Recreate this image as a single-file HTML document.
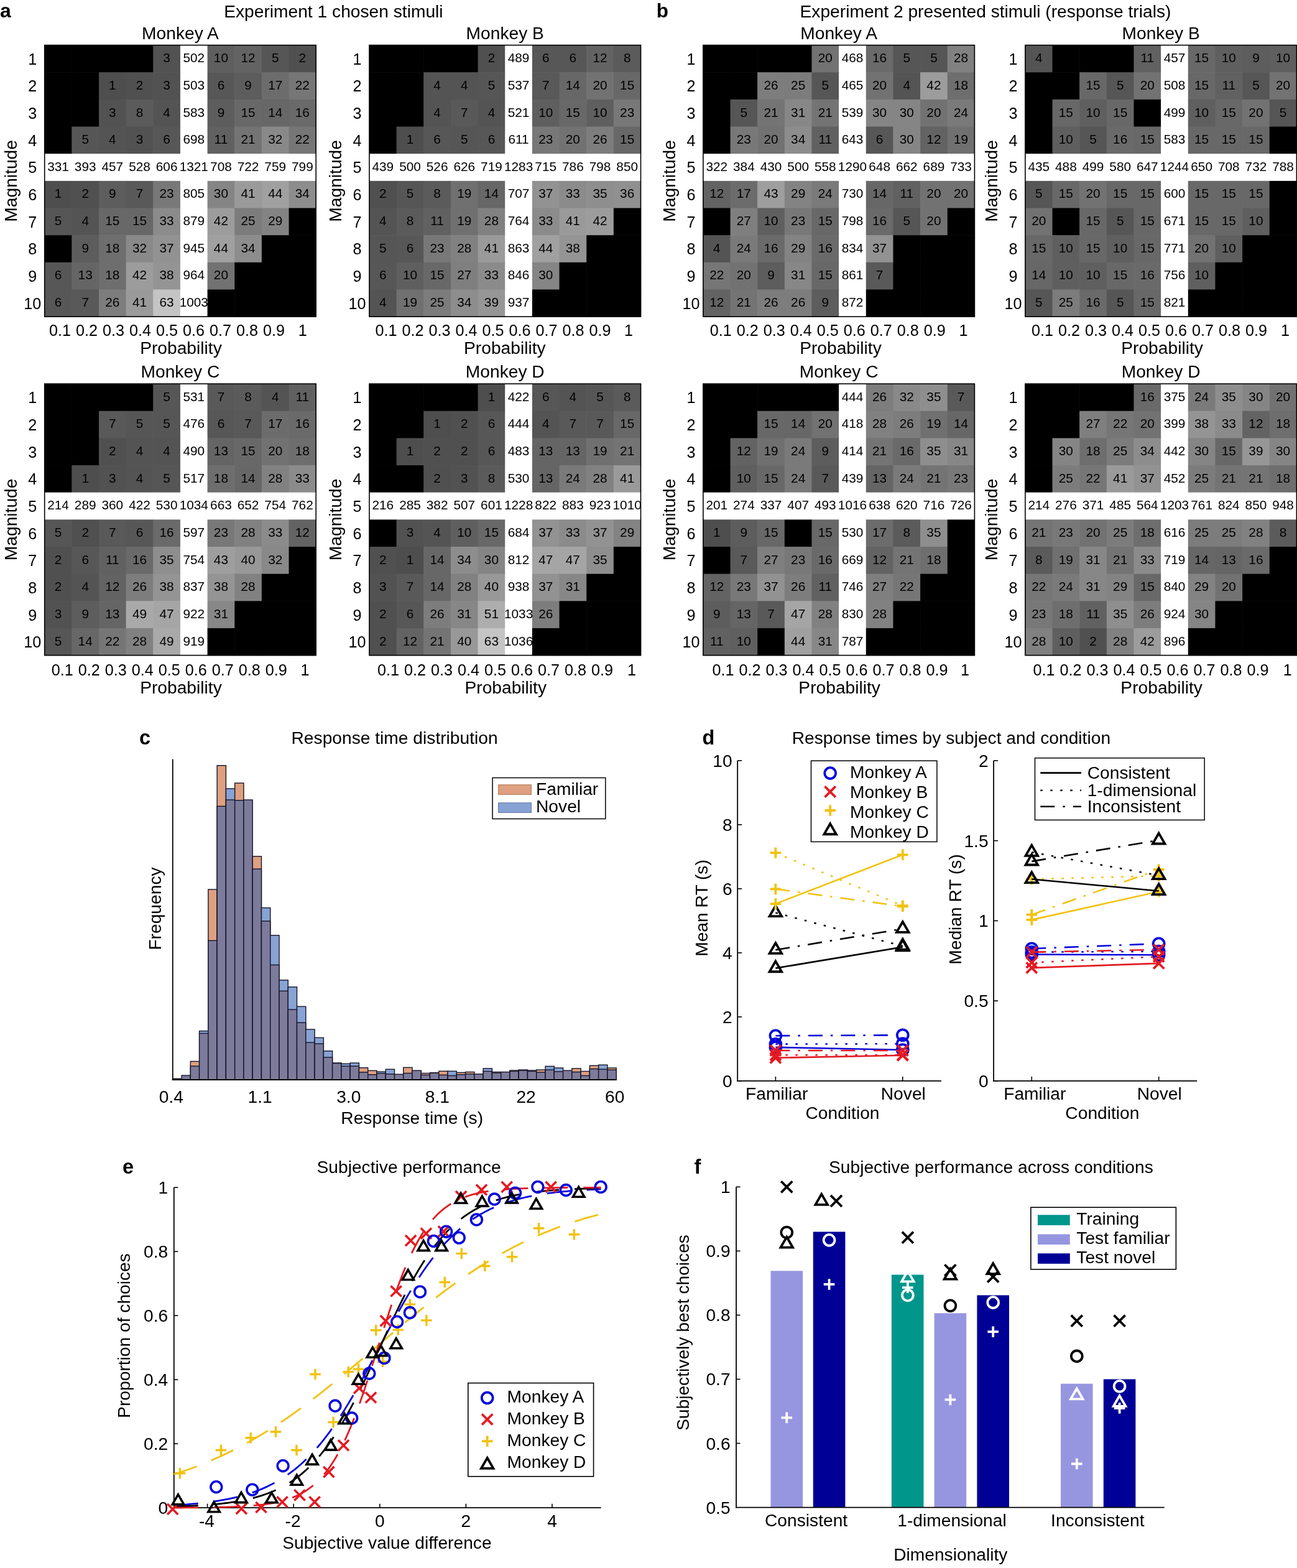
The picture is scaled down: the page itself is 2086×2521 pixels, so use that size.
<!DOCTYPE html><html><head><meta charset="utf-8"><title>Figure</title><style>html,body{margin:0;padding:0;background:#fff;width:2086px;height:2521px;overflow:hidden;}svg{display:block;}</style></head><body><svg width="2086" height="2521" viewBox="0 0 2086 2521" font-family="'Liberation Sans', Arial, Helvetica, sans-serif">
<rect width="2086" height="2521" fill="#fff"/>
<g>
<rect x="71.70" y="72.60" width="44.25" height="44.25" fill="#000"/>
<rect x="115.35" y="72.60" width="44.25" height="44.25" fill="#000"/>
<rect x="159.00" y="72.60" width="44.25" height="44.25" fill="#000"/>
<rect x="202.65" y="72.60" width="44.25" height="44.25" fill="#000"/>
<rect x="246.30" y="72.60" width="44.25" height="44.25" fill="rgb(82,82,82)"/>
<rect x="289.95" y="72.60" width="44.25" height="44.25" fill="#fff"/>
<rect x="333.60" y="72.60" width="44.25" height="44.25" fill="rgb(95,95,95)"/>
<rect x="377.25" y="72.60" width="44.25" height="44.25" fill="rgb(99,99,99)"/>
<rect x="420.90" y="72.60" width="44.25" height="44.25" fill="rgb(86,86,86)"/>
<rect x="464.55" y="72.60" width="44.25" height="44.25" fill="rgb(80,80,80)"/>
<rect x="71.70" y="116.25" width="44.25" height="44.25" fill="#000"/>
<rect x="115.35" y="116.25" width="44.25" height="44.25" fill="#000"/>
<rect x="159.00" y="116.25" width="44.25" height="44.25" fill="rgb(78,78,78)"/>
<rect x="202.65" y="116.25" width="44.25" height="44.25" fill="rgb(80,80,80)"/>
<rect x="246.30" y="116.25" width="44.25" height="44.25" fill="rgb(82,82,82)"/>
<rect x="289.95" y="116.25" width="44.25" height="44.25" fill="#fff"/>
<rect x="333.60" y="116.25" width="44.25" height="44.25" fill="rgb(87,87,87)"/>
<rect x="377.25" y="116.25" width="44.25" height="44.25" fill="rgb(93,93,93)"/>
<rect x="420.90" y="116.25" width="44.25" height="44.25" fill="rgb(108,108,108)"/>
<rect x="464.55" y="116.25" width="44.25" height="44.25" fill="rgb(118,118,118)"/>
<rect x="71.70" y="159.90" width="44.25" height="44.25" fill="#000"/>
<rect x="115.35" y="159.90" width="44.25" height="44.25" fill="#000"/>
<rect x="159.00" y="159.90" width="44.25" height="44.25" fill="rgb(82,82,82)"/>
<rect x="202.65" y="159.90" width="44.25" height="44.25" fill="rgb(91,91,91)"/>
<rect x="246.30" y="159.90" width="44.25" height="44.25" fill="rgb(84,84,84)"/>
<rect x="289.95" y="159.90" width="44.25" height="44.25" fill="#fff"/>
<rect x="333.60" y="159.90" width="44.25" height="44.25" fill="rgb(93,93,93)"/>
<rect x="377.25" y="159.90" width="44.25" height="44.25" fill="rgb(104,104,104)"/>
<rect x="420.90" y="159.90" width="44.25" height="44.25" fill="rgb(103,103,103)"/>
<rect x="464.55" y="159.90" width="44.25" height="44.25" fill="rgb(106,106,106)"/>
<rect x="71.70" y="203.55" width="44.25" height="44.25" fill="#000"/>
<rect x="115.35" y="203.55" width="44.25" height="44.25" fill="rgb(86,86,86)"/>
<rect x="159.00" y="203.55" width="44.25" height="44.25" fill="rgb(84,84,84)"/>
<rect x="202.65" y="203.55" width="44.25" height="44.25" fill="rgb(82,82,82)"/>
<rect x="246.30" y="203.55" width="44.25" height="44.25" fill="rgb(87,87,87)"/>
<rect x="289.95" y="203.55" width="44.25" height="44.25" fill="#fff"/>
<rect x="333.60" y="203.55" width="44.25" height="44.25" fill="rgb(97,97,97)"/>
<rect x="377.25" y="203.55" width="44.25" height="44.25" fill="rgb(116,116,116)"/>
<rect x="420.90" y="203.55" width="44.25" height="44.25" fill="rgb(137,137,137)"/>
<rect x="464.55" y="203.55" width="44.25" height="44.25" fill="rgb(118,118,118)"/>
<rect x="71.70" y="247.20" width="44.25" height="44.25" fill="#fff"/>
<rect x="115.35" y="247.20" width="44.25" height="44.25" fill="#fff"/>
<rect x="159.00" y="247.20" width="44.25" height="44.25" fill="#fff"/>
<rect x="202.65" y="247.20" width="44.25" height="44.25" fill="#fff"/>
<rect x="246.30" y="247.20" width="44.25" height="44.25" fill="#fff"/>
<rect x="289.95" y="247.20" width="44.25" height="44.25" fill="#fff"/>
<rect x="333.60" y="247.20" width="44.25" height="44.25" fill="#fff"/>
<rect x="377.25" y="247.20" width="44.25" height="44.25" fill="#fff"/>
<rect x="420.90" y="247.20" width="44.25" height="44.25" fill="#fff"/>
<rect x="464.55" y="247.20" width="44.25" height="44.25" fill="#fff"/>
<rect x="71.70" y="290.85" width="44.25" height="44.25" fill="rgb(78,78,78)"/>
<rect x="115.35" y="290.85" width="44.25" height="44.25" fill="rgb(80,80,80)"/>
<rect x="159.00" y="290.85" width="44.25" height="44.25" fill="rgb(93,93,93)"/>
<rect x="202.65" y="290.85" width="44.25" height="44.25" fill="rgb(89,89,89)"/>
<rect x="246.30" y="290.85" width="44.25" height="44.25" fill="rgb(120,120,120)"/>
<rect x="289.95" y="290.85" width="44.25" height="44.25" fill="#fff"/>
<rect x="333.60" y="290.85" width="44.25" height="44.25" fill="rgb(133,133,133)"/>
<rect x="377.25" y="290.85" width="44.25" height="44.25" fill="rgb(154,154,154)"/>
<rect x="420.90" y="290.85" width="44.25" height="44.25" fill="rgb(160,160,160)"/>
<rect x="464.55" y="290.85" width="44.25" height="44.25" fill="rgb(141,141,141)"/>
<rect x="71.70" y="334.50" width="44.25" height="44.25" fill="rgb(86,86,86)"/>
<rect x="115.35" y="334.50" width="44.25" height="44.25" fill="rgb(84,84,84)"/>
<rect x="159.00" y="334.50" width="44.25" height="44.25" fill="rgb(104,104,104)"/>
<rect x="202.65" y="334.50" width="44.25" height="44.25" fill="rgb(104,104,104)"/>
<rect x="246.30" y="334.50" width="44.25" height="44.25" fill="rgb(139,139,139)"/>
<rect x="289.95" y="334.50" width="44.25" height="44.25" fill="#fff"/>
<rect x="333.60" y="334.50" width="44.25" height="44.25" fill="rgb(156,156,156)"/>
<rect x="377.25" y="334.50" width="44.25" height="44.25" fill="rgb(124,124,124)"/>
<rect x="420.90" y="334.50" width="44.25" height="44.25" fill="rgb(131,131,131)"/>
<rect x="464.55" y="334.50" width="44.25" height="44.25" fill="#000"/>
<rect x="71.70" y="378.15" width="44.25" height="44.25" fill="#000"/>
<rect x="115.35" y="378.15" width="44.25" height="44.25" fill="rgb(93,93,93)"/>
<rect x="159.00" y="378.15" width="44.25" height="44.25" fill="rgb(110,110,110)"/>
<rect x="202.65" y="378.15" width="44.25" height="44.25" fill="rgb(137,137,137)"/>
<rect x="246.30" y="378.15" width="44.25" height="44.25" fill="rgb(146,146,146)"/>
<rect x="289.95" y="378.15" width="44.25" height="44.25" fill="#fff"/>
<rect x="333.60" y="378.15" width="44.25" height="44.25" fill="rgb(160,160,160)"/>
<rect x="377.25" y="378.15" width="44.25" height="44.25" fill="rgb(141,141,141)"/>
<rect x="420.90" y="378.15" width="44.25" height="44.25" fill="#000"/>
<rect x="464.55" y="378.15" width="44.25" height="44.25" fill="#000"/>
<rect x="71.70" y="421.80" width="44.25" height="44.25" fill="rgb(87,87,87)"/>
<rect x="115.35" y="421.80" width="44.25" height="44.25" fill="rgb(101,101,101)"/>
<rect x="159.00" y="421.80" width="44.25" height="44.25" fill="rgb(110,110,110)"/>
<rect x="202.65" y="421.80" width="44.25" height="44.25" fill="rgb(156,156,156)"/>
<rect x="246.30" y="421.80" width="44.25" height="44.25" fill="rgb(148,148,148)"/>
<rect x="289.95" y="421.80" width="44.25" height="44.25" fill="#fff"/>
<rect x="333.60" y="421.80" width="44.25" height="44.25" fill="rgb(114,114,114)"/>
<rect x="377.25" y="421.80" width="44.25" height="44.25" fill="#000"/>
<rect x="420.90" y="421.80" width="44.25" height="44.25" fill="#000"/>
<rect x="464.55" y="421.80" width="44.25" height="44.25" fill="#000"/>
<rect x="71.70" y="465.45" width="44.25" height="44.25" fill="rgb(87,87,87)"/>
<rect x="115.35" y="465.45" width="44.25" height="44.25" fill="rgb(89,89,89)"/>
<rect x="159.00" y="465.45" width="44.25" height="44.25" fill="rgb(125,125,125)"/>
<rect x="202.65" y="465.45" width="44.25" height="44.25" fill="rgb(154,154,154)"/>
<rect x="246.30" y="465.45" width="44.25" height="44.25" fill="rgb(196,196,196)"/>
<rect x="289.95" y="465.45" width="44.25" height="44.25" fill="#fff"/>
<rect x="333.60" y="465.45" width="44.25" height="44.25" fill="#000"/>
<rect x="377.25" y="465.45" width="44.25" height="44.25" fill="#000"/>
<rect x="420.90" y="465.45" width="44.25" height="44.25" fill="#000"/>
<rect x="464.55" y="465.45" width="44.25" height="44.25" fill="#000"/>
<rect x="71.70" y="72.60" width="436.50" height="436.50" fill="none" stroke="#000" stroke-width="1.6"/>
<text x="268.12" y="100.22" font-size="20.8" text-anchor="middle">3</text>
<text x="311.77" y="100.22" font-size="20.8" text-anchor="middle">502</text>
<text x="355.42" y="100.22" font-size="20.8" text-anchor="middle">10</text>
<text x="399.07" y="100.22" font-size="20.8" text-anchor="middle">12</text>
<text x="442.72" y="100.22" font-size="20.8" text-anchor="middle">5</text>
<text x="486.38" y="100.22" font-size="20.8" text-anchor="middle">2</text>
<text x="180.82" y="143.88" font-size="20.8" text-anchor="middle">1</text>
<text x="224.48" y="143.88" font-size="20.8" text-anchor="middle">2</text>
<text x="268.12" y="143.88" font-size="20.8" text-anchor="middle">3</text>
<text x="311.77" y="143.88" font-size="20.8" text-anchor="middle">503</text>
<text x="355.42" y="143.88" font-size="20.8" text-anchor="middle">6</text>
<text x="399.07" y="143.88" font-size="20.8" text-anchor="middle">9</text>
<text x="442.72" y="143.88" font-size="20.8" text-anchor="middle">17</text>
<text x="486.38" y="143.88" font-size="20.8" text-anchor="middle">22</text>
<text x="180.82" y="187.53" font-size="20.8" text-anchor="middle">3</text>
<text x="224.48" y="187.53" font-size="20.8" text-anchor="middle">8</text>
<text x="268.12" y="187.53" font-size="20.8" text-anchor="middle">4</text>
<text x="311.77" y="187.53" font-size="20.8" text-anchor="middle">583</text>
<text x="355.42" y="187.53" font-size="20.8" text-anchor="middle">9</text>
<text x="399.07" y="187.53" font-size="20.8" text-anchor="middle">15</text>
<text x="442.72" y="187.53" font-size="20.8" text-anchor="middle">14</text>
<text x="486.38" y="187.53" font-size="20.8" text-anchor="middle">16</text>
<text x="137.18" y="231.18" font-size="20.8" text-anchor="middle">5</text>
<text x="180.82" y="231.18" font-size="20.8" text-anchor="middle">4</text>
<text x="224.48" y="231.18" font-size="20.8" text-anchor="middle">3</text>
<text x="268.12" y="231.18" font-size="20.8" text-anchor="middle">6</text>
<text x="311.77" y="231.18" font-size="20.8" text-anchor="middle">698</text>
<text x="355.42" y="231.18" font-size="20.8" text-anchor="middle">11</text>
<text x="399.07" y="231.18" font-size="20.8" text-anchor="middle">21</text>
<text x="442.72" y="231.18" font-size="20.8" text-anchor="middle">32</text>
<text x="486.38" y="231.18" font-size="20.8" text-anchor="middle">22</text>
<text x="93.53" y="274.82" font-size="20.8" text-anchor="middle">331</text>
<text x="137.18" y="274.82" font-size="20.8" text-anchor="middle">393</text>
<text x="180.82" y="274.82" font-size="20.8" text-anchor="middle">457</text>
<text x="224.48" y="274.82" font-size="20.8" text-anchor="middle">528</text>
<text x="268.12" y="274.82" font-size="20.8" text-anchor="middle">606</text>
<text x="311.77" y="274.82" font-size="20.8" text-anchor="middle">1321</text>
<text x="355.42" y="274.82" font-size="20.8" text-anchor="middle">708</text>
<text x="399.07" y="274.82" font-size="20.8" text-anchor="middle">722</text>
<text x="442.72" y="274.82" font-size="20.8" text-anchor="middle">759</text>
<text x="486.38" y="274.82" font-size="20.8" text-anchor="middle">799</text>
<text x="93.53" y="318.47" font-size="20.8" text-anchor="middle">1</text>
<text x="137.18" y="318.47" font-size="20.8" text-anchor="middle">2</text>
<text x="180.82" y="318.47" font-size="20.8" text-anchor="middle">9</text>
<text x="224.48" y="318.47" font-size="20.8" text-anchor="middle">7</text>
<text x="268.12" y="318.47" font-size="20.8" text-anchor="middle">23</text>
<text x="311.77" y="318.47" font-size="20.8" text-anchor="middle">805</text>
<text x="355.42" y="318.47" font-size="20.8" text-anchor="middle">30</text>
<text x="399.07" y="318.47" font-size="20.8" text-anchor="middle">41</text>
<text x="442.72" y="318.47" font-size="20.8" text-anchor="middle">44</text>
<text x="486.38" y="318.47" font-size="20.8" text-anchor="middle">34</text>
<text x="93.53" y="362.12" font-size="20.8" text-anchor="middle">5</text>
<text x="137.18" y="362.12" font-size="20.8" text-anchor="middle">4</text>
<text x="180.82" y="362.12" font-size="20.8" text-anchor="middle">15</text>
<text x="224.48" y="362.12" font-size="20.8" text-anchor="middle">15</text>
<text x="268.12" y="362.12" font-size="20.8" text-anchor="middle">33</text>
<text x="311.77" y="362.12" font-size="20.8" text-anchor="middle">879</text>
<text x="355.42" y="362.12" font-size="20.8" text-anchor="middle">42</text>
<text x="399.07" y="362.12" font-size="20.8" text-anchor="middle">25</text>
<text x="442.72" y="362.12" font-size="20.8" text-anchor="middle">29</text>
<text x="137.18" y="405.78" font-size="20.8" text-anchor="middle">9</text>
<text x="180.82" y="405.78" font-size="20.8" text-anchor="middle">18</text>
<text x="224.48" y="405.78" font-size="20.8" text-anchor="middle">32</text>
<text x="268.12" y="405.78" font-size="20.8" text-anchor="middle">37</text>
<text x="311.77" y="405.78" font-size="20.8" text-anchor="middle">945</text>
<text x="355.42" y="405.78" font-size="20.8" text-anchor="middle">44</text>
<text x="399.07" y="405.78" font-size="20.8" text-anchor="middle">34</text>
<text x="93.53" y="449.43" font-size="20.8" text-anchor="middle">6</text>
<text x="137.18" y="449.43" font-size="20.8" text-anchor="middle">13</text>
<text x="180.82" y="449.43" font-size="20.8" text-anchor="middle">18</text>
<text x="224.48" y="449.43" font-size="20.8" text-anchor="middle">42</text>
<text x="268.12" y="449.43" font-size="20.8" text-anchor="middle">38</text>
<text x="311.77" y="449.43" font-size="20.8" text-anchor="middle">964</text>
<text x="355.42" y="449.43" font-size="20.8" text-anchor="middle">20</text>
<text x="93.53" y="493.07" font-size="20.8" text-anchor="middle">6</text>
<text x="137.18" y="493.07" font-size="20.8" text-anchor="middle">7</text>
<text x="180.82" y="493.07" font-size="20.8" text-anchor="middle">26</text>
<text x="224.48" y="493.07" font-size="20.8" text-anchor="middle">41</text>
<text x="268.12" y="493.07" font-size="20.8" text-anchor="middle">63</text>
<text x="311.77" y="493.07" font-size="20.8" text-anchor="middle">1003</text>
<text x="52.20" y="103.83" font-size="25.2" text-anchor="middle" fill="#000">1</text>
<text x="52.20" y="147.47" font-size="25.2" text-anchor="middle" fill="#000">2</text>
<text x="52.20" y="191.12" font-size="25.2" text-anchor="middle" fill="#000">3</text>
<text x="52.20" y="234.78" font-size="25.2" text-anchor="middle" fill="#000">4</text>
<text x="52.20" y="278.42" font-size="25.2" text-anchor="middle" fill="#000">5</text>
<text x="52.20" y="322.07" font-size="25.2" text-anchor="middle" fill="#000">6</text>
<text x="52.20" y="365.72" font-size="25.2" text-anchor="middle" fill="#000">7</text>
<text x="52.20" y="409.38" font-size="25.2" text-anchor="middle" fill="#000">8</text>
<text x="52.20" y="453.02" font-size="25.2" text-anchor="middle" fill="#000">9</text>
<text x="52.20" y="496.67" font-size="25.2" text-anchor="middle" fill="#000">10</text>
<text x="78.92" y="539.70" font-size="25.2" text-anchor="start" fill="#000">0.1</text>
<text x="121.92" y="539.70" font-size="25.2" text-anchor="start" fill="#000">0.2</text>
<text x="164.92" y="539.70" font-size="25.2" text-anchor="start" fill="#000">0.3</text>
<text x="207.92" y="539.70" font-size="25.2" text-anchor="start" fill="#000">0.4</text>
<text x="250.92" y="539.70" font-size="25.2" text-anchor="start" fill="#000">0.5</text>
<text x="293.92" y="539.70" font-size="25.2" text-anchor="start" fill="#000">0.6</text>
<text x="336.92" y="539.70" font-size="25.2" text-anchor="start" fill="#000">0.7</text>
<text x="379.92" y="539.70" font-size="25.2" text-anchor="start" fill="#000">0.8</text>
<text x="422.92" y="539.70" font-size="25.2" text-anchor="start" fill="#000">0.9</text>
<text x="479.80" y="539.70" font-size="25.2" text-anchor="start" fill="#000">1</text>
<text x="290.95" y="569.30" font-size="28.2" text-anchor="middle" fill="#000">Probability</text>
<text x="26.70" y="290.85" font-size="28.2" text-anchor="middle" fill="#000" transform="rotate(-90 26.70 290.85)">Magnitude</text>
<text x="289.95" y="62.70" font-size="28.2" text-anchor="middle" fill="#000">Monkey A</text>
</g>
<g>
<rect x="594.00" y="72.60" width="44.25" height="44.25" fill="#000"/>
<rect x="637.65" y="72.60" width="44.25" height="44.25" fill="#000"/>
<rect x="681.30" y="72.60" width="44.25" height="44.25" fill="#000"/>
<rect x="724.95" y="72.60" width="44.25" height="44.25" fill="#000"/>
<rect x="768.60" y="72.60" width="44.25" height="44.25" fill="rgb(80,80,80)"/>
<rect x="812.25" y="72.60" width="44.25" height="44.25" fill="#fff"/>
<rect x="855.90" y="72.60" width="44.25" height="44.25" fill="rgb(87,87,87)"/>
<rect x="899.55" y="72.60" width="44.25" height="44.25" fill="rgb(87,87,87)"/>
<rect x="943.20" y="72.60" width="44.25" height="44.25" fill="rgb(99,99,99)"/>
<rect x="986.85" y="72.60" width="44.25" height="44.25" fill="rgb(91,91,91)"/>
<rect x="594.00" y="116.25" width="44.25" height="44.25" fill="#000"/>
<rect x="637.65" y="116.25" width="44.25" height="44.25" fill="#000"/>
<rect x="681.30" y="116.25" width="44.25" height="44.25" fill="rgb(84,84,84)"/>
<rect x="724.95" y="116.25" width="44.25" height="44.25" fill="rgb(84,84,84)"/>
<rect x="768.60" y="116.25" width="44.25" height="44.25" fill="rgb(86,86,86)"/>
<rect x="812.25" y="116.25" width="44.25" height="44.25" fill="#fff"/>
<rect x="855.90" y="116.25" width="44.25" height="44.25" fill="rgb(89,89,89)"/>
<rect x="899.55" y="116.25" width="44.25" height="44.25" fill="rgb(103,103,103)"/>
<rect x="943.20" y="116.25" width="44.25" height="44.25" fill="rgb(114,114,114)"/>
<rect x="986.85" y="116.25" width="44.25" height="44.25" fill="rgb(104,104,104)"/>
<rect x="594.00" y="159.90" width="44.25" height="44.25" fill="#000"/>
<rect x="637.65" y="159.90" width="44.25" height="44.25" fill="#000"/>
<rect x="681.30" y="159.90" width="44.25" height="44.25" fill="rgb(84,84,84)"/>
<rect x="724.95" y="159.90" width="44.25" height="44.25" fill="rgb(89,89,89)"/>
<rect x="768.60" y="159.90" width="44.25" height="44.25" fill="rgb(84,84,84)"/>
<rect x="812.25" y="159.90" width="44.25" height="44.25" fill="#fff"/>
<rect x="855.90" y="159.90" width="44.25" height="44.25" fill="rgb(95,95,95)"/>
<rect x="899.55" y="159.90" width="44.25" height="44.25" fill="rgb(104,104,104)"/>
<rect x="943.20" y="159.90" width="44.25" height="44.25" fill="rgb(95,95,95)"/>
<rect x="986.85" y="159.90" width="44.25" height="44.25" fill="rgb(120,120,120)"/>
<rect x="594.00" y="203.55" width="44.25" height="44.25" fill="#000"/>
<rect x="637.65" y="203.55" width="44.25" height="44.25" fill="rgb(78,78,78)"/>
<rect x="681.30" y="203.55" width="44.25" height="44.25" fill="rgb(87,87,87)"/>
<rect x="724.95" y="203.55" width="44.25" height="44.25" fill="rgb(86,86,86)"/>
<rect x="768.60" y="203.55" width="44.25" height="44.25" fill="rgb(87,87,87)"/>
<rect x="812.25" y="203.55" width="44.25" height="44.25" fill="#fff"/>
<rect x="855.90" y="203.55" width="44.25" height="44.25" fill="rgb(120,120,120)"/>
<rect x="899.55" y="203.55" width="44.25" height="44.25" fill="rgb(114,114,114)"/>
<rect x="943.20" y="203.55" width="44.25" height="44.25" fill="rgb(125,125,125)"/>
<rect x="986.85" y="203.55" width="44.25" height="44.25" fill="rgb(104,104,104)"/>
<rect x="594.00" y="247.20" width="44.25" height="44.25" fill="#fff"/>
<rect x="637.65" y="247.20" width="44.25" height="44.25" fill="#fff"/>
<rect x="681.30" y="247.20" width="44.25" height="44.25" fill="#fff"/>
<rect x="724.95" y="247.20" width="44.25" height="44.25" fill="#fff"/>
<rect x="768.60" y="247.20" width="44.25" height="44.25" fill="#fff"/>
<rect x="812.25" y="247.20" width="44.25" height="44.25" fill="#fff"/>
<rect x="855.90" y="247.20" width="44.25" height="44.25" fill="#fff"/>
<rect x="899.55" y="247.20" width="44.25" height="44.25" fill="#fff"/>
<rect x="943.20" y="247.20" width="44.25" height="44.25" fill="#fff"/>
<rect x="986.85" y="247.20" width="44.25" height="44.25" fill="#fff"/>
<rect x="594.00" y="290.85" width="44.25" height="44.25" fill="rgb(80,80,80)"/>
<rect x="637.65" y="290.85" width="44.25" height="44.25" fill="rgb(86,86,86)"/>
<rect x="681.30" y="290.85" width="44.25" height="44.25" fill="rgb(91,91,91)"/>
<rect x="724.95" y="290.85" width="44.25" height="44.25" fill="rgb(112,112,112)"/>
<rect x="768.60" y="290.85" width="44.25" height="44.25" fill="rgb(103,103,103)"/>
<rect x="812.25" y="290.85" width="44.25" height="44.25" fill="#fff"/>
<rect x="855.90" y="290.85" width="44.25" height="44.25" fill="rgb(146,146,146)"/>
<rect x="899.55" y="290.85" width="44.25" height="44.25" fill="rgb(139,139,139)"/>
<rect x="943.20" y="290.85" width="44.25" height="44.25" fill="rgb(142,142,142)"/>
<rect x="986.85" y="290.85" width="44.25" height="44.25" fill="rgb(144,144,144)"/>
<rect x="594.00" y="334.50" width="44.25" height="44.25" fill="rgb(84,84,84)"/>
<rect x="637.65" y="334.50" width="44.25" height="44.25" fill="rgb(91,91,91)"/>
<rect x="681.30" y="334.50" width="44.25" height="44.25" fill="rgb(97,97,97)"/>
<rect x="724.95" y="334.50" width="44.25" height="44.25" fill="rgb(112,112,112)"/>
<rect x="768.60" y="334.50" width="44.25" height="44.25" fill="rgb(129,129,129)"/>
<rect x="812.25" y="334.50" width="44.25" height="44.25" fill="#fff"/>
<rect x="855.90" y="334.50" width="44.25" height="44.25" fill="rgb(139,139,139)"/>
<rect x="899.55" y="334.50" width="44.25" height="44.25" fill="rgb(154,154,154)"/>
<rect x="943.20" y="334.50" width="44.25" height="44.25" fill="rgb(156,156,156)"/>
<rect x="986.85" y="334.50" width="44.25" height="44.25" fill="#000"/>
<rect x="594.00" y="378.15" width="44.25" height="44.25" fill="rgb(86,86,86)"/>
<rect x="637.65" y="378.15" width="44.25" height="44.25" fill="rgb(87,87,87)"/>
<rect x="681.30" y="378.15" width="44.25" height="44.25" fill="rgb(120,120,120)"/>
<rect x="724.95" y="378.15" width="44.25" height="44.25" fill="rgb(129,129,129)"/>
<rect x="768.60" y="378.15" width="44.25" height="44.25" fill="rgb(154,154,154)"/>
<rect x="812.25" y="378.15" width="44.25" height="44.25" fill="#fff"/>
<rect x="855.90" y="378.15" width="44.25" height="44.25" fill="rgb(160,160,160)"/>
<rect x="899.55" y="378.15" width="44.25" height="44.25" fill="rgb(148,148,148)"/>
<rect x="943.20" y="378.15" width="44.25" height="44.25" fill="#000"/>
<rect x="986.85" y="378.15" width="44.25" height="44.25" fill="#000"/>
<rect x="594.00" y="421.80" width="44.25" height="44.25" fill="rgb(87,87,87)"/>
<rect x="637.65" y="421.80" width="44.25" height="44.25" fill="rgb(95,95,95)"/>
<rect x="681.30" y="421.80" width="44.25" height="44.25" fill="rgb(104,104,104)"/>
<rect x="724.95" y="421.80" width="44.25" height="44.25" fill="rgb(127,127,127)"/>
<rect x="768.60" y="421.80" width="44.25" height="44.25" fill="rgb(139,139,139)"/>
<rect x="812.25" y="421.80" width="44.25" height="44.25" fill="#fff"/>
<rect x="855.90" y="421.80" width="44.25" height="44.25" fill="rgb(133,133,133)"/>
<rect x="899.55" y="421.80" width="44.25" height="44.25" fill="#000"/>
<rect x="943.20" y="421.80" width="44.25" height="44.25" fill="#000"/>
<rect x="986.85" y="421.80" width="44.25" height="44.25" fill="#000"/>
<rect x="594.00" y="465.45" width="44.25" height="44.25" fill="rgb(84,84,84)"/>
<rect x="637.65" y="465.45" width="44.25" height="44.25" fill="rgb(112,112,112)"/>
<rect x="681.30" y="465.45" width="44.25" height="44.25" fill="rgb(124,124,124)"/>
<rect x="724.95" y="465.45" width="44.25" height="44.25" fill="rgb(141,141,141)"/>
<rect x="768.60" y="465.45" width="44.25" height="44.25" fill="rgb(150,150,150)"/>
<rect x="812.25" y="465.45" width="44.25" height="44.25" fill="#fff"/>
<rect x="855.90" y="465.45" width="44.25" height="44.25" fill="#000"/>
<rect x="899.55" y="465.45" width="44.25" height="44.25" fill="#000"/>
<rect x="943.20" y="465.45" width="44.25" height="44.25" fill="#000"/>
<rect x="986.85" y="465.45" width="44.25" height="44.25" fill="#000"/>
<rect x="594.00" y="72.60" width="436.50" height="436.50" fill="none" stroke="#000" stroke-width="1.6"/>
<text x="790.42" y="100.22" font-size="20.8" text-anchor="middle">2</text>
<text x="834.08" y="100.22" font-size="20.8" text-anchor="middle">489</text>
<text x="877.72" y="100.22" font-size="20.8" text-anchor="middle">6</text>
<text x="921.38" y="100.22" font-size="20.8" text-anchor="middle">6</text>
<text x="965.02" y="100.22" font-size="20.8" text-anchor="middle">12</text>
<text x="1008.67" y="100.22" font-size="20.8" text-anchor="middle">8</text>
<text x="703.12" y="143.88" font-size="20.8" text-anchor="middle">4</text>
<text x="746.77" y="143.88" font-size="20.8" text-anchor="middle">4</text>
<text x="790.42" y="143.88" font-size="20.8" text-anchor="middle">5</text>
<text x="834.08" y="143.88" font-size="20.8" text-anchor="middle">537</text>
<text x="877.72" y="143.88" font-size="20.8" text-anchor="middle">7</text>
<text x="921.38" y="143.88" font-size="20.8" text-anchor="middle">14</text>
<text x="965.02" y="143.88" font-size="20.8" text-anchor="middle">20</text>
<text x="1008.67" y="143.88" font-size="20.8" text-anchor="middle">15</text>
<text x="703.12" y="187.53" font-size="20.8" text-anchor="middle">4</text>
<text x="746.77" y="187.53" font-size="20.8" text-anchor="middle">7</text>
<text x="790.42" y="187.53" font-size="20.8" text-anchor="middle">4</text>
<text x="834.08" y="187.53" font-size="20.8" text-anchor="middle">521</text>
<text x="877.72" y="187.53" font-size="20.8" text-anchor="middle">10</text>
<text x="921.38" y="187.53" font-size="20.8" text-anchor="middle">15</text>
<text x="965.02" y="187.53" font-size="20.8" text-anchor="middle">10</text>
<text x="1008.67" y="187.53" font-size="20.8" text-anchor="middle">23</text>
<text x="659.48" y="231.18" font-size="20.8" text-anchor="middle">1</text>
<text x="703.12" y="231.18" font-size="20.8" text-anchor="middle">6</text>
<text x="746.77" y="231.18" font-size="20.8" text-anchor="middle">5</text>
<text x="790.42" y="231.18" font-size="20.8" text-anchor="middle">6</text>
<text x="834.08" y="231.18" font-size="20.8" text-anchor="middle">611</text>
<text x="877.72" y="231.18" font-size="20.8" text-anchor="middle">23</text>
<text x="921.38" y="231.18" font-size="20.8" text-anchor="middle">20</text>
<text x="965.02" y="231.18" font-size="20.8" text-anchor="middle">26</text>
<text x="1008.67" y="231.18" font-size="20.8" text-anchor="middle">15</text>
<text x="615.83" y="274.82" font-size="20.8" text-anchor="middle">439</text>
<text x="659.48" y="274.82" font-size="20.8" text-anchor="middle">500</text>
<text x="703.12" y="274.82" font-size="20.8" text-anchor="middle">526</text>
<text x="746.77" y="274.82" font-size="20.8" text-anchor="middle">626</text>
<text x="790.42" y="274.82" font-size="20.8" text-anchor="middle">719</text>
<text x="834.08" y="274.82" font-size="20.8" text-anchor="middle">1283</text>
<text x="877.72" y="274.82" font-size="20.8" text-anchor="middle">715</text>
<text x="921.38" y="274.82" font-size="20.8" text-anchor="middle">786</text>
<text x="965.02" y="274.82" font-size="20.8" text-anchor="middle">798</text>
<text x="1008.67" y="274.82" font-size="20.8" text-anchor="middle">850</text>
<text x="615.83" y="318.47" font-size="20.8" text-anchor="middle">2</text>
<text x="659.48" y="318.47" font-size="20.8" text-anchor="middle">5</text>
<text x="703.12" y="318.47" font-size="20.8" text-anchor="middle">8</text>
<text x="746.77" y="318.47" font-size="20.8" text-anchor="middle">19</text>
<text x="790.42" y="318.47" font-size="20.8" text-anchor="middle">14</text>
<text x="834.08" y="318.47" font-size="20.8" text-anchor="middle">707</text>
<text x="877.72" y="318.47" font-size="20.8" text-anchor="middle">37</text>
<text x="921.38" y="318.47" font-size="20.8" text-anchor="middle">33</text>
<text x="965.02" y="318.47" font-size="20.8" text-anchor="middle">35</text>
<text x="1008.67" y="318.47" font-size="20.8" text-anchor="middle">36</text>
<text x="615.83" y="362.12" font-size="20.8" text-anchor="middle">4</text>
<text x="659.48" y="362.12" font-size="20.8" text-anchor="middle">8</text>
<text x="703.12" y="362.12" font-size="20.8" text-anchor="middle">11</text>
<text x="746.77" y="362.12" font-size="20.8" text-anchor="middle">19</text>
<text x="790.42" y="362.12" font-size="20.8" text-anchor="middle">28</text>
<text x="834.08" y="362.12" font-size="20.8" text-anchor="middle">764</text>
<text x="877.72" y="362.12" font-size="20.8" text-anchor="middle">33</text>
<text x="921.38" y="362.12" font-size="20.8" text-anchor="middle">41</text>
<text x="965.02" y="362.12" font-size="20.8" text-anchor="middle">42</text>
<text x="615.83" y="405.78" font-size="20.8" text-anchor="middle">5</text>
<text x="659.48" y="405.78" font-size="20.8" text-anchor="middle">6</text>
<text x="703.12" y="405.78" font-size="20.8" text-anchor="middle">23</text>
<text x="746.77" y="405.78" font-size="20.8" text-anchor="middle">28</text>
<text x="790.42" y="405.78" font-size="20.8" text-anchor="middle">41</text>
<text x="834.08" y="405.78" font-size="20.8" text-anchor="middle">863</text>
<text x="877.72" y="405.78" font-size="20.8" text-anchor="middle">44</text>
<text x="921.38" y="405.78" font-size="20.8" text-anchor="middle">38</text>
<text x="615.83" y="449.43" font-size="20.8" text-anchor="middle">6</text>
<text x="659.48" y="449.43" font-size="20.8" text-anchor="middle">10</text>
<text x="703.12" y="449.43" font-size="20.8" text-anchor="middle">15</text>
<text x="746.77" y="449.43" font-size="20.8" text-anchor="middle">27</text>
<text x="790.42" y="449.43" font-size="20.8" text-anchor="middle">33</text>
<text x="834.08" y="449.43" font-size="20.8" text-anchor="middle">846</text>
<text x="877.72" y="449.43" font-size="20.8" text-anchor="middle">30</text>
<text x="615.83" y="493.07" font-size="20.8" text-anchor="middle">4</text>
<text x="659.48" y="493.07" font-size="20.8" text-anchor="middle">19</text>
<text x="703.12" y="493.07" font-size="20.8" text-anchor="middle">25</text>
<text x="746.77" y="493.07" font-size="20.8" text-anchor="middle">34</text>
<text x="790.42" y="493.07" font-size="20.8" text-anchor="middle">39</text>
<text x="834.08" y="493.07" font-size="20.8" text-anchor="middle">937</text>
<text x="574.50" y="103.83" font-size="25.2" text-anchor="middle" fill="#000">1</text>
<text x="574.50" y="147.47" font-size="25.2" text-anchor="middle" fill="#000">2</text>
<text x="574.50" y="191.12" font-size="25.2" text-anchor="middle" fill="#000">3</text>
<text x="574.50" y="234.78" font-size="25.2" text-anchor="middle" fill="#000">4</text>
<text x="574.50" y="278.42" font-size="25.2" text-anchor="middle" fill="#000">5</text>
<text x="574.50" y="322.07" font-size="25.2" text-anchor="middle" fill="#000">6</text>
<text x="574.50" y="365.72" font-size="25.2" text-anchor="middle" fill="#000">7</text>
<text x="574.50" y="409.38" font-size="25.2" text-anchor="middle" fill="#000">8</text>
<text x="574.50" y="453.02" font-size="25.2" text-anchor="middle" fill="#000">9</text>
<text x="574.50" y="496.67" font-size="25.2" text-anchor="middle" fill="#000">10</text>
<text x="603.62" y="539.70" font-size="25.2" text-anchor="start" fill="#000">0.1</text>
<text x="646.62" y="539.70" font-size="25.2" text-anchor="start" fill="#000">0.2</text>
<text x="689.62" y="539.70" font-size="25.2" text-anchor="start" fill="#000">0.3</text>
<text x="732.62" y="539.70" font-size="25.2" text-anchor="start" fill="#000">0.4</text>
<text x="775.62" y="539.70" font-size="25.2" text-anchor="start" fill="#000">0.5</text>
<text x="818.62" y="539.70" font-size="25.2" text-anchor="start" fill="#000">0.6</text>
<text x="861.62" y="539.70" font-size="25.2" text-anchor="start" fill="#000">0.7</text>
<text x="904.62" y="539.70" font-size="25.2" text-anchor="start" fill="#000">0.8</text>
<text x="947.62" y="539.70" font-size="25.2" text-anchor="start" fill="#000">0.9</text>
<text x="1004.10" y="539.70" font-size="25.2" text-anchor="start" fill="#000">1</text>
<text x="811.85" y="569.30" font-size="28.2" text-anchor="middle" fill="#000">Probability</text>
<text x="549.00" y="290.85" font-size="28.2" text-anchor="middle" fill="#000" transform="rotate(-90 549.00 290.85)">Magnitude</text>
<text x="812.25" y="62.70" font-size="28.2" text-anchor="middle" fill="#000">Monkey B</text>
</g>
<g>
<rect x="71.70" y="617.10" width="44.25" height="44.25" fill="#000"/>
<rect x="115.35" y="617.10" width="44.25" height="44.25" fill="#000"/>
<rect x="159.00" y="617.10" width="44.25" height="44.25" fill="#000"/>
<rect x="202.65" y="617.10" width="44.25" height="44.25" fill="#000"/>
<rect x="246.30" y="617.10" width="44.25" height="44.25" fill="rgb(86,86,86)"/>
<rect x="289.95" y="617.10" width="44.25" height="44.25" fill="#fff"/>
<rect x="333.60" y="617.10" width="44.25" height="44.25" fill="rgb(89,89,89)"/>
<rect x="377.25" y="617.10" width="44.25" height="44.25" fill="rgb(91,91,91)"/>
<rect x="420.90" y="617.10" width="44.25" height="44.25" fill="rgb(84,84,84)"/>
<rect x="464.55" y="617.10" width="44.25" height="44.25" fill="rgb(97,97,97)"/>
<rect x="71.70" y="660.75" width="44.25" height="44.25" fill="#000"/>
<rect x="115.35" y="660.75" width="44.25" height="44.25" fill="#000"/>
<rect x="159.00" y="660.75" width="44.25" height="44.25" fill="rgb(89,89,89)"/>
<rect x="202.65" y="660.75" width="44.25" height="44.25" fill="rgb(86,86,86)"/>
<rect x="246.30" y="660.75" width="44.25" height="44.25" fill="rgb(86,86,86)"/>
<rect x="289.95" y="660.75" width="44.25" height="44.25" fill="#fff"/>
<rect x="333.60" y="660.75" width="44.25" height="44.25" fill="rgb(87,87,87)"/>
<rect x="377.25" y="660.75" width="44.25" height="44.25" fill="rgb(89,89,89)"/>
<rect x="420.90" y="660.75" width="44.25" height="44.25" fill="rgb(108,108,108)"/>
<rect x="464.55" y="660.75" width="44.25" height="44.25" fill="rgb(106,106,106)"/>
<rect x="71.70" y="704.40" width="44.25" height="44.25" fill="#000"/>
<rect x="115.35" y="704.40" width="44.25" height="44.25" fill="#000"/>
<rect x="159.00" y="704.40" width="44.25" height="44.25" fill="rgb(80,80,80)"/>
<rect x="202.65" y="704.40" width="44.25" height="44.25" fill="rgb(84,84,84)"/>
<rect x="246.30" y="704.40" width="44.25" height="44.25" fill="rgb(84,84,84)"/>
<rect x="289.95" y="704.40" width="44.25" height="44.25" fill="#fff"/>
<rect x="333.60" y="704.40" width="44.25" height="44.25" fill="rgb(101,101,101)"/>
<rect x="377.25" y="704.40" width="44.25" height="44.25" fill="rgb(104,104,104)"/>
<rect x="420.90" y="704.40" width="44.25" height="44.25" fill="rgb(114,114,114)"/>
<rect x="464.55" y="704.40" width="44.25" height="44.25" fill="rgb(110,110,110)"/>
<rect x="71.70" y="748.05" width="44.25" height="44.25" fill="#000"/>
<rect x="115.35" y="748.05" width="44.25" height="44.25" fill="rgb(78,78,78)"/>
<rect x="159.00" y="748.05" width="44.25" height="44.25" fill="rgb(82,82,82)"/>
<rect x="202.65" y="748.05" width="44.25" height="44.25" fill="rgb(84,84,84)"/>
<rect x="246.30" y="748.05" width="44.25" height="44.25" fill="rgb(86,86,86)"/>
<rect x="289.95" y="748.05" width="44.25" height="44.25" fill="#fff"/>
<rect x="333.60" y="748.05" width="44.25" height="44.25" fill="rgb(110,110,110)"/>
<rect x="377.25" y="748.05" width="44.25" height="44.25" fill="rgb(103,103,103)"/>
<rect x="420.90" y="748.05" width="44.25" height="44.25" fill="rgb(129,129,129)"/>
<rect x="464.55" y="748.05" width="44.25" height="44.25" fill="rgb(139,139,139)"/>
<rect x="71.70" y="791.70" width="44.25" height="44.25" fill="#fff"/>
<rect x="115.35" y="791.70" width="44.25" height="44.25" fill="#fff"/>
<rect x="159.00" y="791.70" width="44.25" height="44.25" fill="#fff"/>
<rect x="202.65" y="791.70" width="44.25" height="44.25" fill="#fff"/>
<rect x="246.30" y="791.70" width="44.25" height="44.25" fill="#fff"/>
<rect x="289.95" y="791.70" width="44.25" height="44.25" fill="#fff"/>
<rect x="333.60" y="791.70" width="44.25" height="44.25" fill="#fff"/>
<rect x="377.25" y="791.70" width="44.25" height="44.25" fill="#fff"/>
<rect x="420.90" y="791.70" width="44.25" height="44.25" fill="#fff"/>
<rect x="464.55" y="791.70" width="44.25" height="44.25" fill="#fff"/>
<rect x="71.70" y="835.35" width="44.25" height="44.25" fill="rgb(86,86,86)"/>
<rect x="115.35" y="835.35" width="44.25" height="44.25" fill="rgb(80,80,80)"/>
<rect x="159.00" y="835.35" width="44.25" height="44.25" fill="rgb(89,89,89)"/>
<rect x="202.65" y="835.35" width="44.25" height="44.25" fill="rgb(87,87,87)"/>
<rect x="246.30" y="835.35" width="44.25" height="44.25" fill="rgb(106,106,106)"/>
<rect x="289.95" y="835.35" width="44.25" height="44.25" fill="#fff"/>
<rect x="333.60" y="835.35" width="44.25" height="44.25" fill="rgb(120,120,120)"/>
<rect x="377.25" y="835.35" width="44.25" height="44.25" fill="rgb(129,129,129)"/>
<rect x="420.90" y="835.35" width="44.25" height="44.25" fill="rgb(139,139,139)"/>
<rect x="464.55" y="835.35" width="44.25" height="44.25" fill="rgb(99,99,99)"/>
<rect x="71.70" y="879.00" width="44.25" height="44.25" fill="rgb(80,80,80)"/>
<rect x="115.35" y="879.00" width="44.25" height="44.25" fill="rgb(87,87,87)"/>
<rect x="159.00" y="879.00" width="44.25" height="44.25" fill="rgb(97,97,97)"/>
<rect x="202.65" y="879.00" width="44.25" height="44.25" fill="rgb(106,106,106)"/>
<rect x="246.30" y="879.00" width="44.25" height="44.25" fill="rgb(142,142,142)"/>
<rect x="289.95" y="879.00" width="44.25" height="44.25" fill="#fff"/>
<rect x="333.60" y="879.00" width="44.25" height="44.25" fill="rgb(158,158,158)"/>
<rect x="377.25" y="879.00" width="44.25" height="44.25" fill="rgb(152,152,152)"/>
<rect x="420.90" y="879.00" width="44.25" height="44.25" fill="rgb(137,137,137)"/>
<rect x="464.55" y="879.00" width="44.25" height="44.25" fill="#000"/>
<rect x="71.70" y="922.65" width="44.25" height="44.25" fill="rgb(80,80,80)"/>
<rect x="115.35" y="922.65" width="44.25" height="44.25" fill="rgb(84,84,84)"/>
<rect x="159.00" y="922.65" width="44.25" height="44.25" fill="rgb(99,99,99)"/>
<rect x="202.65" y="922.65" width="44.25" height="44.25" fill="rgb(125,125,125)"/>
<rect x="246.30" y="922.65" width="44.25" height="44.25" fill="rgb(148,148,148)"/>
<rect x="289.95" y="922.65" width="44.25" height="44.25" fill="#fff"/>
<rect x="333.60" y="922.65" width="44.25" height="44.25" fill="rgb(148,148,148)"/>
<rect x="377.25" y="922.65" width="44.25" height="44.25" fill="rgb(129,129,129)"/>
<rect x="420.90" y="922.65" width="44.25" height="44.25" fill="#000"/>
<rect x="464.55" y="922.65" width="44.25" height="44.25" fill="#000"/>
<rect x="71.70" y="966.30" width="44.25" height="44.25" fill="rgb(82,82,82)"/>
<rect x="115.35" y="966.30" width="44.25" height="44.25" fill="rgb(93,93,93)"/>
<rect x="159.00" y="966.30" width="44.25" height="44.25" fill="rgb(101,101,101)"/>
<rect x="202.65" y="966.30" width="44.25" height="44.25" fill="rgb(169,169,169)"/>
<rect x="246.30" y="966.30" width="44.25" height="44.25" fill="rgb(165,165,165)"/>
<rect x="289.95" y="966.30" width="44.25" height="44.25" fill="#fff"/>
<rect x="333.60" y="966.30" width="44.25" height="44.25" fill="rgb(135,135,135)"/>
<rect x="377.25" y="966.30" width="44.25" height="44.25" fill="#000"/>
<rect x="420.90" y="966.30" width="44.25" height="44.25" fill="#000"/>
<rect x="464.55" y="966.30" width="44.25" height="44.25" fill="#000"/>
<rect x="71.70" y="1009.95" width="44.25" height="44.25" fill="rgb(86,86,86)"/>
<rect x="115.35" y="1009.95" width="44.25" height="44.25" fill="rgb(103,103,103)"/>
<rect x="159.00" y="1009.95" width="44.25" height="44.25" fill="rgb(118,118,118)"/>
<rect x="202.65" y="1009.95" width="44.25" height="44.25" fill="rgb(129,129,129)"/>
<rect x="246.30" y="1009.95" width="44.25" height="44.25" fill="rgb(169,169,169)"/>
<rect x="289.95" y="1009.95" width="44.25" height="44.25" fill="#fff"/>
<rect x="333.60" y="1009.95" width="44.25" height="44.25" fill="#000"/>
<rect x="377.25" y="1009.95" width="44.25" height="44.25" fill="#000"/>
<rect x="420.90" y="1009.95" width="44.25" height="44.25" fill="#000"/>
<rect x="464.55" y="1009.95" width="44.25" height="44.25" fill="#000"/>
<rect x="71.70" y="617.10" width="436.50" height="436.50" fill="none" stroke="#000" stroke-width="1.6"/>
<text x="268.12" y="644.73" font-size="20.8" text-anchor="middle">5</text>
<text x="311.77" y="644.73" font-size="20.8" text-anchor="middle">531</text>
<text x="355.42" y="644.73" font-size="20.8" text-anchor="middle">7</text>
<text x="399.07" y="644.73" font-size="20.8" text-anchor="middle">8</text>
<text x="442.72" y="644.73" font-size="20.8" text-anchor="middle">4</text>
<text x="486.38" y="644.73" font-size="20.8" text-anchor="middle">11</text>
<text x="180.82" y="688.38" font-size="20.8" text-anchor="middle">7</text>
<text x="224.48" y="688.38" font-size="20.8" text-anchor="middle">5</text>
<text x="268.12" y="688.38" font-size="20.8" text-anchor="middle">5</text>
<text x="311.77" y="688.38" font-size="20.8" text-anchor="middle">476</text>
<text x="355.42" y="688.38" font-size="20.8" text-anchor="middle">6</text>
<text x="399.07" y="688.38" font-size="20.8" text-anchor="middle">7</text>
<text x="442.72" y="688.38" font-size="20.8" text-anchor="middle">17</text>
<text x="486.38" y="688.38" font-size="20.8" text-anchor="middle">16</text>
<text x="180.82" y="732.02" font-size="20.8" text-anchor="middle">2</text>
<text x="224.48" y="732.02" font-size="20.8" text-anchor="middle">4</text>
<text x="268.12" y="732.02" font-size="20.8" text-anchor="middle">4</text>
<text x="311.77" y="732.02" font-size="20.8" text-anchor="middle">490</text>
<text x="355.42" y="732.02" font-size="20.8" text-anchor="middle">13</text>
<text x="399.07" y="732.02" font-size="20.8" text-anchor="middle">15</text>
<text x="442.72" y="732.02" font-size="20.8" text-anchor="middle">20</text>
<text x="486.38" y="732.02" font-size="20.8" text-anchor="middle">18</text>
<text x="137.18" y="775.67" font-size="20.8" text-anchor="middle">1</text>
<text x="180.82" y="775.67" font-size="20.8" text-anchor="middle">3</text>
<text x="224.48" y="775.67" font-size="20.8" text-anchor="middle">4</text>
<text x="268.12" y="775.67" font-size="20.8" text-anchor="middle">5</text>
<text x="311.77" y="775.67" font-size="20.8" text-anchor="middle">517</text>
<text x="355.42" y="775.67" font-size="20.8" text-anchor="middle">18</text>
<text x="399.07" y="775.67" font-size="20.8" text-anchor="middle">14</text>
<text x="442.72" y="775.67" font-size="20.8" text-anchor="middle">28</text>
<text x="486.38" y="775.67" font-size="20.8" text-anchor="middle">33</text>
<text x="93.53" y="819.32" font-size="20.8" text-anchor="middle">214</text>
<text x="137.18" y="819.32" font-size="20.8" text-anchor="middle">289</text>
<text x="180.82" y="819.32" font-size="20.8" text-anchor="middle">360</text>
<text x="224.48" y="819.32" font-size="20.8" text-anchor="middle">422</text>
<text x="268.12" y="819.32" font-size="20.8" text-anchor="middle">530</text>
<text x="311.77" y="819.32" font-size="20.8" text-anchor="middle">1034</text>
<text x="355.42" y="819.32" font-size="20.8" text-anchor="middle">663</text>
<text x="399.07" y="819.32" font-size="20.8" text-anchor="middle">652</text>
<text x="442.72" y="819.32" font-size="20.8" text-anchor="middle">754</text>
<text x="486.38" y="819.32" font-size="20.8" text-anchor="middle">762</text>
<text x="93.53" y="862.97" font-size="20.8" text-anchor="middle">5</text>
<text x="137.18" y="862.97" font-size="20.8" text-anchor="middle">2</text>
<text x="180.82" y="862.97" font-size="20.8" text-anchor="middle">7</text>
<text x="224.48" y="862.97" font-size="20.8" text-anchor="middle">6</text>
<text x="268.12" y="862.97" font-size="20.8" text-anchor="middle">16</text>
<text x="311.77" y="862.97" font-size="20.8" text-anchor="middle">597</text>
<text x="355.42" y="862.97" font-size="20.8" text-anchor="middle">23</text>
<text x="399.07" y="862.97" font-size="20.8" text-anchor="middle">28</text>
<text x="442.72" y="862.97" font-size="20.8" text-anchor="middle">33</text>
<text x="486.38" y="862.97" font-size="20.8" text-anchor="middle">12</text>
<text x="93.53" y="906.62" font-size="20.8" text-anchor="middle">2</text>
<text x="137.18" y="906.62" font-size="20.8" text-anchor="middle">6</text>
<text x="180.82" y="906.62" font-size="20.8" text-anchor="middle">11</text>
<text x="224.48" y="906.62" font-size="20.8" text-anchor="middle">16</text>
<text x="268.12" y="906.62" font-size="20.8" text-anchor="middle">35</text>
<text x="311.77" y="906.62" font-size="20.8" text-anchor="middle">754</text>
<text x="355.42" y="906.62" font-size="20.8" text-anchor="middle">43</text>
<text x="399.07" y="906.62" font-size="20.8" text-anchor="middle">40</text>
<text x="442.72" y="906.62" font-size="20.8" text-anchor="middle">32</text>
<text x="93.53" y="950.27" font-size="20.8" text-anchor="middle">2</text>
<text x="137.18" y="950.27" font-size="20.8" text-anchor="middle">4</text>
<text x="180.82" y="950.27" font-size="20.8" text-anchor="middle">12</text>
<text x="224.48" y="950.27" font-size="20.8" text-anchor="middle">26</text>
<text x="268.12" y="950.27" font-size="20.8" text-anchor="middle">38</text>
<text x="311.77" y="950.27" font-size="20.8" text-anchor="middle">837</text>
<text x="355.42" y="950.27" font-size="20.8" text-anchor="middle">38</text>
<text x="399.07" y="950.27" font-size="20.8" text-anchor="middle">28</text>
<text x="93.53" y="993.92" font-size="20.8" text-anchor="middle">3</text>
<text x="137.18" y="993.92" font-size="20.8" text-anchor="middle">9</text>
<text x="180.82" y="993.92" font-size="20.8" text-anchor="middle">13</text>
<text x="224.48" y="993.92" font-size="20.8" text-anchor="middle">49</text>
<text x="268.12" y="993.92" font-size="20.8" text-anchor="middle">47</text>
<text x="311.77" y="993.92" font-size="20.8" text-anchor="middle">922</text>
<text x="355.42" y="993.92" font-size="20.8" text-anchor="middle">31</text>
<text x="93.53" y="1037.58" font-size="20.8" text-anchor="middle">5</text>
<text x="137.18" y="1037.58" font-size="20.8" text-anchor="middle">14</text>
<text x="180.82" y="1037.58" font-size="20.8" text-anchor="middle">22</text>
<text x="224.48" y="1037.58" font-size="20.8" text-anchor="middle">28</text>
<text x="268.12" y="1037.58" font-size="20.8" text-anchor="middle">49</text>
<text x="311.77" y="1037.58" font-size="20.8" text-anchor="middle">919</text>
<text x="52.20" y="648.33" font-size="25.2" text-anchor="middle" fill="#000">1</text>
<text x="52.20" y="691.98" font-size="25.2" text-anchor="middle" fill="#000">2</text>
<text x="52.20" y="735.62" font-size="25.2" text-anchor="middle" fill="#000">3</text>
<text x="52.20" y="779.27" font-size="25.2" text-anchor="middle" fill="#000">4</text>
<text x="52.20" y="822.92" font-size="25.2" text-anchor="middle" fill="#000">5</text>
<text x="52.20" y="866.57" font-size="25.2" text-anchor="middle" fill="#000">6</text>
<text x="52.20" y="910.23" font-size="25.2" text-anchor="middle" fill="#000">7</text>
<text x="52.20" y="953.88" font-size="25.2" text-anchor="middle" fill="#000">8</text>
<text x="52.20" y="997.52" font-size="25.2" text-anchor="middle" fill="#000">9</text>
<text x="52.20" y="1041.18" font-size="25.2" text-anchor="middle" fill="#000">10</text>
<text x="82.72" y="1086.20" font-size="25.2" text-anchor="start" fill="#000">0.1</text>
<text x="125.72" y="1086.20" font-size="25.2" text-anchor="start" fill="#000">0.2</text>
<text x="168.72" y="1086.20" font-size="25.2" text-anchor="start" fill="#000">0.3</text>
<text x="211.72" y="1086.20" font-size="25.2" text-anchor="start" fill="#000">0.4</text>
<text x="254.72" y="1086.20" font-size="25.2" text-anchor="start" fill="#000">0.5</text>
<text x="297.72" y="1086.20" font-size="25.2" text-anchor="start" fill="#000">0.6</text>
<text x="340.72" y="1086.20" font-size="25.2" text-anchor="start" fill="#000">0.7</text>
<text x="383.72" y="1086.20" font-size="25.2" text-anchor="start" fill="#000">0.8</text>
<text x="426.72" y="1086.20" font-size="25.2" text-anchor="start" fill="#000">0.9</text>
<text x="483.60" y="1086.20" font-size="25.2" text-anchor="start" fill="#000">1</text>
<text x="290.95" y="1114.80" font-size="28.2" text-anchor="middle" fill="#000">Probability</text>
<text x="26.70" y="835.35" font-size="28.2" text-anchor="middle" fill="#000" transform="rotate(-90 26.70 835.35)">Magnitude</text>
<text x="289.95" y="607.20" font-size="28.2" text-anchor="middle" fill="#000">Monkey C</text>
</g>
<g>
<rect x="594.00" y="617.10" width="44.25" height="44.25" fill="#000"/>
<rect x="637.65" y="617.10" width="44.25" height="44.25" fill="#000"/>
<rect x="681.30" y="617.10" width="44.25" height="44.25" fill="#000"/>
<rect x="724.95" y="617.10" width="44.25" height="44.25" fill="#000"/>
<rect x="768.60" y="617.10" width="44.25" height="44.25" fill="rgb(78,78,78)"/>
<rect x="812.25" y="617.10" width="44.25" height="44.25" fill="#fff"/>
<rect x="855.90" y="617.10" width="44.25" height="44.25" fill="rgb(87,87,87)"/>
<rect x="899.55" y="617.10" width="44.25" height="44.25" fill="rgb(84,84,84)"/>
<rect x="943.20" y="617.10" width="44.25" height="44.25" fill="rgb(86,86,86)"/>
<rect x="986.85" y="617.10" width="44.25" height="44.25" fill="rgb(91,91,91)"/>
<rect x="594.00" y="660.75" width="44.25" height="44.25" fill="#000"/>
<rect x="637.65" y="660.75" width="44.25" height="44.25" fill="#000"/>
<rect x="681.30" y="660.75" width="44.25" height="44.25" fill="rgb(78,78,78)"/>
<rect x="724.95" y="660.75" width="44.25" height="44.25" fill="rgb(80,80,80)"/>
<rect x="768.60" y="660.75" width="44.25" height="44.25" fill="rgb(87,87,87)"/>
<rect x="812.25" y="660.75" width="44.25" height="44.25" fill="#fff"/>
<rect x="855.90" y="660.75" width="44.25" height="44.25" fill="rgb(84,84,84)"/>
<rect x="899.55" y="660.75" width="44.25" height="44.25" fill="rgb(89,89,89)"/>
<rect x="943.20" y="660.75" width="44.25" height="44.25" fill="rgb(89,89,89)"/>
<rect x="986.85" y="660.75" width="44.25" height="44.25" fill="rgb(104,104,104)"/>
<rect x="594.00" y="704.40" width="44.25" height="44.25" fill="#000"/>
<rect x="637.65" y="704.40" width="44.25" height="44.25" fill="rgb(78,78,78)"/>
<rect x="681.30" y="704.40" width="44.25" height="44.25" fill="rgb(80,80,80)"/>
<rect x="724.95" y="704.40" width="44.25" height="44.25" fill="rgb(80,80,80)"/>
<rect x="768.60" y="704.40" width="44.25" height="44.25" fill="rgb(87,87,87)"/>
<rect x="812.25" y="704.40" width="44.25" height="44.25" fill="#fff"/>
<rect x="855.90" y="704.40" width="44.25" height="44.25" fill="rgb(101,101,101)"/>
<rect x="899.55" y="704.40" width="44.25" height="44.25" fill="rgb(101,101,101)"/>
<rect x="943.20" y="704.40" width="44.25" height="44.25" fill="rgb(112,112,112)"/>
<rect x="986.85" y="704.40" width="44.25" height="44.25" fill="rgb(116,116,116)"/>
<rect x="594.00" y="748.05" width="44.25" height="44.25" fill="#000"/>
<rect x="637.65" y="748.05" width="44.25" height="44.25" fill="#000"/>
<rect x="681.30" y="748.05" width="44.25" height="44.25" fill="rgb(80,80,80)"/>
<rect x="724.95" y="748.05" width="44.25" height="44.25" fill="rgb(82,82,82)"/>
<rect x="768.60" y="748.05" width="44.25" height="44.25" fill="rgb(91,91,91)"/>
<rect x="812.25" y="748.05" width="44.25" height="44.25" fill="#fff"/>
<rect x="855.90" y="748.05" width="44.25" height="44.25" fill="rgb(101,101,101)"/>
<rect x="899.55" y="748.05" width="44.25" height="44.25" fill="rgb(122,122,122)"/>
<rect x="943.20" y="748.05" width="44.25" height="44.25" fill="rgb(129,129,129)"/>
<rect x="986.85" y="748.05" width="44.25" height="44.25" fill="rgb(154,154,154)"/>
<rect x="594.00" y="791.70" width="44.25" height="44.25" fill="#fff"/>
<rect x="637.65" y="791.70" width="44.25" height="44.25" fill="#fff"/>
<rect x="681.30" y="791.70" width="44.25" height="44.25" fill="#fff"/>
<rect x="724.95" y="791.70" width="44.25" height="44.25" fill="#fff"/>
<rect x="768.60" y="791.70" width="44.25" height="44.25" fill="#fff"/>
<rect x="812.25" y="791.70" width="44.25" height="44.25" fill="#fff"/>
<rect x="855.90" y="791.70" width="44.25" height="44.25" fill="#fff"/>
<rect x="899.55" y="791.70" width="44.25" height="44.25" fill="#fff"/>
<rect x="943.20" y="791.70" width="44.25" height="44.25" fill="#fff"/>
<rect x="986.85" y="791.70" width="44.25" height="44.25" fill="#fff"/>
<rect x="594.00" y="835.35" width="44.25" height="44.25" fill="#000"/>
<rect x="637.65" y="835.35" width="44.25" height="44.25" fill="rgb(82,82,82)"/>
<rect x="681.30" y="835.35" width="44.25" height="44.25" fill="rgb(84,84,84)"/>
<rect x="724.95" y="835.35" width="44.25" height="44.25" fill="rgb(95,95,95)"/>
<rect x="768.60" y="835.35" width="44.25" height="44.25" fill="rgb(104,104,104)"/>
<rect x="812.25" y="835.35" width="44.25" height="44.25" fill="#fff"/>
<rect x="855.90" y="835.35" width="44.25" height="44.25" fill="rgb(146,146,146)"/>
<rect x="899.55" y="835.35" width="44.25" height="44.25" fill="rgb(139,139,139)"/>
<rect x="943.20" y="835.35" width="44.25" height="44.25" fill="rgb(146,146,146)"/>
<rect x="986.85" y="835.35" width="44.25" height="44.25" fill="rgb(131,131,131)"/>
<rect x="594.00" y="879.00" width="44.25" height="44.25" fill="rgb(80,80,80)"/>
<rect x="637.65" y="879.00" width="44.25" height="44.25" fill="rgb(78,78,78)"/>
<rect x="681.30" y="879.00" width="44.25" height="44.25" fill="rgb(103,103,103)"/>
<rect x="724.95" y="879.00" width="44.25" height="44.25" fill="rgb(141,141,141)"/>
<rect x="768.60" y="879.00" width="44.25" height="44.25" fill="rgb(133,133,133)"/>
<rect x="812.25" y="879.00" width="44.25" height="44.25" fill="#fff"/>
<rect x="855.90" y="879.00" width="44.25" height="44.25" fill="rgb(165,165,165)"/>
<rect x="899.55" y="879.00" width="44.25" height="44.25" fill="rgb(165,165,165)"/>
<rect x="943.20" y="879.00" width="44.25" height="44.25" fill="rgb(142,142,142)"/>
<rect x="986.85" y="879.00" width="44.25" height="44.25" fill="#000"/>
<rect x="594.00" y="922.65" width="44.25" height="44.25" fill="rgb(82,82,82)"/>
<rect x="637.65" y="922.65" width="44.25" height="44.25" fill="rgb(89,89,89)"/>
<rect x="681.30" y="922.65" width="44.25" height="44.25" fill="rgb(103,103,103)"/>
<rect x="724.95" y="922.65" width="44.25" height="44.25" fill="rgb(129,129,129)"/>
<rect x="768.60" y="922.65" width="44.25" height="44.25" fill="rgb(152,152,152)"/>
<rect x="812.25" y="922.65" width="44.25" height="44.25" fill="#fff"/>
<rect x="855.90" y="922.65" width="44.25" height="44.25" fill="rgb(146,146,146)"/>
<rect x="899.55" y="922.65" width="44.25" height="44.25" fill="rgb(135,135,135)"/>
<rect x="943.20" y="922.65" width="44.25" height="44.25" fill="#000"/>
<rect x="986.85" y="922.65" width="44.25" height="44.25" fill="#000"/>
<rect x="594.00" y="966.30" width="44.25" height="44.25" fill="rgb(80,80,80)"/>
<rect x="637.65" y="966.30" width="44.25" height="44.25" fill="rgb(87,87,87)"/>
<rect x="681.30" y="966.30" width="44.25" height="44.25" fill="rgb(125,125,125)"/>
<rect x="724.95" y="966.30" width="44.25" height="44.25" fill="rgb(135,135,135)"/>
<rect x="768.60" y="966.30" width="44.25" height="44.25" fill="rgb(173,173,173)"/>
<rect x="812.25" y="966.30" width="44.25" height="44.25" fill="#fff"/>
<rect x="855.90" y="966.30" width="44.25" height="44.25" fill="rgb(125,125,125)"/>
<rect x="899.55" y="966.30" width="44.25" height="44.25" fill="#000"/>
<rect x="943.20" y="966.30" width="44.25" height="44.25" fill="#000"/>
<rect x="986.85" y="966.30" width="44.25" height="44.25" fill="#000"/>
<rect x="594.00" y="1009.95" width="44.25" height="44.25" fill="rgb(80,80,80)"/>
<rect x="637.65" y="1009.95" width="44.25" height="44.25" fill="rgb(99,99,99)"/>
<rect x="681.30" y="1009.95" width="44.25" height="44.25" fill="rgb(116,116,116)"/>
<rect x="724.95" y="1009.95" width="44.25" height="44.25" fill="rgb(152,152,152)"/>
<rect x="768.60" y="1009.95" width="44.25" height="44.25" fill="rgb(196,196,196)"/>
<rect x="812.25" y="1009.95" width="44.25" height="44.25" fill="#fff"/>
<rect x="855.90" y="1009.95" width="44.25" height="44.25" fill="#000"/>
<rect x="899.55" y="1009.95" width="44.25" height="44.25" fill="#000"/>
<rect x="943.20" y="1009.95" width="44.25" height="44.25" fill="#000"/>
<rect x="986.85" y="1009.95" width="44.25" height="44.25" fill="#000"/>
<rect x="594.00" y="617.10" width="436.50" height="436.50" fill="none" stroke="#000" stroke-width="1.6"/>
<text x="790.42" y="644.73" font-size="20.8" text-anchor="middle">1</text>
<text x="834.08" y="644.73" font-size="20.8" text-anchor="middle">422</text>
<text x="877.72" y="644.73" font-size="20.8" text-anchor="middle">6</text>
<text x="921.38" y="644.73" font-size="20.8" text-anchor="middle">4</text>
<text x="965.02" y="644.73" font-size="20.8" text-anchor="middle">5</text>
<text x="1008.67" y="644.73" font-size="20.8" text-anchor="middle">8</text>
<text x="703.12" y="688.38" font-size="20.8" text-anchor="middle">1</text>
<text x="746.77" y="688.38" font-size="20.8" text-anchor="middle">2</text>
<text x="790.42" y="688.38" font-size="20.8" text-anchor="middle">6</text>
<text x="834.08" y="688.38" font-size="20.8" text-anchor="middle">444</text>
<text x="877.72" y="688.38" font-size="20.8" text-anchor="middle">4</text>
<text x="921.38" y="688.38" font-size="20.8" text-anchor="middle">7</text>
<text x="965.02" y="688.38" font-size="20.8" text-anchor="middle">7</text>
<text x="1008.67" y="688.38" font-size="20.8" text-anchor="middle">15</text>
<text x="659.48" y="732.02" font-size="20.8" text-anchor="middle">1</text>
<text x="703.12" y="732.02" font-size="20.8" text-anchor="middle">2</text>
<text x="746.77" y="732.02" font-size="20.8" text-anchor="middle">2</text>
<text x="790.42" y="732.02" font-size="20.8" text-anchor="middle">6</text>
<text x="834.08" y="732.02" font-size="20.8" text-anchor="middle">483</text>
<text x="877.72" y="732.02" font-size="20.8" text-anchor="middle">13</text>
<text x="921.38" y="732.02" font-size="20.8" text-anchor="middle">13</text>
<text x="965.02" y="732.02" font-size="20.8" text-anchor="middle">19</text>
<text x="1008.67" y="732.02" font-size="20.8" text-anchor="middle">21</text>
<text x="703.12" y="775.67" font-size="20.8" text-anchor="middle">2</text>
<text x="746.77" y="775.67" font-size="20.8" text-anchor="middle">3</text>
<text x="790.42" y="775.67" font-size="20.8" text-anchor="middle">8</text>
<text x="834.08" y="775.67" font-size="20.8" text-anchor="middle">530</text>
<text x="877.72" y="775.67" font-size="20.8" text-anchor="middle">13</text>
<text x="921.38" y="775.67" font-size="20.8" text-anchor="middle">24</text>
<text x="965.02" y="775.67" font-size="20.8" text-anchor="middle">28</text>
<text x="1008.67" y="775.67" font-size="20.8" text-anchor="middle">41</text>
<text x="615.83" y="819.32" font-size="20.8" text-anchor="middle">216</text>
<text x="659.48" y="819.32" font-size="20.8" text-anchor="middle">285</text>
<text x="703.12" y="819.32" font-size="20.8" text-anchor="middle">382</text>
<text x="746.77" y="819.32" font-size="20.8" text-anchor="middle">507</text>
<text x="790.42" y="819.32" font-size="20.8" text-anchor="middle">601</text>
<text x="834.08" y="819.32" font-size="20.8" text-anchor="middle">1228</text>
<text x="877.72" y="819.32" font-size="20.8" text-anchor="middle">822</text>
<text x="921.38" y="819.32" font-size="20.8" text-anchor="middle">883</text>
<text x="965.02" y="819.32" font-size="20.8" text-anchor="middle">923</text>
<text x="1008.67" y="819.32" font-size="20.8" text-anchor="middle">1010</text>
<text x="659.48" y="862.97" font-size="20.8" text-anchor="middle">3</text>
<text x="703.12" y="862.97" font-size="20.8" text-anchor="middle">4</text>
<text x="746.77" y="862.97" font-size="20.8" text-anchor="middle">10</text>
<text x="790.42" y="862.97" font-size="20.8" text-anchor="middle">15</text>
<text x="834.08" y="862.97" font-size="20.8" text-anchor="middle">684</text>
<text x="877.72" y="862.97" font-size="20.8" text-anchor="middle">37</text>
<text x="921.38" y="862.97" font-size="20.8" text-anchor="middle">33</text>
<text x="965.02" y="862.97" font-size="20.8" text-anchor="middle">37</text>
<text x="1008.67" y="862.97" font-size="20.8" text-anchor="middle">29</text>
<text x="615.83" y="906.62" font-size="20.8" text-anchor="middle">2</text>
<text x="659.48" y="906.62" font-size="20.8" text-anchor="middle">1</text>
<text x="703.12" y="906.62" font-size="20.8" text-anchor="middle">14</text>
<text x="746.77" y="906.62" font-size="20.8" text-anchor="middle">34</text>
<text x="790.42" y="906.62" font-size="20.8" text-anchor="middle">30</text>
<text x="834.08" y="906.62" font-size="20.8" text-anchor="middle">812</text>
<text x="877.72" y="906.62" font-size="20.8" text-anchor="middle">47</text>
<text x="921.38" y="906.62" font-size="20.8" text-anchor="middle">47</text>
<text x="965.02" y="906.62" font-size="20.8" text-anchor="middle">35</text>
<text x="615.83" y="950.27" font-size="20.8" text-anchor="middle">3</text>
<text x="659.48" y="950.27" font-size="20.8" text-anchor="middle">7</text>
<text x="703.12" y="950.27" font-size="20.8" text-anchor="middle">14</text>
<text x="746.77" y="950.27" font-size="20.8" text-anchor="middle">28</text>
<text x="790.42" y="950.27" font-size="20.8" text-anchor="middle">40</text>
<text x="834.08" y="950.27" font-size="20.8" text-anchor="middle">938</text>
<text x="877.72" y="950.27" font-size="20.8" text-anchor="middle">37</text>
<text x="921.38" y="950.27" font-size="20.8" text-anchor="middle">31</text>
<text x="615.83" y="993.92" font-size="20.8" text-anchor="middle">2</text>
<text x="659.48" y="993.92" font-size="20.8" text-anchor="middle">6</text>
<text x="703.12" y="993.92" font-size="20.8" text-anchor="middle">26</text>
<text x="746.77" y="993.92" font-size="20.8" text-anchor="middle">31</text>
<text x="790.42" y="993.92" font-size="20.8" text-anchor="middle">51</text>
<text x="834.08" y="993.92" font-size="20.8" text-anchor="middle">1033</text>
<text x="877.72" y="993.92" font-size="20.8" text-anchor="middle">26</text>
<text x="615.83" y="1037.58" font-size="20.8" text-anchor="middle">2</text>
<text x="659.48" y="1037.58" font-size="20.8" text-anchor="middle">12</text>
<text x="703.12" y="1037.58" font-size="20.8" text-anchor="middle">21</text>
<text x="746.77" y="1037.58" font-size="20.8" text-anchor="middle">40</text>
<text x="790.42" y="1037.58" font-size="20.8" text-anchor="middle">63</text>
<text x="834.08" y="1037.58" font-size="20.8" text-anchor="middle">1036</text>
<text x="574.50" y="648.33" font-size="25.2" text-anchor="middle" fill="#000">1</text>
<text x="574.50" y="691.98" font-size="25.2" text-anchor="middle" fill="#000">2</text>
<text x="574.50" y="735.62" font-size="25.2" text-anchor="middle" fill="#000">3</text>
<text x="574.50" y="779.27" font-size="25.2" text-anchor="middle" fill="#000">4</text>
<text x="574.50" y="822.92" font-size="25.2" text-anchor="middle" fill="#000">5</text>
<text x="574.50" y="866.57" font-size="25.2" text-anchor="middle" fill="#000">6</text>
<text x="574.50" y="910.23" font-size="25.2" text-anchor="middle" fill="#000">7</text>
<text x="574.50" y="953.88" font-size="25.2" text-anchor="middle" fill="#000">8</text>
<text x="574.50" y="997.52" font-size="25.2" text-anchor="middle" fill="#000">9</text>
<text x="574.50" y="1041.18" font-size="25.2" text-anchor="middle" fill="#000">10</text>
<text x="606.92" y="1086.20" font-size="25.2" text-anchor="start" fill="#000">0.1</text>
<text x="649.92" y="1086.20" font-size="25.2" text-anchor="start" fill="#000">0.2</text>
<text x="692.92" y="1086.20" font-size="25.2" text-anchor="start" fill="#000">0.3</text>
<text x="735.92" y="1086.20" font-size="25.2" text-anchor="start" fill="#000">0.4</text>
<text x="778.92" y="1086.20" font-size="25.2" text-anchor="start" fill="#000">0.5</text>
<text x="821.92" y="1086.20" font-size="25.2" text-anchor="start" fill="#000">0.6</text>
<text x="864.92" y="1086.20" font-size="25.2" text-anchor="start" fill="#000">0.7</text>
<text x="907.92" y="1086.20" font-size="25.2" text-anchor="start" fill="#000">0.8</text>
<text x="950.92" y="1086.20" font-size="25.2" text-anchor="start" fill="#000">0.9</text>
<text x="1009.10" y="1086.20" font-size="25.2" text-anchor="start" fill="#000">1</text>
<text x="813.25" y="1114.80" font-size="28.2" text-anchor="middle" fill="#000">Probability</text>
<text x="549.00" y="835.35" font-size="28.2" text-anchor="middle" fill="#000" transform="rotate(-90 549.00 835.35)">Magnitude</text>
<text x="812.25" y="607.20" font-size="28.2" text-anchor="middle" fill="#000">Monkey D</text>
</g>
<g>
<rect x="1130.90" y="72.60" width="44.25" height="44.25" fill="#000"/>
<rect x="1174.55" y="72.60" width="44.25" height="44.25" fill="#000"/>
<rect x="1218.20" y="72.60" width="44.25" height="44.25" fill="#000"/>
<rect x="1261.85" y="72.60" width="44.25" height="44.25" fill="#000"/>
<rect x="1305.50" y="72.60" width="44.25" height="44.25" fill="rgb(114,114,114)"/>
<rect x="1349.15" y="72.60" width="44.25" height="44.25" fill="#fff"/>
<rect x="1392.80" y="72.60" width="44.25" height="44.25" fill="rgb(106,106,106)"/>
<rect x="1436.45" y="72.60" width="44.25" height="44.25" fill="rgb(86,86,86)"/>
<rect x="1480.10" y="72.60" width="44.25" height="44.25" fill="rgb(86,86,86)"/>
<rect x="1523.75" y="72.60" width="44.25" height="44.25" fill="rgb(129,129,129)"/>
<rect x="1130.90" y="116.25" width="44.25" height="44.25" fill="#000"/>
<rect x="1174.55" y="116.25" width="44.25" height="44.25" fill="#000"/>
<rect x="1218.20" y="116.25" width="44.25" height="44.25" fill="rgb(125,125,125)"/>
<rect x="1261.85" y="116.25" width="44.25" height="44.25" fill="rgb(124,124,124)"/>
<rect x="1305.50" y="116.25" width="44.25" height="44.25" fill="rgb(86,86,86)"/>
<rect x="1349.15" y="116.25" width="44.25" height="44.25" fill="#fff"/>
<rect x="1392.80" y="116.25" width="44.25" height="44.25" fill="rgb(114,114,114)"/>
<rect x="1436.45" y="116.25" width="44.25" height="44.25" fill="rgb(84,84,84)"/>
<rect x="1480.10" y="116.25" width="44.25" height="44.25" fill="rgb(156,156,156)"/>
<rect x="1523.75" y="116.25" width="44.25" height="44.25" fill="rgb(110,110,110)"/>
<rect x="1130.90" y="159.90" width="44.25" height="44.25" fill="#000"/>
<rect x="1174.55" y="159.90" width="44.25" height="44.25" fill="rgb(86,86,86)"/>
<rect x="1218.20" y="159.90" width="44.25" height="44.25" fill="rgb(116,116,116)"/>
<rect x="1261.85" y="159.90" width="44.25" height="44.25" fill="rgb(135,135,135)"/>
<rect x="1305.50" y="159.90" width="44.25" height="44.25" fill="rgb(116,116,116)"/>
<rect x="1349.15" y="159.90" width="44.25" height="44.25" fill="#fff"/>
<rect x="1392.80" y="159.90" width="44.25" height="44.25" fill="rgb(133,133,133)"/>
<rect x="1436.45" y="159.90" width="44.25" height="44.25" fill="rgb(133,133,133)"/>
<rect x="1480.10" y="159.90" width="44.25" height="44.25" fill="rgb(114,114,114)"/>
<rect x="1523.75" y="159.90" width="44.25" height="44.25" fill="rgb(122,122,122)"/>
<rect x="1130.90" y="203.55" width="44.25" height="44.25" fill="#000"/>
<rect x="1174.55" y="203.55" width="44.25" height="44.25" fill="rgb(120,120,120)"/>
<rect x="1218.20" y="203.55" width="44.25" height="44.25" fill="rgb(114,114,114)"/>
<rect x="1261.85" y="203.55" width="44.25" height="44.25" fill="rgb(141,141,141)"/>
<rect x="1305.50" y="203.55" width="44.25" height="44.25" fill="rgb(97,97,97)"/>
<rect x="1349.15" y="203.55" width="44.25" height="44.25" fill="#fff"/>
<rect x="1392.80" y="203.55" width="44.25" height="44.25" fill="rgb(87,87,87)"/>
<rect x="1436.45" y="203.55" width="44.25" height="44.25" fill="rgb(133,133,133)"/>
<rect x="1480.10" y="203.55" width="44.25" height="44.25" fill="rgb(99,99,99)"/>
<rect x="1523.75" y="203.55" width="44.25" height="44.25" fill="rgb(112,112,112)"/>
<rect x="1130.90" y="247.20" width="44.25" height="44.25" fill="#fff"/>
<rect x="1174.55" y="247.20" width="44.25" height="44.25" fill="#fff"/>
<rect x="1218.20" y="247.20" width="44.25" height="44.25" fill="#fff"/>
<rect x="1261.85" y="247.20" width="44.25" height="44.25" fill="#fff"/>
<rect x="1305.50" y="247.20" width="44.25" height="44.25" fill="#fff"/>
<rect x="1349.15" y="247.20" width="44.25" height="44.25" fill="#fff"/>
<rect x="1392.80" y="247.20" width="44.25" height="44.25" fill="#fff"/>
<rect x="1436.45" y="247.20" width="44.25" height="44.25" fill="#fff"/>
<rect x="1480.10" y="247.20" width="44.25" height="44.25" fill="#fff"/>
<rect x="1523.75" y="247.20" width="44.25" height="44.25" fill="#fff"/>
<rect x="1130.90" y="290.85" width="44.25" height="44.25" fill="rgb(99,99,99)"/>
<rect x="1174.55" y="290.85" width="44.25" height="44.25" fill="rgb(108,108,108)"/>
<rect x="1218.20" y="290.85" width="44.25" height="44.25" fill="rgb(158,158,158)"/>
<rect x="1261.85" y="290.85" width="44.25" height="44.25" fill="rgb(131,131,131)"/>
<rect x="1305.50" y="290.85" width="44.25" height="44.25" fill="rgb(122,122,122)"/>
<rect x="1349.15" y="290.85" width="44.25" height="44.25" fill="#fff"/>
<rect x="1392.80" y="290.85" width="44.25" height="44.25" fill="rgb(103,103,103)"/>
<rect x="1436.45" y="290.85" width="44.25" height="44.25" fill="rgb(97,97,97)"/>
<rect x="1480.10" y="290.85" width="44.25" height="44.25" fill="rgb(114,114,114)"/>
<rect x="1523.75" y="290.85" width="44.25" height="44.25" fill="rgb(114,114,114)"/>
<rect x="1130.90" y="334.50" width="44.25" height="44.25" fill="#000"/>
<rect x="1174.55" y="334.50" width="44.25" height="44.25" fill="rgb(127,127,127)"/>
<rect x="1218.20" y="334.50" width="44.25" height="44.25" fill="rgb(95,95,95)"/>
<rect x="1261.85" y="334.50" width="44.25" height="44.25" fill="rgb(120,120,120)"/>
<rect x="1305.50" y="334.50" width="44.25" height="44.25" fill="rgb(104,104,104)"/>
<rect x="1349.15" y="334.50" width="44.25" height="44.25" fill="#fff"/>
<rect x="1392.80" y="334.50" width="44.25" height="44.25" fill="rgb(106,106,106)"/>
<rect x="1436.45" y="334.50" width="44.25" height="44.25" fill="rgb(86,86,86)"/>
<rect x="1480.10" y="334.50" width="44.25" height="44.25" fill="rgb(114,114,114)"/>
<rect x="1523.75" y="334.50" width="44.25" height="44.25" fill="#000"/>
<rect x="1130.90" y="378.15" width="44.25" height="44.25" fill="rgb(84,84,84)"/>
<rect x="1174.55" y="378.15" width="44.25" height="44.25" fill="rgb(122,122,122)"/>
<rect x="1218.20" y="378.15" width="44.25" height="44.25" fill="rgb(106,106,106)"/>
<rect x="1261.85" y="378.15" width="44.25" height="44.25" fill="rgb(131,131,131)"/>
<rect x="1305.50" y="378.15" width="44.25" height="44.25" fill="rgb(106,106,106)"/>
<rect x="1349.15" y="378.15" width="44.25" height="44.25" fill="#fff"/>
<rect x="1392.80" y="378.15" width="44.25" height="44.25" fill="rgb(146,146,146)"/>
<rect x="1436.45" y="378.15" width="44.25" height="44.25" fill="#000"/>
<rect x="1480.10" y="378.15" width="44.25" height="44.25" fill="#000"/>
<rect x="1523.75" y="378.15" width="44.25" height="44.25" fill="#000"/>
<rect x="1130.90" y="421.80" width="44.25" height="44.25" fill="rgb(118,118,118)"/>
<rect x="1174.55" y="421.80" width="44.25" height="44.25" fill="rgb(114,114,114)"/>
<rect x="1218.20" y="421.80" width="44.25" height="44.25" fill="rgb(93,93,93)"/>
<rect x="1261.85" y="421.80" width="44.25" height="44.25" fill="rgb(135,135,135)"/>
<rect x="1305.50" y="421.80" width="44.25" height="44.25" fill="rgb(104,104,104)"/>
<rect x="1349.15" y="421.80" width="44.25" height="44.25" fill="#fff"/>
<rect x="1392.80" y="421.80" width="44.25" height="44.25" fill="rgb(89,89,89)"/>
<rect x="1436.45" y="421.80" width="44.25" height="44.25" fill="#000"/>
<rect x="1480.10" y="421.80" width="44.25" height="44.25" fill="#000"/>
<rect x="1523.75" y="421.80" width="44.25" height="44.25" fill="#000"/>
<rect x="1130.90" y="465.45" width="44.25" height="44.25" fill="rgb(99,99,99)"/>
<rect x="1174.55" y="465.45" width="44.25" height="44.25" fill="rgb(116,116,116)"/>
<rect x="1218.20" y="465.45" width="44.25" height="44.25" fill="rgb(125,125,125)"/>
<rect x="1261.85" y="465.45" width="44.25" height="44.25" fill="rgb(125,125,125)"/>
<rect x="1305.50" y="465.45" width="44.25" height="44.25" fill="rgb(93,93,93)"/>
<rect x="1349.15" y="465.45" width="44.25" height="44.25" fill="#fff"/>
<rect x="1392.80" y="465.45" width="44.25" height="44.25" fill="#000"/>
<rect x="1436.45" y="465.45" width="44.25" height="44.25" fill="#000"/>
<rect x="1480.10" y="465.45" width="44.25" height="44.25" fill="#000"/>
<rect x="1523.75" y="465.45" width="44.25" height="44.25" fill="#000"/>
<rect x="1130.90" y="72.60" width="436.50" height="436.50" fill="none" stroke="#000" stroke-width="1.6"/>
<text x="1327.33" y="100.22" font-size="20.8" text-anchor="middle">20</text>
<text x="1370.98" y="100.22" font-size="20.8" text-anchor="middle">468</text>
<text x="1414.62" y="100.22" font-size="20.8" text-anchor="middle">16</text>
<text x="1458.28" y="100.22" font-size="20.8" text-anchor="middle">5</text>
<text x="1501.93" y="100.22" font-size="20.8" text-anchor="middle">5</text>
<text x="1545.58" y="100.22" font-size="20.8" text-anchor="middle">28</text>
<text x="1240.03" y="143.88" font-size="20.8" text-anchor="middle">26</text>
<text x="1283.68" y="143.88" font-size="20.8" text-anchor="middle">25</text>
<text x="1327.33" y="143.88" font-size="20.8" text-anchor="middle">5</text>
<text x="1370.98" y="143.88" font-size="20.8" text-anchor="middle">465</text>
<text x="1414.62" y="143.88" font-size="20.8" text-anchor="middle">20</text>
<text x="1458.28" y="143.88" font-size="20.8" text-anchor="middle">4</text>
<text x="1501.93" y="143.88" font-size="20.8" text-anchor="middle">42</text>
<text x="1545.58" y="143.88" font-size="20.8" text-anchor="middle">18</text>
<text x="1196.38" y="187.53" font-size="20.8" text-anchor="middle">5</text>
<text x="1240.03" y="187.53" font-size="20.8" text-anchor="middle">21</text>
<text x="1283.68" y="187.53" font-size="20.8" text-anchor="middle">31</text>
<text x="1327.33" y="187.53" font-size="20.8" text-anchor="middle">21</text>
<text x="1370.98" y="187.53" font-size="20.8" text-anchor="middle">539</text>
<text x="1414.62" y="187.53" font-size="20.8" text-anchor="middle">30</text>
<text x="1458.28" y="187.53" font-size="20.8" text-anchor="middle">30</text>
<text x="1501.93" y="187.53" font-size="20.8" text-anchor="middle">20</text>
<text x="1545.58" y="187.53" font-size="20.8" text-anchor="middle">24</text>
<text x="1196.38" y="231.18" font-size="20.8" text-anchor="middle">23</text>
<text x="1240.03" y="231.18" font-size="20.8" text-anchor="middle">20</text>
<text x="1283.68" y="231.18" font-size="20.8" text-anchor="middle">34</text>
<text x="1327.33" y="231.18" font-size="20.8" text-anchor="middle">11</text>
<text x="1370.98" y="231.18" font-size="20.8" text-anchor="middle">643</text>
<text x="1414.62" y="231.18" font-size="20.8" text-anchor="middle">6</text>
<text x="1458.28" y="231.18" font-size="20.8" text-anchor="middle">30</text>
<text x="1501.93" y="231.18" font-size="20.8" text-anchor="middle">12</text>
<text x="1545.58" y="231.18" font-size="20.8" text-anchor="middle">19</text>
<text x="1152.73" y="274.82" font-size="20.8" text-anchor="middle">322</text>
<text x="1196.38" y="274.82" font-size="20.8" text-anchor="middle">384</text>
<text x="1240.03" y="274.82" font-size="20.8" text-anchor="middle">430</text>
<text x="1283.68" y="274.82" font-size="20.8" text-anchor="middle">500</text>
<text x="1327.33" y="274.82" font-size="20.8" text-anchor="middle">558</text>
<text x="1370.98" y="274.82" font-size="20.8" text-anchor="middle">1290</text>
<text x="1414.62" y="274.82" font-size="20.8" text-anchor="middle">648</text>
<text x="1458.28" y="274.82" font-size="20.8" text-anchor="middle">662</text>
<text x="1501.93" y="274.82" font-size="20.8" text-anchor="middle">689</text>
<text x="1545.58" y="274.82" font-size="20.8" text-anchor="middle">733</text>
<text x="1152.73" y="318.47" font-size="20.8" text-anchor="middle">12</text>
<text x="1196.38" y="318.47" font-size="20.8" text-anchor="middle">17</text>
<text x="1240.03" y="318.47" font-size="20.8" text-anchor="middle">43</text>
<text x="1283.68" y="318.47" font-size="20.8" text-anchor="middle">29</text>
<text x="1327.33" y="318.47" font-size="20.8" text-anchor="middle">24</text>
<text x="1370.98" y="318.47" font-size="20.8" text-anchor="middle">730</text>
<text x="1414.62" y="318.47" font-size="20.8" text-anchor="middle">14</text>
<text x="1458.28" y="318.47" font-size="20.8" text-anchor="middle">11</text>
<text x="1501.93" y="318.47" font-size="20.8" text-anchor="middle">20</text>
<text x="1545.58" y="318.47" font-size="20.8" text-anchor="middle">20</text>
<text x="1196.38" y="362.12" font-size="20.8" text-anchor="middle">27</text>
<text x="1240.03" y="362.12" font-size="20.8" text-anchor="middle">10</text>
<text x="1283.68" y="362.12" font-size="20.8" text-anchor="middle">23</text>
<text x="1327.33" y="362.12" font-size="20.8" text-anchor="middle">15</text>
<text x="1370.98" y="362.12" font-size="20.8" text-anchor="middle">798</text>
<text x="1414.62" y="362.12" font-size="20.8" text-anchor="middle">16</text>
<text x="1458.28" y="362.12" font-size="20.8" text-anchor="middle">5</text>
<text x="1501.93" y="362.12" font-size="20.8" text-anchor="middle">20</text>
<text x="1152.73" y="405.78" font-size="20.8" text-anchor="middle">4</text>
<text x="1196.38" y="405.78" font-size="20.8" text-anchor="middle">24</text>
<text x="1240.03" y="405.78" font-size="20.8" text-anchor="middle">16</text>
<text x="1283.68" y="405.78" font-size="20.8" text-anchor="middle">29</text>
<text x="1327.33" y="405.78" font-size="20.8" text-anchor="middle">16</text>
<text x="1370.98" y="405.78" font-size="20.8" text-anchor="middle">834</text>
<text x="1414.62" y="405.78" font-size="20.8" text-anchor="middle">37</text>
<text x="1152.73" y="449.43" font-size="20.8" text-anchor="middle">22</text>
<text x="1196.38" y="449.43" font-size="20.8" text-anchor="middle">20</text>
<text x="1240.03" y="449.43" font-size="20.8" text-anchor="middle">9</text>
<text x="1283.68" y="449.43" font-size="20.8" text-anchor="middle">31</text>
<text x="1327.33" y="449.43" font-size="20.8" text-anchor="middle">15</text>
<text x="1370.98" y="449.43" font-size="20.8" text-anchor="middle">861</text>
<text x="1414.62" y="449.43" font-size="20.8" text-anchor="middle">7</text>
<text x="1152.73" y="493.07" font-size="20.8" text-anchor="middle">12</text>
<text x="1196.38" y="493.07" font-size="20.8" text-anchor="middle">21</text>
<text x="1240.03" y="493.07" font-size="20.8" text-anchor="middle">26</text>
<text x="1283.68" y="493.07" font-size="20.8" text-anchor="middle">26</text>
<text x="1327.33" y="493.07" font-size="20.8" text-anchor="middle">9</text>
<text x="1370.98" y="493.07" font-size="20.8" text-anchor="middle">872</text>
<text x="1111.40" y="103.83" font-size="25.2" text-anchor="middle" fill="#000">1</text>
<text x="1111.40" y="147.47" font-size="25.2" text-anchor="middle" fill="#000">2</text>
<text x="1111.40" y="191.12" font-size="25.2" text-anchor="middle" fill="#000">3</text>
<text x="1111.40" y="234.78" font-size="25.2" text-anchor="middle" fill="#000">4</text>
<text x="1111.40" y="278.42" font-size="25.2" text-anchor="middle" fill="#000">5</text>
<text x="1111.40" y="322.07" font-size="25.2" text-anchor="middle" fill="#000">6</text>
<text x="1111.40" y="365.72" font-size="25.2" text-anchor="middle" fill="#000">7</text>
<text x="1111.40" y="409.38" font-size="25.2" text-anchor="middle" fill="#000">8</text>
<text x="1111.40" y="453.02" font-size="25.2" text-anchor="middle" fill="#000">9</text>
<text x="1111.40" y="496.67" font-size="25.2" text-anchor="middle" fill="#000">10</text>
<text x="1141.72" y="539.70" font-size="25.2" text-anchor="start" fill="#000">0.1</text>
<text x="1184.72" y="539.70" font-size="25.2" text-anchor="start" fill="#000">0.2</text>
<text x="1227.72" y="539.70" font-size="25.2" text-anchor="start" fill="#000">0.3</text>
<text x="1270.72" y="539.70" font-size="25.2" text-anchor="start" fill="#000">0.4</text>
<text x="1313.72" y="539.70" font-size="25.2" text-anchor="start" fill="#000">0.5</text>
<text x="1356.72" y="539.70" font-size="25.2" text-anchor="start" fill="#000">0.6</text>
<text x="1399.72" y="539.70" font-size="25.2" text-anchor="start" fill="#000">0.7</text>
<text x="1442.72" y="539.70" font-size="25.2" text-anchor="start" fill="#000">0.8</text>
<text x="1485.72" y="539.70" font-size="25.2" text-anchor="start" fill="#000">0.9</text>
<text x="1542.60" y="539.70" font-size="25.2" text-anchor="start" fill="#000">1</text>
<text x="1351.95" y="569.30" font-size="28.2" text-anchor="middle" fill="#000">Probability</text>
<text x="1085.90" y="290.85" font-size="28.2" text-anchor="middle" fill="#000" transform="rotate(-90 1085.90 290.85)">Magnitude</text>
<text x="1349.15" y="62.70" font-size="28.2" text-anchor="middle" fill="#000">Monkey A</text>
</g>
<g>
<rect x="1648.90" y="72.60" width="44.25" height="44.25" fill="rgb(84,84,84)"/>
<rect x="1692.55" y="72.60" width="44.25" height="44.25" fill="#000"/>
<rect x="1736.20" y="72.60" width="44.25" height="44.25" fill="#000"/>
<rect x="1779.85" y="72.60" width="44.25" height="44.25" fill="#000"/>
<rect x="1823.50" y="72.60" width="44.25" height="44.25" fill="rgb(97,97,97)"/>
<rect x="1867.15" y="72.60" width="44.25" height="44.25" fill="#fff"/>
<rect x="1910.80" y="72.60" width="44.25" height="44.25" fill="rgb(104,104,104)"/>
<rect x="1954.45" y="72.60" width="44.25" height="44.25" fill="rgb(95,95,95)"/>
<rect x="1998.10" y="72.60" width="44.25" height="44.25" fill="rgb(93,93,93)"/>
<rect x="2041.75" y="72.60" width="44.25" height="44.25" fill="rgb(95,95,95)"/>
<rect x="1648.90" y="116.25" width="44.25" height="44.25" fill="#000"/>
<rect x="1692.55" y="116.25" width="44.25" height="44.25" fill="#000"/>
<rect x="1736.20" y="116.25" width="44.25" height="44.25" fill="rgb(104,104,104)"/>
<rect x="1779.85" y="116.25" width="44.25" height="44.25" fill="rgb(86,86,86)"/>
<rect x="1823.50" y="116.25" width="44.25" height="44.25" fill="rgb(114,114,114)"/>
<rect x="1867.15" y="116.25" width="44.25" height="44.25" fill="#fff"/>
<rect x="1910.80" y="116.25" width="44.25" height="44.25" fill="rgb(104,104,104)"/>
<rect x="1954.45" y="116.25" width="44.25" height="44.25" fill="rgb(97,97,97)"/>
<rect x="1998.10" y="116.25" width="44.25" height="44.25" fill="rgb(86,86,86)"/>
<rect x="2041.75" y="116.25" width="44.25" height="44.25" fill="rgb(114,114,114)"/>
<rect x="1648.90" y="159.90" width="44.25" height="44.25" fill="#000"/>
<rect x="1692.55" y="159.90" width="44.25" height="44.25" fill="rgb(104,104,104)"/>
<rect x="1736.20" y="159.90" width="44.25" height="44.25" fill="rgb(95,95,95)"/>
<rect x="1779.85" y="159.90" width="44.25" height="44.25" fill="rgb(104,104,104)"/>
<rect x="1823.50" y="159.90" width="44.25" height="44.25" fill="#000"/>
<rect x="1867.15" y="159.90" width="44.25" height="44.25" fill="#fff"/>
<rect x="1910.80" y="159.90" width="44.25" height="44.25" fill="rgb(95,95,95)"/>
<rect x="1954.45" y="159.90" width="44.25" height="44.25" fill="rgb(104,104,104)"/>
<rect x="1998.10" y="159.90" width="44.25" height="44.25" fill="rgb(114,114,114)"/>
<rect x="2041.75" y="159.90" width="44.25" height="44.25" fill="rgb(86,86,86)"/>
<rect x="1648.90" y="203.55" width="44.25" height="44.25" fill="#000"/>
<rect x="1692.55" y="203.55" width="44.25" height="44.25" fill="rgb(95,95,95)"/>
<rect x="1736.20" y="203.55" width="44.25" height="44.25" fill="rgb(86,86,86)"/>
<rect x="1779.85" y="203.55" width="44.25" height="44.25" fill="rgb(106,106,106)"/>
<rect x="1823.50" y="203.55" width="44.25" height="44.25" fill="rgb(104,104,104)"/>
<rect x="1867.15" y="203.55" width="44.25" height="44.25" fill="#fff"/>
<rect x="1910.80" y="203.55" width="44.25" height="44.25" fill="rgb(104,104,104)"/>
<rect x="1954.45" y="203.55" width="44.25" height="44.25" fill="rgb(104,104,104)"/>
<rect x="1998.10" y="203.55" width="44.25" height="44.25" fill="rgb(104,104,104)"/>
<rect x="2041.75" y="203.55" width="44.25" height="44.25" fill="#000"/>
<rect x="1648.90" y="247.20" width="44.25" height="44.25" fill="#fff"/>
<rect x="1692.55" y="247.20" width="44.25" height="44.25" fill="#fff"/>
<rect x="1736.20" y="247.20" width="44.25" height="44.25" fill="#fff"/>
<rect x="1779.85" y="247.20" width="44.25" height="44.25" fill="#fff"/>
<rect x="1823.50" y="247.20" width="44.25" height="44.25" fill="#fff"/>
<rect x="1867.15" y="247.20" width="44.25" height="44.25" fill="#fff"/>
<rect x="1910.80" y="247.20" width="44.25" height="44.25" fill="#fff"/>
<rect x="1954.45" y="247.20" width="44.25" height="44.25" fill="#fff"/>
<rect x="1998.10" y="247.20" width="44.25" height="44.25" fill="#fff"/>
<rect x="2041.75" y="247.20" width="44.25" height="44.25" fill="#fff"/>
<rect x="1648.90" y="290.85" width="44.25" height="44.25" fill="rgb(86,86,86)"/>
<rect x="1692.55" y="290.85" width="44.25" height="44.25" fill="rgb(104,104,104)"/>
<rect x="1736.20" y="290.85" width="44.25" height="44.25" fill="rgb(114,114,114)"/>
<rect x="1779.85" y="290.85" width="44.25" height="44.25" fill="rgb(104,104,104)"/>
<rect x="1823.50" y="290.85" width="44.25" height="44.25" fill="rgb(104,104,104)"/>
<rect x="1867.15" y="290.85" width="44.25" height="44.25" fill="#fff"/>
<rect x="1910.80" y="290.85" width="44.25" height="44.25" fill="rgb(104,104,104)"/>
<rect x="1954.45" y="290.85" width="44.25" height="44.25" fill="rgb(104,104,104)"/>
<rect x="1998.10" y="290.85" width="44.25" height="44.25" fill="rgb(104,104,104)"/>
<rect x="2041.75" y="290.85" width="44.25" height="44.25" fill="#000"/>
<rect x="1648.90" y="334.50" width="44.25" height="44.25" fill="rgb(114,114,114)"/>
<rect x="1692.55" y="334.50" width="44.25" height="44.25" fill="#000"/>
<rect x="1736.20" y="334.50" width="44.25" height="44.25" fill="rgb(104,104,104)"/>
<rect x="1779.85" y="334.50" width="44.25" height="44.25" fill="rgb(86,86,86)"/>
<rect x="1823.50" y="334.50" width="44.25" height="44.25" fill="rgb(104,104,104)"/>
<rect x="1867.15" y="334.50" width="44.25" height="44.25" fill="#fff"/>
<rect x="1910.80" y="334.50" width="44.25" height="44.25" fill="rgb(104,104,104)"/>
<rect x="1954.45" y="334.50" width="44.25" height="44.25" fill="rgb(104,104,104)"/>
<rect x="1998.10" y="334.50" width="44.25" height="44.25" fill="rgb(95,95,95)"/>
<rect x="2041.75" y="334.50" width="44.25" height="44.25" fill="#000"/>
<rect x="1648.90" y="378.15" width="44.25" height="44.25" fill="rgb(104,104,104)"/>
<rect x="1692.55" y="378.15" width="44.25" height="44.25" fill="rgb(95,95,95)"/>
<rect x="1736.20" y="378.15" width="44.25" height="44.25" fill="rgb(104,104,104)"/>
<rect x="1779.85" y="378.15" width="44.25" height="44.25" fill="rgb(95,95,95)"/>
<rect x="1823.50" y="378.15" width="44.25" height="44.25" fill="rgb(104,104,104)"/>
<rect x="1867.15" y="378.15" width="44.25" height="44.25" fill="#fff"/>
<rect x="1910.80" y="378.15" width="44.25" height="44.25" fill="rgb(114,114,114)"/>
<rect x="1954.45" y="378.15" width="44.25" height="44.25" fill="rgb(95,95,95)"/>
<rect x="1998.10" y="378.15" width="44.25" height="44.25" fill="#000"/>
<rect x="2041.75" y="378.15" width="44.25" height="44.25" fill="#000"/>
<rect x="1648.90" y="421.80" width="44.25" height="44.25" fill="rgb(103,103,103)"/>
<rect x="1692.55" y="421.80" width="44.25" height="44.25" fill="rgb(95,95,95)"/>
<rect x="1736.20" y="421.80" width="44.25" height="44.25" fill="rgb(95,95,95)"/>
<rect x="1779.85" y="421.80" width="44.25" height="44.25" fill="rgb(104,104,104)"/>
<rect x="1823.50" y="421.80" width="44.25" height="44.25" fill="rgb(106,106,106)"/>
<rect x="1867.15" y="421.80" width="44.25" height="44.25" fill="#fff"/>
<rect x="1910.80" y="421.80" width="44.25" height="44.25" fill="rgb(95,95,95)"/>
<rect x="1954.45" y="421.80" width="44.25" height="44.25" fill="#000"/>
<rect x="1998.10" y="421.80" width="44.25" height="44.25" fill="#000"/>
<rect x="2041.75" y="421.80" width="44.25" height="44.25" fill="#000"/>
<rect x="1648.90" y="465.45" width="44.25" height="44.25" fill="rgb(86,86,86)"/>
<rect x="1692.55" y="465.45" width="44.25" height="44.25" fill="rgb(124,124,124)"/>
<rect x="1736.20" y="465.45" width="44.25" height="44.25" fill="rgb(106,106,106)"/>
<rect x="1779.85" y="465.45" width="44.25" height="44.25" fill="rgb(86,86,86)"/>
<rect x="1823.50" y="465.45" width="44.25" height="44.25" fill="rgb(104,104,104)"/>
<rect x="1867.15" y="465.45" width="44.25" height="44.25" fill="#fff"/>
<rect x="1910.80" y="465.45" width="44.25" height="44.25" fill="#000"/>
<rect x="1954.45" y="465.45" width="44.25" height="44.25" fill="#000"/>
<rect x="1998.10" y="465.45" width="44.25" height="44.25" fill="#000"/>
<rect x="2041.75" y="465.45" width="44.25" height="44.25" fill="#000"/>
<rect x="1648.90" y="72.60" width="436.50" height="436.50" fill="none" stroke="#000" stroke-width="1.6"/>
<text x="1670.73" y="100.22" font-size="20.8" text-anchor="middle">4</text>
<text x="1845.33" y="100.22" font-size="20.8" text-anchor="middle">11</text>
<text x="1888.98" y="100.22" font-size="20.8" text-anchor="middle">457</text>
<text x="1932.62" y="100.22" font-size="20.8" text-anchor="middle">15</text>
<text x="1976.28" y="100.22" font-size="20.8" text-anchor="middle">10</text>
<text x="2019.93" y="100.22" font-size="20.8" text-anchor="middle">9</text>
<text x="2063.58" y="100.22" font-size="20.8" text-anchor="middle">10</text>
<text x="1758.03" y="143.88" font-size="20.8" text-anchor="middle">15</text>
<text x="1801.68" y="143.88" font-size="20.8" text-anchor="middle">5</text>
<text x="1845.33" y="143.88" font-size="20.8" text-anchor="middle">20</text>
<text x="1888.98" y="143.88" font-size="20.8" text-anchor="middle">508</text>
<text x="1932.62" y="143.88" font-size="20.8" text-anchor="middle">15</text>
<text x="1976.28" y="143.88" font-size="20.8" text-anchor="middle">11</text>
<text x="2019.93" y="143.88" font-size="20.8" text-anchor="middle">5</text>
<text x="2063.58" y="143.88" font-size="20.8" text-anchor="middle">20</text>
<text x="1714.38" y="187.53" font-size="20.8" text-anchor="middle">15</text>
<text x="1758.03" y="187.53" font-size="20.8" text-anchor="middle">10</text>
<text x="1801.68" y="187.53" font-size="20.8" text-anchor="middle">15</text>
<text x="1888.98" y="187.53" font-size="20.8" text-anchor="middle">499</text>
<text x="1932.62" y="187.53" font-size="20.8" text-anchor="middle">10</text>
<text x="1976.28" y="187.53" font-size="20.8" text-anchor="middle">15</text>
<text x="2019.93" y="187.53" font-size="20.8" text-anchor="middle">20</text>
<text x="2063.58" y="187.53" font-size="20.8" text-anchor="middle">5</text>
<text x="1714.38" y="231.18" font-size="20.8" text-anchor="middle">10</text>
<text x="1758.03" y="231.18" font-size="20.8" text-anchor="middle">5</text>
<text x="1801.68" y="231.18" font-size="20.8" text-anchor="middle">16</text>
<text x="1845.33" y="231.18" font-size="20.8" text-anchor="middle">15</text>
<text x="1888.98" y="231.18" font-size="20.8" text-anchor="middle">583</text>
<text x="1932.62" y="231.18" font-size="20.8" text-anchor="middle">15</text>
<text x="1976.28" y="231.18" font-size="20.8" text-anchor="middle">15</text>
<text x="2019.93" y="231.18" font-size="20.8" text-anchor="middle">15</text>
<text x="1670.73" y="274.82" font-size="20.8" text-anchor="middle">435</text>
<text x="1714.38" y="274.82" font-size="20.8" text-anchor="middle">488</text>
<text x="1758.03" y="274.82" font-size="20.8" text-anchor="middle">499</text>
<text x="1801.68" y="274.82" font-size="20.8" text-anchor="middle">580</text>
<text x="1845.33" y="274.82" font-size="20.8" text-anchor="middle">647</text>
<text x="1888.98" y="274.82" font-size="20.8" text-anchor="middle">1244</text>
<text x="1932.62" y="274.82" font-size="20.8" text-anchor="middle">650</text>
<text x="1976.28" y="274.82" font-size="20.8" text-anchor="middle">708</text>
<text x="2019.93" y="274.82" font-size="20.8" text-anchor="middle">732</text>
<text x="2063.58" y="274.82" font-size="20.8" text-anchor="middle">788</text>
<text x="1670.73" y="318.47" font-size="20.8" text-anchor="middle">5</text>
<text x="1714.38" y="318.47" font-size="20.8" text-anchor="middle">15</text>
<text x="1758.03" y="318.47" font-size="20.8" text-anchor="middle">20</text>
<text x="1801.68" y="318.47" font-size="20.8" text-anchor="middle">15</text>
<text x="1845.33" y="318.47" font-size="20.8" text-anchor="middle">15</text>
<text x="1888.98" y="318.47" font-size="20.8" text-anchor="middle">600</text>
<text x="1932.62" y="318.47" font-size="20.8" text-anchor="middle">15</text>
<text x="1976.28" y="318.47" font-size="20.8" text-anchor="middle">15</text>
<text x="2019.93" y="318.47" font-size="20.8" text-anchor="middle">15</text>
<text x="1670.73" y="362.12" font-size="20.8" text-anchor="middle">20</text>
<text x="1758.03" y="362.12" font-size="20.8" text-anchor="middle">15</text>
<text x="1801.68" y="362.12" font-size="20.8" text-anchor="middle">5</text>
<text x="1845.33" y="362.12" font-size="20.8" text-anchor="middle">15</text>
<text x="1888.98" y="362.12" font-size="20.8" text-anchor="middle">671</text>
<text x="1932.62" y="362.12" font-size="20.8" text-anchor="middle">15</text>
<text x="1976.28" y="362.12" font-size="20.8" text-anchor="middle">15</text>
<text x="2019.93" y="362.12" font-size="20.8" text-anchor="middle">10</text>
<text x="1670.73" y="405.78" font-size="20.8" text-anchor="middle">15</text>
<text x="1714.38" y="405.78" font-size="20.8" text-anchor="middle">10</text>
<text x="1758.03" y="405.78" font-size="20.8" text-anchor="middle">15</text>
<text x="1801.68" y="405.78" font-size="20.8" text-anchor="middle">10</text>
<text x="1845.33" y="405.78" font-size="20.8" text-anchor="middle">15</text>
<text x="1888.98" y="405.78" font-size="20.8" text-anchor="middle">771</text>
<text x="1932.62" y="405.78" font-size="20.8" text-anchor="middle">20</text>
<text x="1976.28" y="405.78" font-size="20.8" text-anchor="middle">10</text>
<text x="1670.73" y="449.43" font-size="20.8" text-anchor="middle">14</text>
<text x="1714.38" y="449.43" font-size="20.8" text-anchor="middle">10</text>
<text x="1758.03" y="449.43" font-size="20.8" text-anchor="middle">10</text>
<text x="1801.68" y="449.43" font-size="20.8" text-anchor="middle">15</text>
<text x="1845.33" y="449.43" font-size="20.8" text-anchor="middle">16</text>
<text x="1888.98" y="449.43" font-size="20.8" text-anchor="middle">756</text>
<text x="1932.62" y="449.43" font-size="20.8" text-anchor="middle">10</text>
<text x="1670.73" y="493.07" font-size="20.8" text-anchor="middle">5</text>
<text x="1714.38" y="493.07" font-size="20.8" text-anchor="middle">25</text>
<text x="1758.03" y="493.07" font-size="20.8" text-anchor="middle">16</text>
<text x="1801.68" y="493.07" font-size="20.8" text-anchor="middle">5</text>
<text x="1845.33" y="493.07" font-size="20.8" text-anchor="middle">15</text>
<text x="1888.98" y="493.07" font-size="20.8" text-anchor="middle">821</text>
<text x="1629.40" y="103.83" font-size="25.2" text-anchor="middle" fill="#000">1</text>
<text x="1629.40" y="147.47" font-size="25.2" text-anchor="middle" fill="#000">2</text>
<text x="1629.40" y="191.12" font-size="25.2" text-anchor="middle" fill="#000">3</text>
<text x="1629.40" y="234.78" font-size="25.2" text-anchor="middle" fill="#000">4</text>
<text x="1629.40" y="278.42" font-size="25.2" text-anchor="middle" fill="#000">5</text>
<text x="1629.40" y="322.07" font-size="25.2" text-anchor="middle" fill="#000">6</text>
<text x="1629.40" y="365.72" font-size="25.2" text-anchor="middle" fill="#000">7</text>
<text x="1629.40" y="409.38" font-size="25.2" text-anchor="middle" fill="#000">8</text>
<text x="1629.40" y="453.02" font-size="25.2" text-anchor="middle" fill="#000">9</text>
<text x="1629.40" y="496.67" font-size="25.2" text-anchor="middle" fill="#000">10</text>
<text x="1658.92" y="539.70" font-size="25.2" text-anchor="start" fill="#000">0.1</text>
<text x="1701.92" y="539.70" font-size="25.2" text-anchor="start" fill="#000">0.2</text>
<text x="1744.92" y="539.70" font-size="25.2" text-anchor="start" fill="#000">0.3</text>
<text x="1787.92" y="539.70" font-size="25.2" text-anchor="start" fill="#000">0.4</text>
<text x="1830.92" y="539.70" font-size="25.2" text-anchor="start" fill="#000">0.5</text>
<text x="1873.92" y="539.70" font-size="25.2" text-anchor="start" fill="#000">0.6</text>
<text x="1916.92" y="539.70" font-size="25.2" text-anchor="start" fill="#000">0.7</text>
<text x="1959.92" y="539.70" font-size="25.2" text-anchor="start" fill="#000">0.8</text>
<text x="2002.92" y="539.70" font-size="25.2" text-anchor="start" fill="#000">0.9</text>
<text x="2059.90" y="539.70" font-size="25.2" text-anchor="start" fill="#000">1</text>
<text x="1869.05" y="569.30" font-size="28.2" text-anchor="middle" fill="#000">Probability</text>
<text x="1603.90" y="290.85" font-size="28.2" text-anchor="middle" fill="#000" transform="rotate(-90 1603.90 290.85)">Magnitude</text>
<text x="1867.15" y="62.70" font-size="28.2" text-anchor="middle" fill="#000">Monkey B</text>
</g>
<g>
<rect x="1130.90" y="617.10" width="44.25" height="44.25" fill="#000"/>
<rect x="1174.55" y="617.10" width="44.25" height="44.25" fill="#000"/>
<rect x="1218.20" y="617.10" width="44.25" height="44.25" fill="#000"/>
<rect x="1261.85" y="617.10" width="44.25" height="44.25" fill="#000"/>
<rect x="1305.50" y="617.10" width="44.25" height="44.25" fill="#000"/>
<rect x="1349.15" y="617.10" width="44.25" height="44.25" fill="#fff"/>
<rect x="1392.80" y="617.10" width="44.25" height="44.25" fill="rgb(125,125,125)"/>
<rect x="1436.45" y="617.10" width="44.25" height="44.25" fill="rgb(137,137,137)"/>
<rect x="1480.10" y="617.10" width="44.25" height="44.25" fill="rgb(142,142,142)"/>
<rect x="1523.75" y="617.10" width="44.25" height="44.25" fill="rgb(89,89,89)"/>
<rect x="1130.90" y="660.75" width="44.25" height="44.25" fill="#000"/>
<rect x="1174.55" y="660.75" width="44.25" height="44.25" fill="#000"/>
<rect x="1218.20" y="660.75" width="44.25" height="44.25" fill="rgb(104,104,104)"/>
<rect x="1261.85" y="660.75" width="44.25" height="44.25" fill="rgb(103,103,103)"/>
<rect x="1305.50" y="660.75" width="44.25" height="44.25" fill="rgb(114,114,114)"/>
<rect x="1349.15" y="660.75" width="44.25" height="44.25" fill="#fff"/>
<rect x="1392.80" y="660.75" width="44.25" height="44.25" fill="rgb(129,129,129)"/>
<rect x="1436.45" y="660.75" width="44.25" height="44.25" fill="rgb(125,125,125)"/>
<rect x="1480.10" y="660.75" width="44.25" height="44.25" fill="rgb(112,112,112)"/>
<rect x="1523.75" y="660.75" width="44.25" height="44.25" fill="rgb(103,103,103)"/>
<rect x="1130.90" y="704.40" width="44.25" height="44.25" fill="#000"/>
<rect x="1174.55" y="704.40" width="44.25" height="44.25" fill="rgb(99,99,99)"/>
<rect x="1218.20" y="704.40" width="44.25" height="44.25" fill="rgb(112,112,112)"/>
<rect x="1261.85" y="704.40" width="44.25" height="44.25" fill="rgb(122,122,122)"/>
<rect x="1305.50" y="704.40" width="44.25" height="44.25" fill="rgb(93,93,93)"/>
<rect x="1349.15" y="704.40" width="44.25" height="44.25" fill="#fff"/>
<rect x="1392.80" y="704.40" width="44.25" height="44.25" fill="rgb(116,116,116)"/>
<rect x="1436.45" y="704.40" width="44.25" height="44.25" fill="rgb(106,106,106)"/>
<rect x="1480.10" y="704.40" width="44.25" height="44.25" fill="rgb(142,142,142)"/>
<rect x="1523.75" y="704.40" width="44.25" height="44.25" fill="rgb(135,135,135)"/>
<rect x="1130.90" y="748.05" width="44.25" height="44.25" fill="#000"/>
<rect x="1174.55" y="748.05" width="44.25" height="44.25" fill="rgb(95,95,95)"/>
<rect x="1218.20" y="748.05" width="44.25" height="44.25" fill="rgb(104,104,104)"/>
<rect x="1261.85" y="748.05" width="44.25" height="44.25" fill="rgb(122,122,122)"/>
<rect x="1305.50" y="748.05" width="44.25" height="44.25" fill="rgb(89,89,89)"/>
<rect x="1349.15" y="748.05" width="44.25" height="44.25" fill="#fff"/>
<rect x="1392.80" y="748.05" width="44.25" height="44.25" fill="rgb(101,101,101)"/>
<rect x="1436.45" y="748.05" width="44.25" height="44.25" fill="rgb(122,122,122)"/>
<rect x="1480.10" y="748.05" width="44.25" height="44.25" fill="rgb(116,116,116)"/>
<rect x="1523.75" y="748.05" width="44.25" height="44.25" fill="rgb(120,120,120)"/>
<rect x="1130.90" y="791.70" width="44.25" height="44.25" fill="#fff"/>
<rect x="1174.55" y="791.70" width="44.25" height="44.25" fill="#fff"/>
<rect x="1218.20" y="791.70" width="44.25" height="44.25" fill="#fff"/>
<rect x="1261.85" y="791.70" width="44.25" height="44.25" fill="#fff"/>
<rect x="1305.50" y="791.70" width="44.25" height="44.25" fill="#fff"/>
<rect x="1349.15" y="791.70" width="44.25" height="44.25" fill="#fff"/>
<rect x="1392.80" y="791.70" width="44.25" height="44.25" fill="#fff"/>
<rect x="1436.45" y="791.70" width="44.25" height="44.25" fill="#fff"/>
<rect x="1480.10" y="791.70" width="44.25" height="44.25" fill="#fff"/>
<rect x="1523.75" y="791.70" width="44.25" height="44.25" fill="#fff"/>
<rect x="1130.90" y="835.35" width="44.25" height="44.25" fill="rgb(78,78,78)"/>
<rect x="1174.55" y="835.35" width="44.25" height="44.25" fill="rgb(93,93,93)"/>
<rect x="1218.20" y="835.35" width="44.25" height="44.25" fill="rgb(104,104,104)"/>
<rect x="1261.85" y="835.35" width="44.25" height="44.25" fill="#000"/>
<rect x="1305.50" y="835.35" width="44.25" height="44.25" fill="rgb(104,104,104)"/>
<rect x="1349.15" y="835.35" width="44.25" height="44.25" fill="#fff"/>
<rect x="1392.80" y="835.35" width="44.25" height="44.25" fill="rgb(108,108,108)"/>
<rect x="1436.45" y="835.35" width="44.25" height="44.25" fill="rgb(91,91,91)"/>
<rect x="1480.10" y="835.35" width="44.25" height="44.25" fill="rgb(142,142,142)"/>
<rect x="1523.75" y="835.35" width="44.25" height="44.25" fill="#000"/>
<rect x="1130.90" y="879.00" width="44.25" height="44.25" fill="#000"/>
<rect x="1174.55" y="879.00" width="44.25" height="44.25" fill="rgb(89,89,89)"/>
<rect x="1218.20" y="879.00" width="44.25" height="44.25" fill="rgb(127,127,127)"/>
<rect x="1261.85" y="879.00" width="44.25" height="44.25" fill="rgb(120,120,120)"/>
<rect x="1305.50" y="879.00" width="44.25" height="44.25" fill="rgb(106,106,106)"/>
<rect x="1349.15" y="879.00" width="44.25" height="44.25" fill="#fff"/>
<rect x="1392.80" y="879.00" width="44.25" height="44.25" fill="rgb(99,99,99)"/>
<rect x="1436.45" y="879.00" width="44.25" height="44.25" fill="rgb(116,116,116)"/>
<rect x="1480.10" y="879.00" width="44.25" height="44.25" fill="rgb(110,110,110)"/>
<rect x="1523.75" y="879.00" width="44.25" height="44.25" fill="#000"/>
<rect x="1130.90" y="922.65" width="44.25" height="44.25" fill="rgb(99,99,99)"/>
<rect x="1174.55" y="922.65" width="44.25" height="44.25" fill="rgb(120,120,120)"/>
<rect x="1218.20" y="922.65" width="44.25" height="44.25" fill="rgb(146,146,146)"/>
<rect x="1261.85" y="922.65" width="44.25" height="44.25" fill="rgb(125,125,125)"/>
<rect x="1305.50" y="922.65" width="44.25" height="44.25" fill="rgb(97,97,97)"/>
<rect x="1349.15" y="922.65" width="44.25" height="44.25" fill="#fff"/>
<rect x="1392.80" y="922.65" width="44.25" height="44.25" fill="rgb(127,127,127)"/>
<rect x="1436.45" y="922.65" width="44.25" height="44.25" fill="rgb(118,118,118)"/>
<rect x="1480.10" y="922.65" width="44.25" height="44.25" fill="#000"/>
<rect x="1523.75" y="922.65" width="44.25" height="44.25" fill="#000"/>
<rect x="1130.90" y="966.30" width="44.25" height="44.25" fill="rgb(93,93,93)"/>
<rect x="1174.55" y="966.30" width="44.25" height="44.25" fill="rgb(101,101,101)"/>
<rect x="1218.20" y="966.30" width="44.25" height="44.25" fill="rgb(89,89,89)"/>
<rect x="1261.85" y="966.30" width="44.25" height="44.25" fill="rgb(165,165,165)"/>
<rect x="1305.50" y="966.30" width="44.25" height="44.25" fill="rgb(129,129,129)"/>
<rect x="1349.15" y="966.30" width="44.25" height="44.25" fill="#fff"/>
<rect x="1392.80" y="966.30" width="44.25" height="44.25" fill="rgb(129,129,129)"/>
<rect x="1436.45" y="966.30" width="44.25" height="44.25" fill="#000"/>
<rect x="1480.10" y="966.30" width="44.25" height="44.25" fill="#000"/>
<rect x="1523.75" y="966.30" width="44.25" height="44.25" fill="#000"/>
<rect x="1130.90" y="1009.95" width="44.25" height="44.25" fill="rgb(97,97,97)"/>
<rect x="1174.55" y="1009.95" width="44.25" height="44.25" fill="rgb(95,95,95)"/>
<rect x="1218.20" y="1009.95" width="44.25" height="44.25" fill="#000"/>
<rect x="1261.85" y="1009.95" width="44.25" height="44.25" fill="rgb(160,160,160)"/>
<rect x="1305.50" y="1009.95" width="44.25" height="44.25" fill="rgb(135,135,135)"/>
<rect x="1349.15" y="1009.95" width="44.25" height="44.25" fill="#fff"/>
<rect x="1392.80" y="1009.95" width="44.25" height="44.25" fill="#000"/>
<rect x="1436.45" y="1009.95" width="44.25" height="44.25" fill="#000"/>
<rect x="1480.10" y="1009.95" width="44.25" height="44.25" fill="#000"/>
<rect x="1523.75" y="1009.95" width="44.25" height="44.25" fill="#000"/>
<rect x="1130.90" y="617.10" width="436.50" height="436.50" fill="none" stroke="#000" stroke-width="1.6"/>
<text x="1370.98" y="644.73" font-size="20.8" text-anchor="middle">444</text>
<text x="1414.62" y="644.73" font-size="20.8" text-anchor="middle">26</text>
<text x="1458.28" y="644.73" font-size="20.8" text-anchor="middle">32</text>
<text x="1501.93" y="644.73" font-size="20.8" text-anchor="middle">35</text>
<text x="1545.58" y="644.73" font-size="20.8" text-anchor="middle">7</text>
<text x="1240.03" y="688.38" font-size="20.8" text-anchor="middle">15</text>
<text x="1283.68" y="688.38" font-size="20.8" text-anchor="middle">14</text>
<text x="1327.33" y="688.38" font-size="20.8" text-anchor="middle">20</text>
<text x="1370.98" y="688.38" font-size="20.8" text-anchor="middle">418</text>
<text x="1414.62" y="688.38" font-size="20.8" text-anchor="middle">28</text>
<text x="1458.28" y="688.38" font-size="20.8" text-anchor="middle">26</text>
<text x="1501.93" y="688.38" font-size="20.8" text-anchor="middle">19</text>
<text x="1545.58" y="688.38" font-size="20.8" text-anchor="middle">14</text>
<text x="1196.38" y="732.02" font-size="20.8" text-anchor="middle">12</text>
<text x="1240.03" y="732.02" font-size="20.8" text-anchor="middle">19</text>
<text x="1283.68" y="732.02" font-size="20.8" text-anchor="middle">24</text>
<text x="1327.33" y="732.02" font-size="20.8" text-anchor="middle">9</text>
<text x="1370.98" y="732.02" font-size="20.8" text-anchor="middle">414</text>
<text x="1414.62" y="732.02" font-size="20.8" text-anchor="middle">21</text>
<text x="1458.28" y="732.02" font-size="20.8" text-anchor="middle">16</text>
<text x="1501.93" y="732.02" font-size="20.8" text-anchor="middle">35</text>
<text x="1545.58" y="732.02" font-size="20.8" text-anchor="middle">31</text>
<text x="1196.38" y="775.67" font-size="20.8" text-anchor="middle">10</text>
<text x="1240.03" y="775.67" font-size="20.8" text-anchor="middle">15</text>
<text x="1283.68" y="775.67" font-size="20.8" text-anchor="middle">24</text>
<text x="1327.33" y="775.67" font-size="20.8" text-anchor="middle">7</text>
<text x="1370.98" y="775.67" font-size="20.8" text-anchor="middle">439</text>
<text x="1414.62" y="775.67" font-size="20.8" text-anchor="middle">13</text>
<text x="1458.28" y="775.67" font-size="20.8" text-anchor="middle">24</text>
<text x="1501.93" y="775.67" font-size="20.8" text-anchor="middle">21</text>
<text x="1545.58" y="775.67" font-size="20.8" text-anchor="middle">23</text>
<text x="1152.73" y="819.32" font-size="20.8" text-anchor="middle">201</text>
<text x="1196.38" y="819.32" font-size="20.8" text-anchor="middle">274</text>
<text x="1240.03" y="819.32" font-size="20.8" text-anchor="middle">337</text>
<text x="1283.68" y="819.32" font-size="20.8" text-anchor="middle">407</text>
<text x="1327.33" y="819.32" font-size="20.8" text-anchor="middle">493</text>
<text x="1370.98" y="819.32" font-size="20.8" text-anchor="middle">1016</text>
<text x="1414.62" y="819.32" font-size="20.8" text-anchor="middle">638</text>
<text x="1458.28" y="819.32" font-size="20.8" text-anchor="middle">620</text>
<text x="1501.93" y="819.32" font-size="20.8" text-anchor="middle">716</text>
<text x="1545.58" y="819.32" font-size="20.8" text-anchor="middle">726</text>
<text x="1152.73" y="862.97" font-size="20.8" text-anchor="middle">1</text>
<text x="1196.38" y="862.97" font-size="20.8" text-anchor="middle">9</text>
<text x="1240.03" y="862.97" font-size="20.8" text-anchor="middle">15</text>
<text x="1327.33" y="862.97" font-size="20.8" text-anchor="middle">15</text>
<text x="1370.98" y="862.97" font-size="20.8" text-anchor="middle">530</text>
<text x="1414.62" y="862.97" font-size="20.8" text-anchor="middle">17</text>
<text x="1458.28" y="862.97" font-size="20.8" text-anchor="middle">8</text>
<text x="1501.93" y="862.97" font-size="20.8" text-anchor="middle">35</text>
<text x="1196.38" y="906.62" font-size="20.8" text-anchor="middle">7</text>
<text x="1240.03" y="906.62" font-size="20.8" text-anchor="middle">27</text>
<text x="1283.68" y="906.62" font-size="20.8" text-anchor="middle">23</text>
<text x="1327.33" y="906.62" font-size="20.8" text-anchor="middle">16</text>
<text x="1370.98" y="906.62" font-size="20.8" text-anchor="middle">669</text>
<text x="1414.62" y="906.62" font-size="20.8" text-anchor="middle">12</text>
<text x="1458.28" y="906.62" font-size="20.8" text-anchor="middle">21</text>
<text x="1501.93" y="906.62" font-size="20.8" text-anchor="middle">18</text>
<text x="1152.73" y="950.27" font-size="20.8" text-anchor="middle">12</text>
<text x="1196.38" y="950.27" font-size="20.8" text-anchor="middle">23</text>
<text x="1240.03" y="950.27" font-size="20.8" text-anchor="middle">37</text>
<text x="1283.68" y="950.27" font-size="20.8" text-anchor="middle">26</text>
<text x="1327.33" y="950.27" font-size="20.8" text-anchor="middle">11</text>
<text x="1370.98" y="950.27" font-size="20.8" text-anchor="middle">746</text>
<text x="1414.62" y="950.27" font-size="20.8" text-anchor="middle">27</text>
<text x="1458.28" y="950.27" font-size="20.8" text-anchor="middle">22</text>
<text x="1152.73" y="993.92" font-size="20.8" text-anchor="middle">9</text>
<text x="1196.38" y="993.92" font-size="20.8" text-anchor="middle">13</text>
<text x="1240.03" y="993.92" font-size="20.8" text-anchor="middle">7</text>
<text x="1283.68" y="993.92" font-size="20.8" text-anchor="middle">47</text>
<text x="1327.33" y="993.92" font-size="20.8" text-anchor="middle">28</text>
<text x="1370.98" y="993.92" font-size="20.8" text-anchor="middle">830</text>
<text x="1414.62" y="993.92" font-size="20.8" text-anchor="middle">28</text>
<text x="1152.73" y="1037.58" font-size="20.8" text-anchor="middle">11</text>
<text x="1196.38" y="1037.58" font-size="20.8" text-anchor="middle">10</text>
<text x="1283.68" y="1037.58" font-size="20.8" text-anchor="middle">44</text>
<text x="1327.33" y="1037.58" font-size="20.8" text-anchor="middle">31</text>
<text x="1370.98" y="1037.58" font-size="20.8" text-anchor="middle">787</text>
<text x="1111.40" y="648.33" font-size="25.2" text-anchor="middle" fill="#000">1</text>
<text x="1111.40" y="691.98" font-size="25.2" text-anchor="middle" fill="#000">2</text>
<text x="1111.40" y="735.62" font-size="25.2" text-anchor="middle" fill="#000">3</text>
<text x="1111.40" y="779.27" font-size="25.2" text-anchor="middle" fill="#000">4</text>
<text x="1111.40" y="822.92" font-size="25.2" text-anchor="middle" fill="#000">5</text>
<text x="1111.40" y="866.57" font-size="25.2" text-anchor="middle" fill="#000">6</text>
<text x="1111.40" y="910.23" font-size="25.2" text-anchor="middle" fill="#000">7</text>
<text x="1111.40" y="953.88" font-size="25.2" text-anchor="middle" fill="#000">8</text>
<text x="1111.40" y="997.52" font-size="25.2" text-anchor="middle" fill="#000">9</text>
<text x="1111.40" y="1041.18" font-size="25.2" text-anchor="middle" fill="#000">10</text>
<text x="1145.52" y="1086.20" font-size="25.2" text-anchor="start" fill="#000">0.1</text>
<text x="1188.52" y="1086.20" font-size="25.2" text-anchor="start" fill="#000">0.2</text>
<text x="1231.52" y="1086.20" font-size="25.2" text-anchor="start" fill="#000">0.3</text>
<text x="1274.52" y="1086.20" font-size="25.2" text-anchor="start" fill="#000">0.4</text>
<text x="1317.52" y="1086.20" font-size="25.2" text-anchor="start" fill="#000">0.5</text>
<text x="1360.52" y="1086.20" font-size="25.2" text-anchor="start" fill="#000">0.6</text>
<text x="1403.52" y="1086.20" font-size="25.2" text-anchor="start" fill="#000">0.7</text>
<text x="1446.52" y="1086.20" font-size="25.2" text-anchor="start" fill="#000">0.8</text>
<text x="1489.52" y="1086.20" font-size="25.2" text-anchor="start" fill="#000">0.9</text>
<text x="1545.10" y="1086.20" font-size="25.2" text-anchor="start" fill="#000">1</text>
<text x="1350.15" y="1114.80" font-size="28.2" text-anchor="middle" fill="#000">Probability</text>
<text x="1085.90" y="835.35" font-size="28.2" text-anchor="middle" fill="#000" transform="rotate(-90 1085.90 835.35)">Magnitude</text>
<text x="1349.15" y="607.20" font-size="28.2" text-anchor="middle" fill="#000">Monkey C</text>
</g>
<g>
<rect x="1648.90" y="617.10" width="44.25" height="44.25" fill="#000"/>
<rect x="1692.55" y="617.10" width="44.25" height="44.25" fill="#000"/>
<rect x="1736.20" y="617.10" width="44.25" height="44.25" fill="#000"/>
<rect x="1779.85" y="617.10" width="44.25" height="44.25" fill="#000"/>
<rect x="1823.50" y="617.10" width="44.25" height="44.25" fill="rgb(106,106,106)"/>
<rect x="1867.15" y="617.10" width="44.25" height="44.25" fill="#fff"/>
<rect x="1910.80" y="617.10" width="44.25" height="44.25" fill="rgb(122,122,122)"/>
<rect x="1954.45" y="617.10" width="44.25" height="44.25" fill="rgb(142,142,142)"/>
<rect x="1998.10" y="617.10" width="44.25" height="44.25" fill="rgb(133,133,133)"/>
<rect x="2041.75" y="617.10" width="44.25" height="44.25" fill="rgb(114,114,114)"/>
<rect x="1648.90" y="660.75" width="44.25" height="44.25" fill="#000"/>
<rect x="1692.55" y="660.75" width="44.25" height="44.25" fill="#000"/>
<rect x="1736.20" y="660.75" width="44.25" height="44.25" fill="rgb(127,127,127)"/>
<rect x="1779.85" y="660.75" width="44.25" height="44.25" fill="rgb(118,118,118)"/>
<rect x="1823.50" y="660.75" width="44.25" height="44.25" fill="rgb(114,114,114)"/>
<rect x="1867.15" y="660.75" width="44.25" height="44.25" fill="#fff"/>
<rect x="1910.80" y="660.75" width="44.25" height="44.25" fill="rgb(148,148,148)"/>
<rect x="1954.45" y="660.75" width="44.25" height="44.25" fill="rgb(139,139,139)"/>
<rect x="1998.10" y="660.75" width="44.25" height="44.25" fill="rgb(99,99,99)"/>
<rect x="2041.75" y="660.75" width="44.25" height="44.25" fill="rgb(110,110,110)"/>
<rect x="1648.90" y="704.40" width="44.25" height="44.25" fill="#000"/>
<rect x="1692.55" y="704.40" width="44.25" height="44.25" fill="rgb(133,133,133)"/>
<rect x="1736.20" y="704.40" width="44.25" height="44.25" fill="rgb(110,110,110)"/>
<rect x="1779.85" y="704.40" width="44.25" height="44.25" fill="rgb(124,124,124)"/>
<rect x="1823.50" y="704.40" width="44.25" height="44.25" fill="rgb(141,141,141)"/>
<rect x="1867.15" y="704.40" width="44.25" height="44.25" fill="#fff"/>
<rect x="1910.80" y="704.40" width="44.25" height="44.25" fill="rgb(133,133,133)"/>
<rect x="1954.45" y="704.40" width="44.25" height="44.25" fill="rgb(104,104,104)"/>
<rect x="1998.10" y="704.40" width="44.25" height="44.25" fill="rgb(150,150,150)"/>
<rect x="2041.75" y="704.40" width="44.25" height="44.25" fill="rgb(133,133,133)"/>
<rect x="1648.90" y="748.05" width="44.25" height="44.25" fill="#000"/>
<rect x="1692.55" y="748.05" width="44.25" height="44.25" fill="rgb(124,124,124)"/>
<rect x="1736.20" y="748.05" width="44.25" height="44.25" fill="rgb(118,118,118)"/>
<rect x="1779.85" y="748.05" width="44.25" height="44.25" fill="rgb(154,154,154)"/>
<rect x="1823.50" y="748.05" width="44.25" height="44.25" fill="rgb(146,146,146)"/>
<rect x="1867.15" y="748.05" width="44.25" height="44.25" fill="#fff"/>
<rect x="1910.80" y="748.05" width="44.25" height="44.25" fill="rgb(124,124,124)"/>
<rect x="1954.45" y="748.05" width="44.25" height="44.25" fill="rgb(116,116,116)"/>
<rect x="1998.10" y="748.05" width="44.25" height="44.25" fill="rgb(116,116,116)"/>
<rect x="2041.75" y="748.05" width="44.25" height="44.25" fill="rgb(110,110,110)"/>
<rect x="1648.90" y="791.70" width="44.25" height="44.25" fill="#fff"/>
<rect x="1692.55" y="791.70" width="44.25" height="44.25" fill="#fff"/>
<rect x="1736.20" y="791.70" width="44.25" height="44.25" fill="#fff"/>
<rect x="1779.85" y="791.70" width="44.25" height="44.25" fill="#fff"/>
<rect x="1823.50" y="791.70" width="44.25" height="44.25" fill="#fff"/>
<rect x="1867.15" y="791.70" width="44.25" height="44.25" fill="#fff"/>
<rect x="1910.80" y="791.70" width="44.25" height="44.25" fill="#fff"/>
<rect x="1954.45" y="791.70" width="44.25" height="44.25" fill="#fff"/>
<rect x="1998.10" y="791.70" width="44.25" height="44.25" fill="#fff"/>
<rect x="2041.75" y="791.70" width="44.25" height="44.25" fill="#fff"/>
<rect x="1648.90" y="835.35" width="44.25" height="44.25" fill="rgb(116,116,116)"/>
<rect x="1692.55" y="835.35" width="44.25" height="44.25" fill="rgb(120,120,120)"/>
<rect x="1736.20" y="835.35" width="44.25" height="44.25" fill="rgb(114,114,114)"/>
<rect x="1779.85" y="835.35" width="44.25" height="44.25" fill="rgb(124,124,124)"/>
<rect x="1823.50" y="835.35" width="44.25" height="44.25" fill="rgb(110,110,110)"/>
<rect x="1867.15" y="835.35" width="44.25" height="44.25" fill="#fff"/>
<rect x="1910.80" y="835.35" width="44.25" height="44.25" fill="rgb(124,124,124)"/>
<rect x="1954.45" y="835.35" width="44.25" height="44.25" fill="rgb(124,124,124)"/>
<rect x="1998.10" y="835.35" width="44.25" height="44.25" fill="rgb(129,129,129)"/>
<rect x="2041.75" y="835.35" width="44.25" height="44.25" fill="rgb(91,91,91)"/>
<rect x="1648.90" y="879.00" width="44.25" height="44.25" fill="rgb(91,91,91)"/>
<rect x="1692.55" y="879.00" width="44.25" height="44.25" fill="rgb(112,112,112)"/>
<rect x="1736.20" y="879.00" width="44.25" height="44.25" fill="rgb(135,135,135)"/>
<rect x="1779.85" y="879.00" width="44.25" height="44.25" fill="rgb(116,116,116)"/>
<rect x="1823.50" y="879.00" width="44.25" height="44.25" fill="rgb(139,139,139)"/>
<rect x="1867.15" y="879.00" width="44.25" height="44.25" fill="#fff"/>
<rect x="1910.80" y="879.00" width="44.25" height="44.25" fill="rgb(103,103,103)"/>
<rect x="1954.45" y="879.00" width="44.25" height="44.25" fill="rgb(101,101,101)"/>
<rect x="1998.10" y="879.00" width="44.25" height="44.25" fill="rgb(106,106,106)"/>
<rect x="2041.75" y="879.00" width="44.25" height="44.25" fill="#000"/>
<rect x="1648.90" y="922.65" width="44.25" height="44.25" fill="rgb(118,118,118)"/>
<rect x="1692.55" y="922.65" width="44.25" height="44.25" fill="rgb(122,122,122)"/>
<rect x="1736.20" y="922.65" width="44.25" height="44.25" fill="rgb(135,135,135)"/>
<rect x="1779.85" y="922.65" width="44.25" height="44.25" fill="rgb(131,131,131)"/>
<rect x="1823.50" y="922.65" width="44.25" height="44.25" fill="rgb(104,104,104)"/>
<rect x="1867.15" y="922.65" width="44.25" height="44.25" fill="#fff"/>
<rect x="1910.80" y="922.65" width="44.25" height="44.25" fill="rgb(131,131,131)"/>
<rect x="1954.45" y="922.65" width="44.25" height="44.25" fill="rgb(114,114,114)"/>
<rect x="1998.10" y="922.65" width="44.25" height="44.25" fill="#000"/>
<rect x="2041.75" y="922.65" width="44.25" height="44.25" fill="#000"/>
<rect x="1648.90" y="966.30" width="44.25" height="44.25" fill="rgb(120,120,120)"/>
<rect x="1692.55" y="966.30" width="44.25" height="44.25" fill="rgb(110,110,110)"/>
<rect x="1736.20" y="966.30" width="44.25" height="44.25" fill="rgb(97,97,97)"/>
<rect x="1779.85" y="966.30" width="44.25" height="44.25" fill="rgb(142,142,142)"/>
<rect x="1823.50" y="966.30" width="44.25" height="44.25" fill="rgb(125,125,125)"/>
<rect x="1867.15" y="966.30" width="44.25" height="44.25" fill="#fff"/>
<rect x="1910.80" y="966.30" width="44.25" height="44.25" fill="rgb(133,133,133)"/>
<rect x="1954.45" y="966.30" width="44.25" height="44.25" fill="#000"/>
<rect x="1998.10" y="966.30" width="44.25" height="44.25" fill="#000"/>
<rect x="2041.75" y="966.30" width="44.25" height="44.25" fill="#000"/>
<rect x="1648.90" y="1009.95" width="44.25" height="44.25" fill="rgb(129,129,129)"/>
<rect x="1692.55" y="1009.95" width="44.25" height="44.25" fill="rgb(95,95,95)"/>
<rect x="1736.20" y="1009.95" width="44.25" height="44.25" fill="rgb(80,80,80)"/>
<rect x="1779.85" y="1009.95" width="44.25" height="44.25" fill="rgb(129,129,129)"/>
<rect x="1823.50" y="1009.95" width="44.25" height="44.25" fill="rgb(156,156,156)"/>
<rect x="1867.15" y="1009.95" width="44.25" height="44.25" fill="#fff"/>
<rect x="1910.80" y="1009.95" width="44.25" height="44.25" fill="#000"/>
<rect x="1954.45" y="1009.95" width="44.25" height="44.25" fill="#000"/>
<rect x="1998.10" y="1009.95" width="44.25" height="44.25" fill="#000"/>
<rect x="2041.75" y="1009.95" width="44.25" height="44.25" fill="#000"/>
<rect x="1648.90" y="617.10" width="436.50" height="436.50" fill="none" stroke="#000" stroke-width="1.6"/>
<text x="1845.33" y="644.73" font-size="20.8" text-anchor="middle">16</text>
<text x="1888.98" y="644.73" font-size="20.8" text-anchor="middle">375</text>
<text x="1932.62" y="644.73" font-size="20.8" text-anchor="middle">24</text>
<text x="1976.28" y="644.73" font-size="20.8" text-anchor="middle">35</text>
<text x="2019.93" y="644.73" font-size="20.8" text-anchor="middle">30</text>
<text x="2063.58" y="644.73" font-size="20.8" text-anchor="middle">20</text>
<text x="1758.03" y="688.38" font-size="20.8" text-anchor="middle">27</text>
<text x="1801.68" y="688.38" font-size="20.8" text-anchor="middle">22</text>
<text x="1845.33" y="688.38" font-size="20.8" text-anchor="middle">20</text>
<text x="1888.98" y="688.38" font-size="20.8" text-anchor="middle">399</text>
<text x="1932.62" y="688.38" font-size="20.8" text-anchor="middle">38</text>
<text x="1976.28" y="688.38" font-size="20.8" text-anchor="middle">33</text>
<text x="2019.93" y="688.38" font-size="20.8" text-anchor="middle">12</text>
<text x="2063.58" y="688.38" font-size="20.8" text-anchor="middle">18</text>
<text x="1714.38" y="732.02" font-size="20.8" text-anchor="middle">30</text>
<text x="1758.03" y="732.02" font-size="20.8" text-anchor="middle">18</text>
<text x="1801.68" y="732.02" font-size="20.8" text-anchor="middle">25</text>
<text x="1845.33" y="732.02" font-size="20.8" text-anchor="middle">34</text>
<text x="1888.98" y="732.02" font-size="20.8" text-anchor="middle">442</text>
<text x="1932.62" y="732.02" font-size="20.8" text-anchor="middle">30</text>
<text x="1976.28" y="732.02" font-size="20.8" text-anchor="middle">15</text>
<text x="2019.93" y="732.02" font-size="20.8" text-anchor="middle">39</text>
<text x="2063.58" y="732.02" font-size="20.8" text-anchor="middle">30</text>
<text x="1714.38" y="775.67" font-size="20.8" text-anchor="middle">25</text>
<text x="1758.03" y="775.67" font-size="20.8" text-anchor="middle">22</text>
<text x="1801.68" y="775.67" font-size="20.8" text-anchor="middle">41</text>
<text x="1845.33" y="775.67" font-size="20.8" text-anchor="middle">37</text>
<text x="1888.98" y="775.67" font-size="20.8" text-anchor="middle">452</text>
<text x="1932.62" y="775.67" font-size="20.8" text-anchor="middle">25</text>
<text x="1976.28" y="775.67" font-size="20.8" text-anchor="middle">21</text>
<text x="2019.93" y="775.67" font-size="20.8" text-anchor="middle">21</text>
<text x="2063.58" y="775.67" font-size="20.8" text-anchor="middle">18</text>
<text x="1670.73" y="819.32" font-size="20.8" text-anchor="middle">214</text>
<text x="1714.38" y="819.32" font-size="20.8" text-anchor="middle">276</text>
<text x="1758.03" y="819.32" font-size="20.8" text-anchor="middle">371</text>
<text x="1801.68" y="819.32" font-size="20.8" text-anchor="middle">485</text>
<text x="1845.33" y="819.32" font-size="20.8" text-anchor="middle">564</text>
<text x="1888.98" y="819.32" font-size="20.8" text-anchor="middle">1203</text>
<text x="1932.62" y="819.32" font-size="20.8" text-anchor="middle">761</text>
<text x="1976.28" y="819.32" font-size="20.8" text-anchor="middle">824</text>
<text x="2019.93" y="819.32" font-size="20.8" text-anchor="middle">850</text>
<text x="2063.58" y="819.32" font-size="20.8" text-anchor="middle">948</text>
<text x="1670.73" y="862.97" font-size="20.8" text-anchor="middle">21</text>
<text x="1714.38" y="862.97" font-size="20.8" text-anchor="middle">23</text>
<text x="1758.03" y="862.97" font-size="20.8" text-anchor="middle">20</text>
<text x="1801.68" y="862.97" font-size="20.8" text-anchor="middle">25</text>
<text x="1845.33" y="862.97" font-size="20.8" text-anchor="middle">18</text>
<text x="1888.98" y="862.97" font-size="20.8" text-anchor="middle">616</text>
<text x="1932.62" y="862.97" font-size="20.8" text-anchor="middle">25</text>
<text x="1976.28" y="862.97" font-size="20.8" text-anchor="middle">25</text>
<text x="2019.93" y="862.97" font-size="20.8" text-anchor="middle">28</text>
<text x="2063.58" y="862.97" font-size="20.8" text-anchor="middle">8</text>
<text x="1670.73" y="906.62" font-size="20.8" text-anchor="middle">8</text>
<text x="1714.38" y="906.62" font-size="20.8" text-anchor="middle">19</text>
<text x="1758.03" y="906.62" font-size="20.8" text-anchor="middle">31</text>
<text x="1801.68" y="906.62" font-size="20.8" text-anchor="middle">21</text>
<text x="1845.33" y="906.62" font-size="20.8" text-anchor="middle">33</text>
<text x="1888.98" y="906.62" font-size="20.8" text-anchor="middle">719</text>
<text x="1932.62" y="906.62" font-size="20.8" text-anchor="middle">14</text>
<text x="1976.28" y="906.62" font-size="20.8" text-anchor="middle">13</text>
<text x="2019.93" y="906.62" font-size="20.8" text-anchor="middle">16</text>
<text x="1670.73" y="950.27" font-size="20.8" text-anchor="middle">22</text>
<text x="1714.38" y="950.27" font-size="20.8" text-anchor="middle">24</text>
<text x="1758.03" y="950.27" font-size="20.8" text-anchor="middle">31</text>
<text x="1801.68" y="950.27" font-size="20.8" text-anchor="middle">29</text>
<text x="1845.33" y="950.27" font-size="20.8" text-anchor="middle">15</text>
<text x="1888.98" y="950.27" font-size="20.8" text-anchor="middle">840</text>
<text x="1932.62" y="950.27" font-size="20.8" text-anchor="middle">29</text>
<text x="1976.28" y="950.27" font-size="20.8" text-anchor="middle">20</text>
<text x="1670.73" y="993.92" font-size="20.8" text-anchor="middle">23</text>
<text x="1714.38" y="993.92" font-size="20.8" text-anchor="middle">18</text>
<text x="1758.03" y="993.92" font-size="20.8" text-anchor="middle">11</text>
<text x="1801.68" y="993.92" font-size="20.8" text-anchor="middle">35</text>
<text x="1845.33" y="993.92" font-size="20.8" text-anchor="middle">26</text>
<text x="1888.98" y="993.92" font-size="20.8" text-anchor="middle">924</text>
<text x="1932.62" y="993.92" font-size="20.8" text-anchor="middle">30</text>
<text x="1670.73" y="1037.58" font-size="20.8" text-anchor="middle">28</text>
<text x="1714.38" y="1037.58" font-size="20.8" text-anchor="middle">10</text>
<text x="1758.03" y="1037.58" font-size="20.8" text-anchor="middle">2</text>
<text x="1801.68" y="1037.58" font-size="20.8" text-anchor="middle">28</text>
<text x="1845.33" y="1037.58" font-size="20.8" text-anchor="middle">42</text>
<text x="1888.98" y="1037.58" font-size="20.8" text-anchor="middle">896</text>
<text x="1629.40" y="648.33" font-size="25.2" text-anchor="middle" fill="#000">1</text>
<text x="1629.40" y="691.98" font-size="25.2" text-anchor="middle" fill="#000">2</text>
<text x="1629.40" y="735.62" font-size="25.2" text-anchor="middle" fill="#000">3</text>
<text x="1629.40" y="779.27" font-size="25.2" text-anchor="middle" fill="#000">4</text>
<text x="1629.40" y="822.92" font-size="25.2" text-anchor="middle" fill="#000">5</text>
<text x="1629.40" y="866.57" font-size="25.2" text-anchor="middle" fill="#000">6</text>
<text x="1629.40" y="910.23" font-size="25.2" text-anchor="middle" fill="#000">7</text>
<text x="1629.40" y="953.88" font-size="25.2" text-anchor="middle" fill="#000">8</text>
<text x="1629.40" y="997.52" font-size="25.2" text-anchor="middle" fill="#000">9</text>
<text x="1629.40" y="1041.18" font-size="25.2" text-anchor="middle" fill="#000">10</text>
<text x="1661.52" y="1086.20" font-size="25.2" text-anchor="start" fill="#000">0.1</text>
<text x="1704.52" y="1086.20" font-size="25.2" text-anchor="start" fill="#000">0.2</text>
<text x="1747.52" y="1086.20" font-size="25.2" text-anchor="start" fill="#000">0.3</text>
<text x="1790.52" y="1086.20" font-size="25.2" text-anchor="start" fill="#000">0.4</text>
<text x="1833.52" y="1086.20" font-size="25.2" text-anchor="start" fill="#000">0.5</text>
<text x="1876.52" y="1086.20" font-size="25.2" text-anchor="start" fill="#000">0.6</text>
<text x="1919.52" y="1086.20" font-size="25.2" text-anchor="start" fill="#000">0.7</text>
<text x="1962.52" y="1086.20" font-size="25.2" text-anchor="start" fill="#000">0.8</text>
<text x="2005.52" y="1086.20" font-size="25.2" text-anchor="start" fill="#000">0.9</text>
<text x="2063.70" y="1086.20" font-size="25.2" text-anchor="start" fill="#000">1</text>
<text x="1868.15" y="1114.80" font-size="28.2" text-anchor="middle" fill="#000">Probability</text>
<text x="1603.90" y="835.35" font-size="28.2" text-anchor="middle" fill="#000" transform="rotate(-90 1603.90 835.35)">Magnitude</text>
<text x="1867.15" y="607.20" font-size="28.2" text-anchor="middle" fill="#000">Monkey D</text>
</g>
<text x="536.40" y="27.60" font-size="28.2" text-anchor="middle" fill="#000">Experiment 1 chosen stimuli</text>
<text x="1585.00" y="27.60" font-size="28.2" text-anchor="middle" fill="#000">Experiment 2 presented stimuli (response trials)</text>
<text x="0.00" y="27.80" font-size="32" text-anchor="start" font-weight="bold" fill="#000">a</text>
<text x="1055.80" y="27.80" font-size="31.5" text-anchor="start" font-weight="bold" fill="#000">b</text>
<rect x="277.80" y="1734.20" width="14.27" height="1.80" fill="#7d7b9b" stroke="#16162a" stroke-width="1.4"/>
<rect x="292.07" y="1729.06" width="14.27" height="6.94" fill="#7d7b9b" stroke="#16162a" stroke-width="1.4"/>
<rect x="306.34" y="1706.43" width="14.27" height="29.57" fill="#dea080" stroke="#16162a" stroke-width="1.4"/>
<rect x="306.34" y="1714.14" width="14.27" height="21.86" fill="#7d7b9b" stroke="#16162a" stroke-width="1.4"/>
<rect x="320.60" y="1657.57" width="14.27" height="78.43" fill="#87a3d4" stroke="#16162a" stroke-width="1.4"/>
<rect x="320.60" y="1661.43" width="14.27" height="74.57" fill="#7d7b9b" stroke="#16162a" stroke-width="1.4"/>
<rect x="334.87" y="1430.01" width="14.27" height="305.99" fill="#dea080" stroke="#16162a" stroke-width="1.4"/>
<rect x="334.87" y="1512.29" width="14.27" height="223.71" fill="#7d7b9b" stroke="#16162a" stroke-width="1.4"/>
<rect x="349.14" y="1230.73" width="14.27" height="505.27" fill="#dea080" stroke="#16162a" stroke-width="1.4"/>
<rect x="349.14" y="1296.30" width="14.27" height="439.70" fill="#7d7b9b" stroke="#16162a" stroke-width="1.4"/>
<rect x="363.41" y="1268.01" width="14.27" height="467.99" fill="#87a3d4" stroke="#16162a" stroke-width="1.4"/>
<rect x="363.41" y="1286.01" width="14.27" height="449.99" fill="#7d7b9b" stroke="#16162a" stroke-width="1.4"/>
<rect x="377.68" y="1259.01" width="14.27" height="476.99" fill="#dea080" stroke="#16162a" stroke-width="1.4"/>
<rect x="377.68" y="1286.78" width="14.27" height="449.22" fill="#7d7b9b" stroke="#16162a" stroke-width="1.4"/>
<rect x="391.94" y="1286.01" width="14.27" height="449.99" fill="#7d7b9b" stroke="#16162a" stroke-width="1.4"/>
<rect x="406.21" y="1376.78" width="14.27" height="359.22" fill="#dea080" stroke="#16162a" stroke-width="1.4"/>
<rect x="406.21" y="1397.10" width="14.27" height="338.90" fill="#7d7b9b" stroke="#16162a" stroke-width="1.4"/>
<rect x="420.48" y="1459.58" width="14.27" height="276.42" fill="#87a3d4" stroke="#16162a" stroke-width="1.4"/>
<rect x="420.48" y="1480.92" width="14.27" height="255.08" fill="#7d7b9b" stroke="#16162a" stroke-width="1.4"/>
<rect x="434.75" y="1503.81" width="14.27" height="232.19" fill="#87a3d4" stroke="#16162a" stroke-width="1.4"/>
<rect x="434.75" y="1551.38" width="14.27" height="184.62" fill="#7d7b9b" stroke="#16162a" stroke-width="1.4"/>
<rect x="449.02" y="1575.80" width="14.27" height="160.20" fill="#87a3d4" stroke="#16162a" stroke-width="1.4"/>
<rect x="449.02" y="1593.29" width="14.27" height="142.71" fill="#7d7b9b" stroke="#16162a" stroke-width="1.4"/>
<rect x="463.28" y="1586.86" width="14.27" height="149.14" fill="#87a3d4" stroke="#16162a" stroke-width="1.4"/>
<rect x="463.28" y="1623.12" width="14.27" height="112.88" fill="#7d7b9b" stroke="#16162a" stroke-width="1.4"/>
<rect x="477.55" y="1618.23" width="14.27" height="117.77" fill="#87a3d4" stroke="#16162a" stroke-width="1.4"/>
<rect x="477.55" y="1644.20" width="14.27" height="91.80" fill="#7d7b9b" stroke="#16162a" stroke-width="1.4"/>
<rect x="491.82" y="1655.00" width="14.27" height="81.00" fill="#87a3d4" stroke="#16162a" stroke-width="1.4"/>
<rect x="491.82" y="1676.09" width="14.27" height="59.91" fill="#7d7b9b" stroke="#16162a" stroke-width="1.4"/>
<rect x="506.09" y="1668.37" width="14.27" height="67.63" fill="#87a3d4" stroke="#16162a" stroke-width="1.4"/>
<rect x="506.09" y="1678.14" width="14.27" height="57.86" fill="#7d7b9b" stroke="#16162a" stroke-width="1.4"/>
<rect x="520.36" y="1689.72" width="14.27" height="46.28" fill="#87a3d4" stroke="#16162a" stroke-width="1.4"/>
<rect x="520.36" y="1700.00" width="14.27" height="36.00" fill="#7d7b9b" stroke="#16162a" stroke-width="1.4"/>
<rect x="534.62" y="1709.00" width="14.27" height="27.00" fill="#dea080" stroke="#16162a" stroke-width="1.4"/>
<rect x="534.62" y="1709.52" width="14.27" height="26.48" fill="#7d7b9b" stroke="#16162a" stroke-width="1.4"/>
<rect x="548.89" y="1710.29" width="14.27" height="25.71" fill="#87a3d4" stroke="#16162a" stroke-width="1.4"/>
<rect x="548.89" y="1714.14" width="14.27" height="21.86" fill="#7d7b9b" stroke="#16162a" stroke-width="1.4"/>
<rect x="563.16" y="1709.00" width="14.27" height="27.00" fill="#87a3d4" stroke="#16162a" stroke-width="1.4"/>
<rect x="563.16" y="1714.14" width="14.27" height="21.86" fill="#7d7b9b" stroke="#16162a" stroke-width="1.4"/>
<rect x="577.43" y="1716.71" width="14.27" height="19.29" fill="#dea080" stroke="#16162a" stroke-width="1.4"/>
<rect x="577.43" y="1723.91" width="14.27" height="12.09" fill="#7d7b9b" stroke="#16162a" stroke-width="1.4"/>
<rect x="591.70" y="1721.34" width="14.27" height="14.66" fill="#dea080" stroke="#16162a" stroke-width="1.4"/>
<rect x="591.70" y="1727.77" width="14.27" height="8.23" fill="#7d7b9b" stroke="#16162a" stroke-width="1.4"/>
<rect x="605.96" y="1723.14" width="14.27" height="12.86" fill="#87a3d4" stroke="#16162a" stroke-width="1.4"/>
<rect x="605.96" y="1725.71" width="14.27" height="10.29" fill="#7d7b9b" stroke="#16162a" stroke-width="1.4"/>
<rect x="620.23" y="1719.16" width="14.27" height="16.84" fill="#87a3d4" stroke="#16162a" stroke-width="1.4"/>
<rect x="620.23" y="1726.82" width="14.27" height="9.18" fill="#7d7b9b" stroke="#16162a" stroke-width="1.4"/>
<rect x="634.50" y="1727.25" width="14.27" height="8.75" fill="#7d7b9b" stroke="#16162a" stroke-width="1.4"/>
<rect x="648.77" y="1716.32" width="14.27" height="19.68" fill="#dea080" stroke="#16162a" stroke-width="1.4"/>
<rect x="648.77" y="1725.51" width="14.27" height="10.49" fill="#7d7b9b" stroke="#16162a" stroke-width="1.4"/>
<rect x="663.04" y="1721.13" width="14.27" height="14.87" fill="#7d7b9b" stroke="#16162a" stroke-width="1.4"/>
<rect x="677.30" y="1725.51" width="14.27" height="10.49" fill="#dea080" stroke="#16162a" stroke-width="1.4"/>
<rect x="677.30" y="1728.35" width="14.27" height="7.65" fill="#7d7b9b" stroke="#16162a" stroke-width="1.4"/>
<rect x="691.57" y="1724.63" width="14.27" height="11.37" fill="#dea080" stroke="#16162a" stroke-width="1.4"/>
<rect x="691.57" y="1725.07" width="14.27" height="10.93" fill="#7d7b9b" stroke="#16162a" stroke-width="1.4"/>
<rect x="705.84" y="1722.23" width="14.27" height="13.77" fill="#dea080" stroke="#16162a" stroke-width="1.4"/>
<rect x="705.84" y="1728.35" width="14.27" height="7.65" fill="#7d7b9b" stroke="#16162a" stroke-width="1.4"/>
<rect x="720.11" y="1722.23" width="14.27" height="13.77" fill="#87a3d4" stroke="#16162a" stroke-width="1.4"/>
<rect x="720.11" y="1729.44" width="14.27" height="6.56" fill="#7d7b9b" stroke="#16162a" stroke-width="1.4"/>
<rect x="734.38" y="1724.41" width="14.27" height="11.59" fill="#dea080" stroke="#16162a" stroke-width="1.4"/>
<rect x="734.38" y="1727.69" width="14.27" height="8.31" fill="#7d7b9b" stroke="#16162a" stroke-width="1.4"/>
<rect x="748.64" y="1723.54" width="14.27" height="12.46" fill="#dea080" stroke="#16162a" stroke-width="1.4"/>
<rect x="748.64" y="1726.82" width="14.27" height="9.18" fill="#7d7b9b" stroke="#16162a" stroke-width="1.4"/>
<rect x="762.91" y="1726.82" width="14.27" height="9.18" fill="#7d7b9b" stroke="#16162a" stroke-width="1.4"/>
<rect x="777.18" y="1717.85" width="14.27" height="18.15" fill="#87a3d4" stroke="#16162a" stroke-width="1.4"/>
<rect x="777.18" y="1722.44" width="14.27" height="13.56" fill="#7d7b9b" stroke="#16162a" stroke-width="1.4"/>
<rect x="791.45" y="1723.54" width="14.27" height="12.46" fill="#dea080" stroke="#16162a" stroke-width="1.4"/>
<rect x="791.45" y="1725.07" width="14.27" height="10.93" fill="#7d7b9b" stroke="#16162a" stroke-width="1.4"/>
<rect x="805.72" y="1723.54" width="14.27" height="12.46" fill="#7d7b9b" stroke="#16162a" stroke-width="1.4"/>
<rect x="819.98" y="1720.91" width="14.27" height="15.09" fill="#dea080" stroke="#16162a" stroke-width="1.4"/>
<rect x="819.98" y="1722.44" width="14.27" height="13.56" fill="#7d7b9b" stroke="#16162a" stroke-width="1.4"/>
<rect x="834.25" y="1720.04" width="14.27" height="15.96" fill="#dea080" stroke="#16162a" stroke-width="1.4"/>
<rect x="834.25" y="1721.13" width="14.27" height="14.87" fill="#7d7b9b" stroke="#16162a" stroke-width="1.4"/>
<rect x="848.52" y="1720.91" width="14.27" height="15.09" fill="#87a3d4" stroke="#16162a" stroke-width="1.4"/>
<rect x="848.52" y="1722.44" width="14.27" height="13.56" fill="#7d7b9b" stroke="#16162a" stroke-width="1.4"/>
<rect x="862.79" y="1720.04" width="14.27" height="15.96" fill="#dea080" stroke="#16162a" stroke-width="1.4"/>
<rect x="862.79" y="1723.97" width="14.27" height="12.03" fill="#7d7b9b" stroke="#16162a" stroke-width="1.4"/>
<rect x="877.06" y="1714.35" width="14.27" height="21.65" fill="#87a3d4" stroke="#16162a" stroke-width="1.4"/>
<rect x="877.06" y="1720.04" width="14.27" height="15.96" fill="#7d7b9b" stroke="#16162a" stroke-width="1.4"/>
<rect x="891.32" y="1716.98" width="14.27" height="19.02" fill="#87a3d4" stroke="#16162a" stroke-width="1.4"/>
<rect x="891.32" y="1722.88" width="14.27" height="13.12" fill="#7d7b9b" stroke="#16162a" stroke-width="1.4"/>
<rect x="905.59" y="1721.13" width="14.27" height="14.87" fill="#7d7b9b" stroke="#16162a" stroke-width="1.4"/>
<rect x="919.86" y="1717.85" width="14.27" height="18.15" fill="#dea080" stroke="#16162a" stroke-width="1.4"/>
<rect x="919.86" y="1723.54" width="14.27" height="12.46" fill="#7d7b9b" stroke="#16162a" stroke-width="1.4"/>
<rect x="934.13" y="1722.44" width="14.27" height="13.56" fill="#dea080" stroke="#16162a" stroke-width="1.4"/>
<rect x="934.13" y="1729.44" width="14.27" height="6.56" fill="#7d7b9b" stroke="#16162a" stroke-width="1.4"/>
<rect x="948.40" y="1713.26" width="14.27" height="22.74" fill="#dea080" stroke="#16162a" stroke-width="1.4"/>
<rect x="948.40" y="1718.51" width="14.27" height="17.49" fill="#7d7b9b" stroke="#16162a" stroke-width="1.4"/>
<rect x="962.66" y="1712.17" width="14.27" height="23.83" fill="#87a3d4" stroke="#16162a" stroke-width="1.4"/>
<rect x="962.66" y="1719.16" width="14.27" height="16.84" fill="#7d7b9b" stroke="#16162a" stroke-width="1.4"/>
<rect x="976.93" y="1716.98" width="14.27" height="19.02" fill="#dea080" stroke="#16162a" stroke-width="1.4"/>
<rect x="976.93" y="1720.04" width="14.27" height="15.96" fill="#7d7b9b" stroke="#16162a" stroke-width="1.4"/>
<line x1="277.80" y1="1220.50" x2="277.80" y2="1737.00" stroke="#000" stroke-width="1.8"/>
<line x1="276.80" y1="1736.00" x2="991.20" y2="1736.00" stroke="#000" stroke-width="1.8"/>
<text x="275.40" y="1772.50" font-size="28.2" text-anchor="middle" fill="#000">0.4</text>
<text x="418.08" y="1772.50" font-size="28.2" text-anchor="middle" fill="#000">1.1</text>
<text x="560.76" y="1772.50" font-size="28.2" text-anchor="middle" fill="#000">3.0</text>
<text x="703.44" y="1772.50" font-size="28.2" text-anchor="middle" fill="#000">8.1</text>
<text x="846.12" y="1772.50" font-size="28.2" text-anchor="middle" fill="#000">22</text>
<text x="988.80" y="1772.50" font-size="28.2" text-anchor="middle" fill="#000">60</text>
<text x="662.70" y="1806.80" font-size="28.2" text-anchor="middle" fill="#000">Response time (s)</text>
<text x="634.60" y="1195.80" font-size="28.2" text-anchor="middle" fill="#000">Response time distribution</text>
<text x="258.50" y="1461.00" font-size="28.2" text-anchor="middle" fill="#000" transform="rotate(-90 258.50 1461.00)">Frequency</text>
<text x="224.00" y="1196.60" font-size="32.5" text-anchor="start" font-weight="bold" fill="#000">c</text>
<rect x="792.1" y="1250.5" width="181.7" height="66" fill="#fff" stroke="#000" stroke-width="1.5"/>
<rect x="801.6" y="1261.8" width="52.8" height="15.6" fill="#dea080" stroke="#b88262" stroke-width="1.2"/>
<rect x="801.6" y="1290.8" width="52.8" height="15.6" fill="#87a3d4" stroke="#6a7fb2" stroke-width="1.2"/>
<text x="862.00" y="1278.40" font-size="28.2" text-anchor="start" fill="#000">Familiar</text>
<text x="862.00" y="1306.00" font-size="28.2" text-anchor="start" fill="#000">Novel</text>
<line x1="1186.20" y1="1222.90" x2="1186.20" y2="1738.80" stroke="#000" stroke-width="1.8"/>
<line x1="1185.30" y1="1737.90" x2="1514.00" y2="1737.90" stroke="#000" stroke-width="1.8"/>
<line x1="1186.20" y1="1737.90" x2="1193.20" y2="1737.90" stroke="#000" stroke-width="1.6"/>
<text x="1177.70" y="1747.90" font-size="28.2" text-anchor="end" fill="#000">0</text>
<line x1="1186.20" y1="1634.90" x2="1193.20" y2="1634.90" stroke="#000" stroke-width="1.6"/>
<text x="1177.70" y="1644.90" font-size="28.2" text-anchor="end" fill="#000">2</text>
<line x1="1186.20" y1="1531.90" x2="1193.20" y2="1531.90" stroke="#000" stroke-width="1.6"/>
<text x="1177.70" y="1541.90" font-size="28.2" text-anchor="end" fill="#000">4</text>
<line x1="1186.20" y1="1428.90" x2="1193.20" y2="1428.90" stroke="#000" stroke-width="1.6"/>
<text x="1177.70" y="1438.90" font-size="28.2" text-anchor="end" fill="#000">6</text>
<line x1="1186.20" y1="1325.90" x2="1193.20" y2="1325.90" stroke="#000" stroke-width="1.6"/>
<text x="1177.70" y="1335.90" font-size="28.2" text-anchor="end" fill="#000">8</text>
<line x1="1186.20" y1="1222.90" x2="1193.20" y2="1222.90" stroke="#000" stroke-width="1.6"/>
<text x="1177.70" y="1232.90" font-size="28.2" text-anchor="end" fill="#000">10</text>
<line x1="1247.40" y1="1737.90" x2="1247.40" y2="1730.90" stroke="#000" stroke-width="1.6"/>
<line x1="1451.80" y1="1737.90" x2="1451.80" y2="1730.90" stroke="#000" stroke-width="1.6"/>
<text x="1249.20" y="1768.00" font-size="28.2" text-anchor="middle" fill="#000">Familiar</text>
<text x="1452.80" y="1768.00" font-size="28.2" text-anchor="middle" fill="#000">Novel</text>
<text x="1355.00" y="1799.00" font-size="28.2" text-anchor="middle" fill="#000">Condition</text>
<line x1="1247.40" y1="1556.62" x2="1451.80" y2="1522.63" stroke="#000" stroke-width="2.6"/>
<path d="M1247.40,1545.35L1257.15,1562.25L1237.65,1562.25Z" stroke="#000" stroke-width="3.8" fill="none" stroke-linejoin="miter" stroke-miterlimit="10"/>
<path d="M1451.80,1511.36L1461.55,1528.26L1442.05,1528.26Z" stroke="#000" stroke-width="3.8" fill="none" stroke-linejoin="miter" stroke-miterlimit="10"/>
<line x1="1247.40" y1="1467.53" x2="1451.80" y2="1521.09" stroke="#000" stroke-width="2.6" stroke-dasharray="3.5 12.5"/>
<path d="M1247.40,1456.26L1257.15,1473.16L1237.65,1473.16Z" stroke="#000" stroke-width="3.8" fill="none" stroke-linejoin="miter" stroke-miterlimit="10"/>
<path d="M1451.80,1509.82L1461.55,1526.72L1442.05,1526.72Z" stroke="#000" stroke-width="3.8" fill="none" stroke-linejoin="miter" stroke-miterlimit="10"/>
<line x1="1247.40" y1="1527.27" x2="1451.80" y2="1493.28" stroke="#000" stroke-width="2.6" stroke-dasharray="23 13 3.5 13"/>
<path d="M1247.40,1516.00L1257.15,1532.90L1237.65,1532.90Z" stroke="#000" stroke-width="3.8" fill="none" stroke-linejoin="miter" stroke-miterlimit="10"/>
<path d="M1451.80,1482.01L1461.55,1498.91L1442.05,1498.91Z" stroke="#000" stroke-width="3.8" fill="none" stroke-linejoin="miter" stroke-miterlimit="10"/>
<line x1="1247.40" y1="1453.11" x2="1451.80" y2="1374.31" stroke="#f2c20f" stroke-width="2.6"/>
<path d="M1238.60,1453.11L1256.20,1453.11M1247.40,1444.31L1247.40,1461.90" stroke="#f2c20f" stroke-width="3.8" fill="none"/>
<path d="M1443.00,1374.31L1460.60,1374.31M1451.80,1365.51L1451.80,1383.11" stroke="#f2c20f" stroke-width="3.8" fill="none"/>
<line x1="1247.40" y1="1371.22" x2="1451.80" y2="1456.20" stroke="#f2c20f" stroke-width="2.6" stroke-dasharray="3.5 12.5"/>
<path d="M1238.60,1371.22L1256.20,1371.22M1247.40,1362.42L1247.40,1380.02" stroke="#f2c20f" stroke-width="3.8" fill="none"/>
<path d="M1443.00,1456.20L1460.60,1456.20M1451.80,1447.40L1451.80,1465.00" stroke="#f2c20f" stroke-width="3.8" fill="none"/>
<line x1="1247.40" y1="1429.41" x2="1451.80" y2="1457.23" stroke="#f2c20f" stroke-width="2.6" stroke-dasharray="23 13 3.5 13"/>
<path d="M1238.60,1429.41L1256.20,1429.41M1247.40,1420.62L1247.40,1438.21" stroke="#f2c20f" stroke-width="3.8" fill="none"/>
<path d="M1443.00,1457.23L1460.60,1457.23M1451.80,1448.43L1451.80,1466.03" stroke="#f2c20f" stroke-width="3.8" fill="none"/>
<line x1="1247.40" y1="1683.83" x2="1451.80" y2="1687.95" stroke="#0606dc" stroke-width="2.6"/>
<circle cx="1247.40" cy="1683.83" r="8.90" fill="none" stroke="#0606dc" stroke-width="3.8"/>
<circle cx="1451.80" cy="1687.95" r="8.90" fill="none" stroke="#0606dc" stroke-width="3.8"/>
<line x1="1247.40" y1="1678.68" x2="1451.80" y2="1678.16" stroke="#0606dc" stroke-width="2.6" stroke-dasharray="3.5 12.5"/>
<circle cx="1247.40" cy="1678.68" r="8.90" fill="none" stroke="#0606dc" stroke-width="3.8"/>
<circle cx="1451.80" cy="1678.16" r="8.90" fill="none" stroke="#0606dc" stroke-width="3.8"/>
<line x1="1247.40" y1="1665.29" x2="1451.80" y2="1664.26" stroke="#0606dc" stroke-width="2.6" stroke-dasharray="23 13 3.5 13"/>
<circle cx="1247.40" cy="1665.29" r="8.90" fill="none" stroke="#0606dc" stroke-width="3.8"/>
<circle cx="1451.80" cy="1664.26" r="8.90" fill="none" stroke="#0606dc" stroke-width="3.8"/>
<line x1="1247.40" y1="1700.82" x2="1451.80" y2="1696.70" stroke="#e41a22" stroke-width="2.6"/>
<path d="M1238.80,1692.22L1256.00,1709.42M1238.80,1709.42L1256.00,1692.22" stroke="#e41a22" stroke-width="3.8" fill="none"/>
<path d="M1443.20,1688.10L1460.40,1705.30M1443.20,1705.30L1460.40,1688.10" stroke="#e41a22" stroke-width="3.8" fill="none"/>
<line x1="1247.40" y1="1696.19" x2="1451.80" y2="1696.19" stroke="#e41a22" stroke-width="2.6" stroke-dasharray="3.5 12.5"/>
<path d="M1238.80,1687.59L1256.00,1704.79M1238.80,1704.79L1256.00,1687.59" stroke="#e41a22" stroke-width="3.8" fill="none"/>
<path d="M1443.20,1687.59L1460.40,1704.79M1443.20,1704.79L1460.40,1687.59" stroke="#e41a22" stroke-width="3.8" fill="none"/>
<line x1="1247.40" y1="1688.98" x2="1451.80" y2="1688.98" stroke="#e41a22" stroke-width="2.6" stroke-dasharray="23 13 3.5 13"/>
<path d="M1238.80,1680.38L1256.00,1697.58M1238.80,1697.58L1256.00,1680.38" stroke="#e41a22" stroke-width="3.8" fill="none"/>
<path d="M1443.20,1680.38L1460.40,1697.58M1443.20,1697.58L1460.40,1680.38" stroke="#e41a22" stroke-width="3.8" fill="none"/>
<line x1="1598.10" y1="1222.90" x2="1598.10" y2="1738.80" stroke="#000" stroke-width="1.8"/>
<line x1="1597.20" y1="1737.90" x2="1925.30" y2="1737.90" stroke="#000" stroke-width="1.8"/>
<line x1="1598.10" y1="1737.90" x2="1605.10" y2="1737.90" stroke="#000" stroke-width="1.6"/>
<text x="1589.60" y="1747.90" font-size="28.2" text-anchor="end" fill="#000">0</text>
<line x1="1598.10" y1="1609.15" x2="1605.10" y2="1609.15" stroke="#000" stroke-width="1.6"/>
<text x="1589.60" y="1619.15" font-size="28.2" text-anchor="end" fill="#000">0.5</text>
<line x1="1598.10" y1="1480.40" x2="1605.10" y2="1480.40" stroke="#000" stroke-width="1.6"/>
<text x="1589.60" y="1490.40" font-size="28.2" text-anchor="end" fill="#000">1</text>
<line x1="1598.10" y1="1351.65" x2="1605.10" y2="1351.65" stroke="#000" stroke-width="1.6"/>
<text x="1589.60" y="1361.65" font-size="28.2" text-anchor="end" fill="#000">1.5</text>
<line x1="1598.10" y1="1222.90" x2="1605.10" y2="1222.90" stroke="#000" stroke-width="1.6"/>
<text x="1589.60" y="1232.90" font-size="28.2" text-anchor="end" fill="#000">2</text>
<line x1="1659.30" y1="1737.90" x2="1659.30" y2="1730.90" stroke="#000" stroke-width="1.6"/>
<line x1="1863.70" y1="1737.90" x2="1863.70" y2="1730.90" stroke="#000" stroke-width="1.6"/>
<text x="1664.30" y="1768.00" font-size="28.2" text-anchor="middle" fill="#000">Familiar</text>
<text x="1864.70" y="1768.00" font-size="28.2" text-anchor="middle" fill="#000">Novel</text>
<text x="1772.90" y="1799.00" font-size="28.2" text-anchor="middle" fill="#000">Condition</text>
<line x1="1659.30" y1="1478.86" x2="1863.70" y2="1433.54" stroke="#f2c20f" stroke-width="2.6"/>
<path d="M1650.50,1478.86L1668.10,1478.86M1659.30,1470.06L1659.30,1487.65" stroke="#f2c20f" stroke-width="3.8" fill="none"/>
<path d="M1854.90,1433.54L1872.50,1433.54M1863.70,1424.74L1863.70,1442.34" stroke="#f2c20f" stroke-width="3.8" fill="none"/>
<line x1="1659.30" y1="1413.45" x2="1863.70" y2="1408.30" stroke="#f2c20f" stroke-width="2.6" stroke-dasharray="3.5 12.5"/>
<path d="M1650.50,1413.45L1668.10,1413.45M1659.30,1404.65L1659.30,1422.25" stroke="#f2c20f" stroke-width="3.8" fill="none"/>
<path d="M1854.90,1408.30L1872.50,1408.30M1863.70,1399.50L1863.70,1417.10" stroke="#f2c20f" stroke-width="3.8" fill="none"/>
<line x1="1659.30" y1="1470.62" x2="1863.70" y2="1398.00" stroke="#f2c20f" stroke-width="2.6" stroke-dasharray="23 13 3.5 13"/>
<path d="M1650.50,1470.62L1668.10,1470.62M1659.30,1461.82L1659.30,1479.41" stroke="#f2c20f" stroke-width="3.8" fill="none"/>
<path d="M1854.90,1398.00L1872.50,1398.00M1863.70,1389.20L1863.70,1406.80" stroke="#f2c20f" stroke-width="3.8" fill="none"/>
<line x1="1659.30" y1="1413.45" x2="1863.70" y2="1432.51" stroke="#000" stroke-width="2.6"/>
<path d="M1659.30,1402.18L1669.05,1419.08L1649.55,1419.08Z" stroke="#000" stroke-width="3.8" fill="none" stroke-linejoin="miter" stroke-miterlimit="10"/>
<path d="M1863.70,1421.24L1873.45,1438.14L1853.95,1438.14Z" stroke="#000" stroke-width="3.8" fill="none" stroke-linejoin="miter" stroke-miterlimit="10"/>
<line x1="1659.30" y1="1370.19" x2="1863.70" y2="1407.53" stroke="#000" stroke-width="2.6" stroke-dasharray="3.5 12.5"/>
<path d="M1659.30,1358.92L1669.05,1375.82L1649.55,1375.82Z" stroke="#000" stroke-width="3.8" fill="none" stroke-linejoin="miter" stroke-miterlimit="10"/>
<path d="M1863.70,1396.26L1873.45,1413.16L1853.95,1413.16Z" stroke="#000" stroke-width="3.8" fill="none" stroke-linejoin="miter" stroke-miterlimit="10"/>
<line x1="1659.30" y1="1384.87" x2="1863.70" y2="1350.88" stroke="#000" stroke-width="2.6" stroke-dasharray="23 13 3.5 13"/>
<path d="M1659.30,1373.60L1669.05,1390.50L1649.55,1390.50Z" stroke="#000" stroke-width="3.8" fill="none" stroke-linejoin="miter" stroke-miterlimit="10"/>
<path d="M1863.70,1339.61L1873.45,1356.51L1853.95,1356.51Z" stroke="#000" stroke-width="3.8" fill="none" stroke-linejoin="miter" stroke-miterlimit="10"/>
<line x1="1659.30" y1="1534.48" x2="1863.70" y2="1535.25" stroke="#0606dc" stroke-width="2.6"/>
<circle cx="1659.30" cy="1534.48" r="8.90" fill="none" stroke="#0606dc" stroke-width="3.8"/>
<circle cx="1863.70" cy="1535.25" r="8.90" fill="none" stroke="#0606dc" stroke-width="3.8"/>
<line x1="1659.30" y1="1530.87" x2="1863.70" y2="1529.58" stroke="#0606dc" stroke-width="2.6" stroke-dasharray="3.5 12.5"/>
<circle cx="1659.30" cy="1530.87" r="8.90" fill="none" stroke="#0606dc" stroke-width="3.8"/>
<circle cx="1863.70" cy="1529.58" r="8.90" fill="none" stroke="#0606dc" stroke-width="3.8"/>
<line x1="1659.30" y1="1525.21" x2="1863.70" y2="1517.22" stroke="#0606dc" stroke-width="2.6" stroke-dasharray="23 13 3.5 13"/>
<circle cx="1659.30" cy="1525.21" r="8.90" fill="none" stroke="#0606dc" stroke-width="3.8"/>
<circle cx="1863.70" cy="1517.22" r="8.90" fill="none" stroke="#0606dc" stroke-width="3.8"/>
<line x1="1659.30" y1="1556.11" x2="1863.70" y2="1548.89" stroke="#e41a22" stroke-width="2.6"/>
<path d="M1650.70,1547.51L1667.90,1564.70M1650.70,1564.70L1667.90,1547.51" stroke="#e41a22" stroke-width="3.8" fill="none"/>
<path d="M1855.10,1540.30L1872.30,1557.49M1855.10,1557.49L1872.30,1540.30" stroke="#e41a22" stroke-width="3.8" fill="none"/>
<line x1="1659.30" y1="1547.61" x2="1863.70" y2="1538.08" stroke="#e41a22" stroke-width="2.6" stroke-dasharray="3.5 12.5"/>
<path d="M1650.70,1539.01L1667.90,1556.21M1650.70,1556.21L1667.90,1539.01" stroke="#e41a22" stroke-width="3.8" fill="none"/>
<path d="M1855.10,1529.48L1872.30,1546.68M1855.10,1546.68L1872.30,1529.48" stroke="#e41a22" stroke-width="3.8" fill="none"/>
<line x1="1659.30" y1="1530.87" x2="1863.70" y2="1526.75" stroke="#e41a22" stroke-width="2.6" stroke-dasharray="23 13 3.5 13"/>
<path d="M1650.70,1522.27L1667.90,1539.47M1650.70,1539.47L1667.90,1522.27" stroke="#e41a22" stroke-width="3.8" fill="none"/>
<path d="M1855.10,1518.15L1872.30,1535.35M1855.10,1535.35L1872.30,1518.15" stroke="#e41a22" stroke-width="3.8" fill="none"/>
<text x="1129.50" y="1197.00" font-size="32.5" text-anchor="start" font-weight="bold" fill="#000">d</text>
<text x="1273.70" y="1195.80" font-size="28.2" text-anchor="start" fill="#000">Response times by subject and condition</text>
<text x="1137.50" y="1460.00" font-size="28.2" text-anchor="middle" fill="#000" transform="rotate(-90 1137.50 1460.00)">Mean RT (s)</text>
<text x="1545.50" y="1462.00" font-size="28.2" text-anchor="middle" fill="#000" transform="rotate(-90 1545.50 1462.00)">Median RT (s)</text>
<rect x="1304.5" y="1223.2" width="202.4" height="130.2" fill="#fff" stroke="#000" stroke-width="1.5"/>
<circle cx="1335.20" cy="1243.10" r="8.90" fill="none" stroke="#0606dc" stroke-width="3.8"/>
<text x="1367.00" y="1250.90" font-size="28.2" text-anchor="start" fill="#000">Monkey A</text>
<path d="M1326.60,1264.40L1343.80,1281.60M1326.60,1281.60L1343.80,1264.40" stroke="#e41a22" stroke-width="3.8" fill="none"/>
<text x="1367.00" y="1282.77" font-size="28.2" text-anchor="start" fill="#000">Monkey B</text>
<path d="M1326.40,1303.00L1344.00,1303.00M1335.20,1294.20L1335.20,1311.80" stroke="#f2c20f" stroke-width="3.8" fill="none"/>
<text x="1367.00" y="1314.64" font-size="28.2" text-anchor="start" fill="#000">Monkey C</text>
<path d="M1335.20,1324.33L1344.95,1341.23L1325.45,1341.23Z" stroke="#000" stroke-width="3.8" fill="none" stroke-linejoin="miter" stroke-miterlimit="10"/>
<text x="1367.00" y="1346.51" font-size="28.2" text-anchor="start" fill="#000">Monkey D</text>
<rect x="1664.5" y="1218.7" width="272.7" height="99.7" fill="#fff" stroke="#000" stroke-width="1.5"/>
<line x1="1673.3" y1="1242.60" x2="1739" y2="1242.60" stroke="#000" stroke-width="2.6"/>
<text x="1748.70" y="1251.80" font-size="28.2" text-anchor="start" fill="#000">Consistent</text>
<line x1="1673.3" y1="1270.80" x2="1739" y2="1270.80" stroke="#000" stroke-width="2.6" stroke-dasharray="3.5 12.5"/>
<text x="1748.70" y="1280.00" font-size="28.2" text-anchor="start" fill="#000">1-dimensional</text>
<line x1="1673.3" y1="1296.70" x2="1739" y2="1296.70" stroke="#000" stroke-width="2.6" stroke-dasharray="23 13 3.5 13"/>
<text x="1748.70" y="1305.90" font-size="28.2" text-anchor="start" fill="#000">Inconsistent</text>
<line x1="279.80" y1="1909.20" x2="279.80" y2="2425.10" stroke="#000" stroke-width="1.8"/>
<line x1="278.90" y1="2424.20" x2="966.60" y2="2424.20" stroke="#000" stroke-width="1.8"/>
<text x="270.30" y="2434.20" font-size="28.2" text-anchor="end" fill="#000">0</text>
<line x1="279.80" y1="2321.20" x2="286.30" y2="2321.20" stroke="#000" stroke-width="1.6"/>
<text x="270.30" y="2331.20" font-size="28.2" text-anchor="end" fill="#000">0.2</text>
<line x1="279.80" y1="2218.20" x2="286.30" y2="2218.20" stroke="#000" stroke-width="1.6"/>
<text x="270.30" y="2228.20" font-size="28.2" text-anchor="end" fill="#000">0.4</text>
<line x1="279.80" y1="2115.20" x2="286.30" y2="2115.20" stroke="#000" stroke-width="1.6"/>
<text x="270.30" y="2125.20" font-size="28.2" text-anchor="end" fill="#000">0.6</text>
<line x1="279.80" y1="2012.20" x2="286.30" y2="2012.20" stroke="#000" stroke-width="1.6"/>
<text x="270.30" y="2022.20" font-size="28.2" text-anchor="end" fill="#000">0.8</text>
<line x1="279.80" y1="1909.20" x2="286.30" y2="1909.20" stroke="#000" stroke-width="1.6"/>
<text x="270.30" y="1919.20" font-size="28.2" text-anchor="end" fill="#000">1</text>
<line x1="333.60" y1="2424.20" x2="333.60" y2="2417.70" stroke="#000" stroke-width="1.6"/>
<text x="332.50" y="2454.60" font-size="28.2" text-anchor="middle" fill="#000">-4</text>
<line x1="472.20" y1="2424.20" x2="472.20" y2="2417.70" stroke="#000" stroke-width="1.6"/>
<text x="471.10" y="2454.60" font-size="28.2" text-anchor="middle" fill="#000">-2</text>
<line x1="610.80" y1="2424.20" x2="610.80" y2="2417.70" stroke="#000" stroke-width="1.6"/>
<text x="610.80" y="2454.60" font-size="28.2" text-anchor="middle" fill="#000">0</text>
<line x1="749.40" y1="2424.20" x2="749.40" y2="2417.70" stroke="#000" stroke-width="1.6"/>
<text x="749.40" y="2454.60" font-size="28.2" text-anchor="middle" fill="#000">2</text>
<line x1="888.00" y1="2424.20" x2="888.00" y2="2417.70" stroke="#000" stroke-width="1.6"/>
<text x="888.00" y="2454.60" font-size="28.2" text-anchor="middle" fill="#000">4</text>
<text x="622.40" y="2489.50" font-size="28.2" text-anchor="middle" fill="#000">Subjective value difference</text>
<text x="657.60" y="1886.20" font-size="28.2" text-anchor="middle" fill="#000">Subjective performance</text>
<text x="208.80" y="2147.50" font-size="28.2" text-anchor="middle" fill="#000" transform="rotate(-90 208.80 2147.50)">Proportion of choices</text>
<text x="197.00" y="1887.10" font-size="32.5" text-anchor="start" font-weight="bold" fill="#000">e</text>
<polyline points="279.80,2370.47 283.23,2369.36 286.67,2368.24 290.10,2367.09 293.54,2365.92 296.97,2364.74 300.40,2363.53 303.84,2362.30 307.27,2361.05 310.71,2359.77 314.14,2358.48 317.57,2357.16 321.01,2355.82 324.44,2354.46 327.88,2353.07 331.31,2351.67 334.74,2350.23 338.18,2348.78 341.61,2347.30 345.05,2345.80 348.48,2344.27 351.91,2342.72 355.35,2341.15 358.78,2339.55 362.22,2337.92 365.65,2336.27 369.08,2334.60 372.52,2332.90 375.95,2331.18 379.39,2329.43 382.82,2327.65 386.25,2325.85 389.69,2324.03 393.12,2322.18 396.56,2320.30 399.99,2318.40 403.42,2316.47 406.86,2314.52 410.29,2312.54 413.73,2310.53 417.16,2308.50 420.59,2306.44 424.03,2304.36 427.46,2302.25 430.90,2300.12 434.33,2297.96 437.76,2295.78 441.20,2293.57 444.63,2291.34 448.07,2289.08 451.50,2286.80 454.93,2284.49 458.37,2282.16 461.80,2279.80 465.24,2277.42 468.67,2275.02 472.10,2272.59 475.54,2270.15 478.97,2267.67 482.41,2265.18 485.84,2262.67 489.27,2260.13 492.71,2257.57 496.14,2254.99 499.58,2252.39 503.01,2249.78 506.44,2247.14 509.88,2244.48 513.31,2241.81 516.75,2239.12 520.18,2236.41 523.61,2233.68 527.05,2230.94 530.48,2228.18 533.92,2225.40 537.35,2222.62 540.78,2219.81 544.22,2217.00 547.65,2214.17 551.09,2211.33 554.52,2208.48 557.95,2205.62 561.39,2202.75 564.82,2199.87 568.26,2196.98 571.69,2194.08 575.12,2191.18 578.56,2188.27 581.99,2185.36 585.43,2182.44 588.86,2179.51 592.29,2176.58 595.73,2173.65 599.16,2170.72 602.60,2167.79 606.03,2164.85 609.46,2161.92 612.90,2158.99 616.33,2156.06 619.77,2153.13 623.20,2150.21 626.63,2147.29 630.07,2144.38 633.50,2141.47 636.94,2138.57 640.37,2135.67 643.80,2132.79 647.24,2129.91 650.67,2127.04 654.11,2124.18 657.54,2121.33 660.97,2118.50 664.41,2115.67 667.84,2112.86 671.28,2110.06 674.71,2107.28 678.14,2104.51 681.58,2101.75 685.01,2099.02 688.45,2096.29 691.88,2093.59 695.31,2090.90 698.75,2088.23 702.18,2085.58 705.62,2082.95 709.05,2080.33 712.48,2077.74 715.92,2075.17 719.35,2072.61 722.79,2070.08 726.22,2067.57 729.65,2065.09 733.09,2062.62 736.52,2060.18 739.96,2057.76 743.39,2055.36 746.82,2052.99 750.26,2050.64 753.69,2048.31 757.13,2046.01 760.56,2043.74 763.99,2041.48 767.43,2039.26 770.86,2037.05 774.30,2034.88 777.73,2032.73 781.16,2030.60 784.60,2028.50 788.03,2026.42 791.47,2024.37 794.90,2022.35 798.33,2020.35 801.77,2018.38 805.20,2016.43 808.64,2014.51 812.07,2012.61 815.50,2010.74 818.94,2008.90 822.37,2007.08 825.81,2005.29 829.24,2003.52 832.67,2001.77 836.11,2000.06 839.54,1998.36 842.98,1996.70 846.41,1995.06 849.84,1993.44 853.28,1991.84 856.71,1990.28 860.15,1988.73 863.58,1987.21 867.01,1985.72 870.45,1984.24 873.88,1982.79 877.32,1981.37 880.75,1979.97 884.18,1978.59 887.62,1977.23 891.05,1975.90 894.49,1974.59 897.92,1973.30 901.35,1972.03 904.79,1970.78 908.22,1969.56 911.66,1968.35 915.09,1967.17 918.52,1966.01 921.96,1964.87 925.39,1963.75 928.83,1962.65 932.26,1961.57 935.69,1960.50 939.13,1959.46 942.56,1958.44 946.00,1957.43 949.43,1956.44 952.86,1955.48 956.30,1954.53 959.73,1953.59 963.17,1952.68 966.60,1951.78" fill="none" stroke="#f2c20f" stroke-width="2.8" stroke-dasharray="39 25"/>
<polyline points="279.80,2420.18 283.23,2419.98 286.67,2419.76 290.10,2419.53 293.54,2419.29 296.97,2419.04 300.40,2418.78 303.84,2418.50 307.27,2418.21 310.71,2417.90 314.14,2417.58 317.57,2417.25 321.01,2416.89 324.44,2416.52 327.88,2416.13 331.31,2415.72 334.74,2415.29 338.18,2414.83 341.61,2414.36 345.05,2413.86 348.48,2413.34 351.91,2412.79 355.35,2412.21 358.78,2411.61 362.22,2410.97 365.65,2410.31 369.08,2409.61 372.52,2408.88 375.95,2408.11 379.39,2407.31 382.82,2406.46 386.25,2405.58 389.69,2404.65 393.12,2403.68 396.56,2402.67 399.99,2401.60 403.42,2400.49 406.86,2399.32 410.29,2398.10 413.73,2396.82 417.16,2395.48 420.59,2394.09 424.03,2392.62 427.46,2391.10 430.90,2389.50 434.33,2387.83 437.76,2386.09 441.20,2384.27 444.63,2382.38 448.07,2380.40 451.50,2378.34 454.93,2376.19 458.37,2373.95 461.80,2371.61 465.24,2369.19 468.67,2366.66 472.10,2364.03 475.54,2361.30 478.97,2358.46 482.41,2355.52 485.84,2352.46 489.27,2349.29 492.71,2346.01 496.14,2342.61 499.58,2339.08 503.01,2335.44 506.44,2331.68 509.88,2327.79 513.31,2323.78 516.75,2319.64 520.18,2315.37 523.61,2310.98 527.05,2306.47 530.48,2301.83 533.92,2297.06 537.35,2292.18 540.78,2287.17 544.22,2282.04 547.65,2276.79 551.09,2271.43 554.52,2265.96 557.95,2260.38 561.39,2254.70 564.82,2248.92 568.26,2243.04 571.69,2237.08 575.12,2231.03 578.56,2224.91 581.99,2218.72 585.43,2212.46 588.86,2206.15 592.29,2199.79 595.73,2193.39 599.16,2186.95 602.60,2180.49 606.03,2174.01 609.46,2167.52 612.90,2161.03 616.33,2154.55 619.77,2148.08 623.20,2141.64 626.63,2135.23 630.07,2128.86 633.50,2122.53 636.94,2116.26 640.37,2110.05 643.80,2103.91 647.24,2097.84 650.67,2091.86 654.11,2085.96 657.54,2080.16 660.97,2074.45 664.41,2068.84 667.84,2063.35 671.28,2057.96 674.71,2052.68 678.14,2047.52 681.58,2042.48 685.01,2037.56 688.45,2032.77 691.88,2028.09 695.31,2023.55 698.75,2019.13 702.18,2014.83 705.62,2010.66 709.05,2006.62 712.48,2002.70 715.92,1998.90 719.35,1995.23 722.79,1991.68 726.22,1988.24 729.65,1984.93 733.09,1981.73 736.52,1978.65 739.96,1975.67 743.39,1972.81 746.82,1970.05 750.26,1967.40 753.69,1964.85 757.13,1962.39 760.56,1960.04 763.99,1957.77 767.43,1955.60 770.86,1953.52 774.30,1951.52 777.73,1949.60 781.16,1947.76 784.60,1946.00 788.03,1944.32 791.47,1942.70 794.90,1941.16 798.33,1939.68 801.77,1938.26 805.20,1936.91 808.64,1935.62 812.07,1934.38 815.50,1933.20 818.94,1932.08 822.37,1931.00 825.81,1929.97 829.24,1928.99 832.67,1928.05 836.11,1927.16 839.54,1926.30 842.98,1925.49 846.41,1924.71 849.84,1923.97 853.28,1923.27 856.71,1922.59 860.15,1921.95 863.58,1921.34 867.01,1920.76 870.45,1920.20 873.88,1919.67 877.32,1919.16 880.75,1918.68 884.18,1918.23 887.62,1917.79 891.05,1917.37 894.49,1916.98 897.92,1916.60 901.35,1916.24 904.79,1915.90 908.22,1915.58 911.66,1915.27 915.09,1914.97 918.52,1914.69 921.96,1914.42 925.39,1914.17 928.83,1913.93 932.26,1913.70 935.69,1913.48 939.13,1913.27 942.56,1913.07 946.00,1912.88 949.43,1912.70 952.86,1912.53 956.30,1912.37 959.73,1912.21 963.17,1912.07 966.60,1911.93" fill="none" stroke="#0606dc" stroke-width="2.8" stroke-dasharray="39 25"/>
<polyline points="279.80,2422.34 283.23,2422.23 286.67,2422.11 290.10,2421.98 293.54,2421.85 296.97,2421.71 300.40,2421.56 303.84,2421.41 307.27,2421.24 310.71,2421.06 314.14,2420.88 317.57,2420.68 321.01,2420.47 324.44,2420.24 327.88,2420.01 331.31,2419.76 334.74,2419.50 338.18,2419.22 341.61,2418.92 345.05,2418.61 348.48,2418.27 351.91,2417.92 355.35,2417.55 358.78,2417.16 362.22,2416.74 365.65,2416.30 369.08,2415.83 372.52,2415.34 375.95,2414.82 379.39,2414.26 382.82,2413.68 386.25,2413.06 389.69,2412.41 393.12,2411.72 396.56,2410.99 399.99,2410.22 403.42,2409.40 406.86,2408.54 410.29,2407.63 413.73,2406.67 417.16,2405.66 420.59,2404.58 424.03,2403.45 427.46,2402.26 430.90,2401.00 434.33,2399.68 437.76,2398.28 441.20,2396.81 444.63,2395.26 448.07,2393.62 451.50,2391.90 454.93,2390.09 458.37,2388.19 461.80,2386.18 465.24,2384.08 468.67,2381.87 472.10,2379.55 475.54,2377.11 478.97,2374.56 482.41,2371.88 485.84,2369.08 489.27,2366.14 492.71,2363.07 496.14,2359.86 499.58,2356.50 503.01,2353.00 506.44,2349.35 509.88,2345.54 513.31,2341.58 516.75,2337.45 520.18,2333.17 523.61,2328.71 527.05,2324.10 530.48,2319.31 533.92,2314.36 537.35,2309.23 540.78,2303.95 544.22,2298.49 547.65,2292.87 551.09,2287.08 554.52,2281.14 557.95,2275.04 561.39,2268.78 564.82,2262.39 568.26,2255.85 571.69,2249.18 575.12,2242.38 578.56,2235.46 581.99,2228.44 585.43,2221.32 588.86,2214.11 592.29,2206.82 595.73,2199.46 599.16,2192.06 602.60,2184.60 606.03,2177.12 609.46,2169.62 612.90,2162.11 616.33,2154.62 619.77,2147.14 623.20,2139.70 626.63,2132.30 630.07,2124.96 633.50,2117.68 636.94,2110.49 640.37,2103.39 643.80,2096.39 647.24,2089.50 650.67,2082.73 654.11,2076.09 657.54,2069.58 660.97,2063.22 664.41,2057.00 667.84,2050.93 671.28,2045.02 674.71,2039.27 678.14,2033.69 681.58,2028.27 685.01,2023.01 688.45,2017.93 691.88,2013.01 695.31,2008.27 698.75,2003.68 702.18,1999.27 705.62,1995.02 709.05,1990.93 712.48,1987.00 715.92,1983.23 719.35,1979.61 722.79,1976.14 726.22,1972.82 729.65,1969.64 733.09,1966.60 736.52,1963.69 739.96,1960.91 743.39,1958.26 746.82,1955.74 750.26,1953.33 753.69,1951.03 757.13,1948.84 760.56,1946.76 763.99,1944.78 767.43,1942.90 770.86,1941.11 774.30,1939.41 777.73,1937.79 781.16,1936.26 784.60,1934.80 788.03,1933.42 791.47,1932.11 794.90,1930.87 798.33,1929.69 801.77,1928.57 805.20,1927.51 808.64,1926.51 812.07,1925.56 815.50,1924.66 818.94,1923.81 822.37,1923.01 825.81,1922.25 829.24,1921.52 832.67,1920.84 836.11,1920.20 839.54,1919.59 842.98,1919.01 846.41,1918.46 849.84,1917.95 853.28,1917.46 856.71,1917.00 860.15,1916.57 863.58,1916.15 867.01,1915.76 870.45,1915.40 873.88,1915.05 877.32,1914.72 880.75,1914.41 884.18,1914.12 887.62,1913.84 891.05,1913.58 894.49,1913.34 897.92,1913.11 901.35,1912.89 904.79,1912.68 908.22,1912.48 911.66,1912.30 915.09,1912.12 918.52,1911.96 921.96,1911.80 925.39,1911.66 928.83,1911.52 932.26,1911.39 935.69,1911.26 939.13,1911.15 942.56,1911.04 946.00,1910.93 949.43,1910.84 952.86,1910.74 956.30,1910.66 959.73,1910.57 963.17,1910.50 966.60,1910.42" fill="none" stroke="#000" stroke-width="2.8" stroke-dasharray="39 25"/>
<polyline points="279.80,2424.05 283.23,2424.04 286.67,2424.02 290.10,2424.01 293.54,2423.99 296.97,2423.97 300.40,2423.95 303.84,2423.93 307.27,2423.91 310.71,2423.88 314.14,2423.85 317.57,2423.82 321.01,2423.79 324.44,2423.75 327.88,2423.71 331.31,2423.67 334.74,2423.62 338.18,2423.57 341.61,2423.51 345.05,2423.45 348.48,2423.39 351.91,2423.31 355.35,2423.23 358.78,2423.15 362.22,2423.06 365.65,2422.95 369.08,2422.84 372.52,2422.72 375.95,2422.59 379.39,2422.45 382.82,2422.29 386.25,2422.12 389.69,2421.94 393.12,2421.74 396.56,2421.52 399.99,2421.28 403.42,2421.02 406.86,2420.74 410.29,2420.43 413.73,2420.10 417.16,2419.74 420.59,2419.34 424.03,2418.92 427.46,2418.45 430.90,2417.94 434.33,2417.39 437.76,2416.79 441.20,2416.14 444.63,2415.44 448.07,2414.67 451.50,2413.84 454.93,2412.93 458.37,2411.95 461.80,2410.89 465.24,2409.74 468.67,2408.48 472.10,2407.13 475.54,2405.66 478.97,2404.07 482.41,2402.35 485.84,2400.49 489.27,2398.49 492.71,2396.32 496.14,2393.98 499.58,2391.45 503.01,2388.73 506.44,2385.80 509.88,2382.66 513.31,2379.27 516.75,2375.64 520.18,2371.75 523.61,2367.59 527.05,2363.14 530.48,2358.39 533.92,2353.33 537.35,2347.94 540.78,2342.22 544.22,2336.16 547.65,2329.75 551.09,2322.98 554.52,2315.85 557.95,2308.36 561.39,2300.51 564.82,2292.31 568.26,2283.75 571.69,2274.86 575.12,2265.64 578.56,2256.11 581.99,2246.30 585.43,2236.22 588.86,2225.91 592.29,2215.40 595.73,2204.71 599.16,2193.89 602.60,2182.97 606.03,2171.99 609.46,2160.99 612.90,2150.01 616.33,2139.10 619.77,2128.28 623.20,2117.60 626.63,2107.09 630.07,2096.79 633.50,2086.72 636.94,2076.92 640.37,2067.41 643.80,2058.20 647.24,2049.32 650.67,2040.77 654.11,2032.58 657.54,2024.74 660.97,2017.27 664.41,2010.15 667.84,2003.40 671.28,1997.00 674.71,1990.95 678.14,1985.25 681.58,1979.87 685.01,1974.82 688.45,1970.08 691.88,1965.65 695.31,1961.49 698.75,1957.61 702.18,1953.99 705.62,1950.62 709.05,1947.48 712.48,1944.56 715.92,1941.85 719.35,1939.33 722.79,1937.00 726.22,1934.83 729.65,1932.83 733.09,1930.98 736.52,1929.26 739.96,1927.68 743.39,1926.22 746.82,1924.87 750.26,1923.62 753.69,1922.47 757.13,1921.41 760.56,1920.43 763.99,1919.53 767.43,1918.70 770.86,1917.93 774.30,1917.23 777.73,1916.58 781.16,1915.99 784.60,1915.44 788.03,1914.93 791.47,1914.47 794.90,1914.04 798.33,1913.65 801.77,1913.29 805.20,1912.95 808.64,1912.65 812.07,1912.37 815.50,1912.11 818.94,1911.87 822.37,1911.65 825.81,1911.45 829.24,1911.27 832.67,1911.10 836.11,1910.95 839.54,1910.80 842.98,1910.67 846.41,1910.55 849.84,1910.44 853.28,1910.34 856.71,1910.25 860.15,1910.16 863.58,1910.08 867.01,1910.01 870.45,1909.94 873.88,1909.88 877.32,1909.83 880.75,1909.78 884.18,1909.73 887.62,1909.69 891.05,1909.65 894.49,1909.61 897.92,1909.58 901.35,1909.55 904.79,1909.52 908.22,1909.49 911.66,1909.47 915.09,1909.45 918.52,1909.43 921.96,1909.41 925.39,1909.39 928.83,1909.37 932.26,1909.36 935.69,1909.35 939.13,1909.34 942.56,1909.32 946.00,1909.31 949.43,1909.30 952.86,1909.30 956.30,1909.29 959.73,1909.28 963.17,1909.27 966.60,1909.27" fill="none" stroke="#e41a22" stroke-width="2.8" stroke-dasharray="39 25"/>
<path d="M280.50,2368.80L298.10,2368.80M289.30,2360.00L289.30,2377.60" stroke="#f2c20f" stroke-width="3.4" fill="none"/>
<path d="M346.60,2331.50L364.20,2331.50M355.40,2322.70L355.40,2340.30" stroke="#f2c20f" stroke-width="3.4" fill="none"/>
<path d="M394.40,2311.80L412.00,2311.80M403.20,2303.00L403.20,2320.60" stroke="#f2c20f" stroke-width="3.4" fill="none"/>
<path d="M434.70,2302.00L452.30,2302.00M443.50,2293.20L443.50,2310.80" stroke="#f2c20f" stroke-width="3.4" fill="none"/>
<path d="M468.20,2331.50L485.80,2331.50M477.00,2322.70L477.00,2340.30" stroke="#f2c20f" stroke-width="3.4" fill="none"/>
<path d="M498.20,2209.50L515.80,2209.50M507.00,2200.70L507.00,2218.30" stroke="#f2c20f" stroke-width="3.4" fill="none"/>
<path d="M527.30,2286.60L544.90,2286.60M536.10,2277.80L536.10,2295.40" stroke="#f2c20f" stroke-width="3.4" fill="none"/>
<path d="M551.40,2205.60L569.00,2205.60M560.20,2196.80L560.20,2214.40" stroke="#f2c20f" stroke-width="3.4" fill="none"/>
<path d="M567.80,2201.20L585.40,2201.20M576.60,2192.40L576.60,2210.00" stroke="#f2c20f" stroke-width="3.4" fill="none"/>
<path d="M595.90,2138.80L613.50,2138.80M604.70,2130.00L604.70,2147.60" stroke="#f2c20f" stroke-width="3.4" fill="none"/>
<path d="M606.80,2189.20L624.40,2189.20M615.60,2180.40L615.60,2198.00" stroke="#f2c20f" stroke-width="3.4" fill="none"/>
<path d="M631.50,2138.10L649.10,2138.10M640.30,2129.30L640.30,2146.90" stroke="#f2c20f" stroke-width="3.4" fill="none"/>
<path d="M650.60,2097.10L668.20,2097.10M659.40,2088.30L659.40,2105.90" stroke="#f2c20f" stroke-width="3.4" fill="none"/>
<path d="M677.10,2122.90L694.70,2122.90M685.90,2114.10L685.90,2131.70" stroke="#f2c20f" stroke-width="3.4" fill="none"/>
<path d="M706.50,2061.50L724.10,2061.50M715.30,2052.70L715.30,2070.30" stroke="#f2c20f" stroke-width="3.4" fill="none"/>
<path d="M733.50,2015.40L751.10,2015.40M742.30,2006.60L742.30,2024.20" stroke="#f2c20f" stroke-width="3.4" fill="none"/>
<path d="M771.00,2035.50L788.60,2035.50M779.80,2026.70L779.80,2044.30" stroke="#f2c20f" stroke-width="3.4" fill="none"/>
<path d="M814.70,2020.70L832.30,2020.70M823.50,2011.90L823.50,2029.50" stroke="#f2c20f" stroke-width="3.4" fill="none"/>
<path d="M857.70,1974.70L875.30,1974.70M866.50,1965.90L866.50,1983.50" stroke="#f2c20f" stroke-width="3.4" fill="none"/>
<path d="M914.60,1984.80L932.20,1984.80M923.40,1976.00L923.40,1993.60" stroke="#f2c20f" stroke-width="3.4" fill="none"/>
<path d="M269.10,2417.80L286.30,2435.00M269.10,2435.00L286.30,2417.80" stroke="#e41a22" stroke-width="3.6" fill="none"/>
<path d="M379.70,2417.10L396.90,2434.30M379.70,2434.30L396.90,2417.10" stroke="#e41a22" stroke-width="3.6" fill="none"/>
<path d="M411.40,2414.90L428.60,2432.10M411.40,2432.10L428.60,2414.90" stroke="#e41a22" stroke-width="3.6" fill="none"/>
<path d="M445.40,2406.20L462.60,2423.40M445.40,2423.40L462.60,2406.20" stroke="#e41a22" stroke-width="3.6" fill="none"/>
<path d="M473.40,2395.20L490.60,2412.40M473.40,2412.40L490.60,2395.20" stroke="#e41a22" stroke-width="3.6" fill="none"/>
<path d="M497.50,2406.20L514.70,2423.40M497.50,2423.40L514.70,2406.20" stroke="#e41a22" stroke-width="3.6" fill="none"/>
<path d="M520.30,2358.00L537.50,2375.20M520.30,2375.20L537.50,2358.00" stroke="#e41a22" stroke-width="3.6" fill="none"/>
<path d="M543.90,2315.30L561.10,2332.50M543.90,2332.50L561.10,2315.30" stroke="#e41a22" stroke-width="3.6" fill="none"/>
<path d="M569.10,2223.30L586.30,2240.50M569.10,2240.50L586.30,2223.30" stroke="#e41a22" stroke-width="3.6" fill="none"/>
<path d="M587.90,2238.40L605.10,2255.60M587.90,2255.60L605.10,2238.40" stroke="#e41a22" stroke-width="3.6" fill="none"/>
<path d="M611.70,2115.00L628.90,2132.20M611.70,2132.20L628.90,2115.00" stroke="#e41a22" stroke-width="3.6" fill="none"/>
<path d="M628.50,2067.40L645.70,2084.60M628.50,2084.60L645.70,2067.40" stroke="#e41a22" stroke-width="3.6" fill="none"/>
<path d="M652.00,1986.10L669.20,2003.30M652.00,2003.30L669.20,1986.10" stroke="#e41a22" stroke-width="3.6" fill="none"/>
<path d="M676.80,1974.60L694.00,1991.80M676.80,1991.80L694.00,1974.60" stroke="#e41a22" stroke-width="3.6" fill="none"/>
<path d="M704.90,1971.20L722.10,1988.40M704.90,1988.40L722.10,1971.20" stroke="#e41a22" stroke-width="3.6" fill="none"/>
<path d="M733.00,1915.00L750.20,1932.20M733.00,1932.20L750.20,1915.00" stroke="#e41a22" stroke-width="3.6" fill="none"/>
<path d="M765.90,1904.40L783.10,1921.60M765.90,1921.60L783.10,1904.40" stroke="#e41a22" stroke-width="3.6" fill="none"/>
<path d="M806.60,1899.70L823.80,1916.90M806.60,1916.90L823.80,1899.70" stroke="#e41a22" stroke-width="3.6" fill="none"/>
<path d="M877.50,1899.70L894.70,1916.90M877.50,1916.90L894.70,1899.70" stroke="#e41a22" stroke-width="3.6" fill="none"/>
<circle cx="347.80" cy="2390.70" r="8.90" fill="none" stroke="#0606dc" stroke-width="3.6"/>
<circle cx="405.80" cy="2395.10" r="8.90" fill="none" stroke="#0606dc" stroke-width="3.6"/>
<circle cx="455.10" cy="2356.70" r="8.90" fill="none" stroke="#0606dc" stroke-width="3.6"/>
<circle cx="539.00" cy="2260.30" r="8.90" fill="none" stroke="#0606dc" stroke-width="3.6"/>
<circle cx="565.70" cy="2280.00" r="8.90" fill="none" stroke="#0606dc" stroke-width="3.6"/>
<circle cx="593.80" cy="2208.20" r="8.90" fill="none" stroke="#0606dc" stroke-width="3.6"/>
<circle cx="618.00" cy="2183.40" r="8.90" fill="none" stroke="#0606dc" stroke-width="3.6"/>
<circle cx="638.70" cy="2125.20" r="8.90" fill="none" stroke="#0606dc" stroke-width="3.6"/>
<circle cx="659.40" cy="2110.50" r="8.90" fill="none" stroke="#0606dc" stroke-width="3.6"/>
<circle cx="675.50" cy="2076.90" r="8.90" fill="none" stroke="#0606dc" stroke-width="3.6"/>
<circle cx="697.40" cy="1995.40" r="8.90" fill="none" stroke="#0606dc" stroke-width="3.6"/>
<circle cx="717.60" cy="1980.20" r="8.90" fill="none" stroke="#0606dc" stroke-width="3.6"/>
<circle cx="738.30" cy="1990.10" r="8.90" fill="none" stroke="#0606dc" stroke-width="3.6"/>
<circle cx="766.40" cy="1960.90" r="8.90" fill="none" stroke="#0606dc" stroke-width="3.6"/>
<circle cx="795.20" cy="1928.00" r="8.90" fill="none" stroke="#0606dc" stroke-width="3.6"/>
<circle cx="828.60" cy="1918.10" r="8.90" fill="none" stroke="#0606dc" stroke-width="3.6"/>
<circle cx="864.90" cy="1908.40" r="8.90" fill="none" stroke="#0606dc" stroke-width="3.6"/>
<circle cx="910.30" cy="1913.50" r="8.90" fill="none" stroke="#0606dc" stroke-width="3.6"/>
<circle cx="966.20" cy="1908.40" r="8.90" fill="none" stroke="#0606dc" stroke-width="3.6"/>
<path d="M286.50,2402.81L295.67,2418.69L277.33,2418.69Z" stroke="#000" stroke-width="3.6" fill="none" stroke-linejoin="miter" stroke-miterlimit="10"/>
<path d="M344.10,2414.81L353.27,2430.69L334.94,2430.69Z" stroke="#000" stroke-width="3.6" fill="none" stroke-linejoin="miter" stroke-miterlimit="10"/>
<path d="M388.00,2399.71L397.17,2415.59L378.83,2415.59Z" stroke="#000" stroke-width="3.6" fill="none" stroke-linejoin="miter" stroke-miterlimit="10"/>
<path d="M436.90,2399.91L446.06,2415.79L427.73,2415.79Z" stroke="#000" stroke-width="3.6" fill="none" stroke-linejoin="miter" stroke-miterlimit="10"/>
<path d="M477.30,2371.31L486.47,2387.19L468.13,2387.19Z" stroke="#000" stroke-width="3.6" fill="none" stroke-linejoin="miter" stroke-miterlimit="10"/>
<path d="M502.10,2338.51L511.27,2354.39L492.94,2354.39Z" stroke="#000" stroke-width="3.6" fill="none" stroke-linejoin="miter" stroke-miterlimit="10"/>
<path d="M531.80,2315.21L540.96,2331.09L522.63,2331.09Z" stroke="#000" stroke-width="3.6" fill="none" stroke-linejoin="miter" stroke-miterlimit="10"/>
<path d="M554.10,2272.81L563.26,2288.69L544.94,2288.69Z" stroke="#000" stroke-width="3.6" fill="none" stroke-linejoin="miter" stroke-miterlimit="10"/>
<path d="M576.40,2209.31L585.56,2225.19L567.24,2225.19Z" stroke="#000" stroke-width="3.6" fill="none" stroke-linejoin="miter" stroke-miterlimit="10"/>
<path d="M599.30,2166.31L608.46,2182.19L590.13,2182.19Z" stroke="#000" stroke-width="3.6" fill="none" stroke-linejoin="miter" stroke-miterlimit="10"/>
<path d="M612.80,2163.81L621.96,2179.69L603.63,2179.69Z" stroke="#000" stroke-width="3.6" fill="none" stroke-linejoin="miter" stroke-miterlimit="10"/>
<path d="M637.20,2151.81L646.37,2167.69L628.04,2167.69Z" stroke="#000" stroke-width="3.6" fill="none" stroke-linejoin="miter" stroke-miterlimit="10"/>
<path d="M656.30,2041.61L665.46,2057.49L647.13,2057.49Z" stroke="#000" stroke-width="3.6" fill="none" stroke-linejoin="miter" stroke-miterlimit="10"/>
<path d="M681.10,1994.71L690.26,2010.59L671.94,2010.59Z" stroke="#000" stroke-width="3.6" fill="none" stroke-linejoin="miter" stroke-miterlimit="10"/>
<path d="M710.10,1994.71L719.26,2010.59L700.94,2010.59Z" stroke="#000" stroke-width="3.6" fill="none" stroke-linejoin="miter" stroke-miterlimit="10"/>
<path d="M741.20,1918.41L750.37,1934.29L732.04,1934.29Z" stroke="#000" stroke-width="3.6" fill="none" stroke-linejoin="miter" stroke-miterlimit="10"/>
<path d="M775.40,1923.21L784.56,1939.09L766.24,1939.09Z" stroke="#000" stroke-width="3.6" fill="none" stroke-linejoin="miter" stroke-miterlimit="10"/>
<path d="M823.00,1918.01L832.16,1933.89L813.84,1933.89Z" stroke="#000" stroke-width="3.6" fill="none" stroke-linejoin="miter" stroke-miterlimit="10"/>
<path d="M862.40,1927.41L871.56,1943.29L853.24,1943.29Z" stroke="#000" stroke-width="3.6" fill="none" stroke-linejoin="miter" stroke-miterlimit="10"/>
<path d="M930.70,1908.41L939.87,1924.29L921.54,1924.29Z" stroke="#000" stroke-width="3.6" fill="none" stroke-linejoin="miter" stroke-miterlimit="10"/>
<rect x="752.8" y="2223.6" width="201.8" height="150.2" fill="#fff" stroke="#000" stroke-width="1.6"/>
<circle cx="783.70" cy="2247.50" r="8.90" fill="none" stroke="#0606dc" stroke-width="3.8"/>
<text x="815.60" y="2255.00" font-size="28.2" text-anchor="start" fill="#000">Monkey A</text>
<path d="M775.10,2273.50L792.30,2290.70M775.10,2290.70L792.30,2273.50" stroke="#e41a22" stroke-width="3.8" fill="none"/>
<text x="815.60" y="2290.07" font-size="28.2" text-anchor="start" fill="#000">Monkey B</text>
<path d="M774.90,2317.20L792.50,2317.20M783.70,2308.40L783.70,2326.00" stroke="#f2c20f" stroke-width="3.8" fill="none"/>
<text x="815.60" y="2325.14" font-size="28.2" text-anchor="start" fill="#000">Monkey C</text>
<path d="M783.70,2343.93L793.45,2360.83L773.95,2360.83Z" stroke="#000" stroke-width="3.8" fill="none" stroke-linejoin="miter" stroke-miterlimit="10"/>
<text x="815.60" y="2360.21" font-size="28.2" text-anchor="start" fill="#000">Monkey D</text>
<rect x="1239.50" y="2043.31" width="51.6" height="380.29" fill="#9696e0"/>
<rect x="1307.80" y="1980.44" width="51.6" height="443.16" fill="#000096"/>
<rect x="1433.90" y="2049.49" width="51.6" height="374.11" fill="#00968c"/>
<rect x="1502.60" y="2111.33" width="51.6" height="312.27" fill="#9696e0"/>
<rect x="1571.40" y="2082.47" width="51.6" height="341.13" fill="#000096"/>
<rect x="1706.00" y="2224.69" width="51.6" height="198.91" fill="#9696e0"/>
<rect x="1774.80" y="2217.48" width="51.6" height="206.12" fill="#000096"/>
<line x1="1184.10" y1="1908.30" x2="1184.10" y2="2424.50" stroke="#000" stroke-width="1.8"/>
<line x1="1183.20" y1="2423.60" x2="1872.70" y2="2423.60" stroke="#000" stroke-width="1.8"/>
<text x="1174.60" y="2433.60" font-size="28.2" text-anchor="end" fill="#000">0.5</text>
<line x1="1184.10" y1="2320.54" x2="1190.60" y2="2320.54" stroke="#000" stroke-width="1.6"/>
<text x="1174.60" y="2330.54" font-size="28.2" text-anchor="end" fill="#000">0.6</text>
<line x1="1184.10" y1="2217.48" x2="1190.60" y2="2217.48" stroke="#000" stroke-width="1.6"/>
<text x="1174.60" y="2227.48" font-size="28.2" text-anchor="end" fill="#000">0.7</text>
<line x1="1184.10" y1="2114.42" x2="1190.60" y2="2114.42" stroke="#000" stroke-width="1.6"/>
<text x="1174.60" y="2124.42" font-size="28.2" text-anchor="end" fill="#000">0.8</text>
<line x1="1184.10" y1="2011.36" x2="1190.60" y2="2011.36" stroke="#000" stroke-width="1.6"/>
<text x="1174.60" y="2021.36" font-size="28.2" text-anchor="end" fill="#000">0.9</text>
<line x1="1184.10" y1="1908.30" x2="1190.60" y2="1908.30" stroke="#000" stroke-width="1.6"/>
<text x="1174.60" y="1918.30" font-size="28.2" text-anchor="end" fill="#000">1</text>
<text x="1296.60" y="2453.70" font-size="28.2" text-anchor="middle" fill="#000">Consistent</text>
<text x="1531.00" y="2453.70" font-size="28.2" text-anchor="middle" fill="#000">1-dimensional</text>
<text x="1765.30" y="2453.70" font-size="28.2" text-anchor="middle" fill="#000">Inconsistent</text>
<text x="1528.80" y="2508.60" font-size="28.2" text-anchor="middle" fill="#000">Dimensionality</text>
<text x="1593.90" y="1886.30" font-size="28.2" text-anchor="middle" fill="#000">Subjective performance across conditions</text>
<text x="1107.50" y="2142.50" font-size="28.2" text-anchor="middle" fill="#000" transform="rotate(-90 1107.50 2142.50)">Subjectively best choices</text>
<text x="1116.50" y="1886.80" font-size="32.5" text-anchor="start" font-weight="bold" fill="#000">f</text>
<path d="M1256.27,1899.27L1274.33,1917.33M1256.27,1917.33L1274.33,1899.27" stroke="#000" stroke-width="3.8" fill="none"/>
<circle cx="1265.30" cy="1981.47" r="8.90" fill="none" stroke="#000" stroke-width="3.8"/>
<path d="M1265.30,1988.75L1275.05,2005.65L1255.55,2005.65Z" stroke="#000" stroke-width="3.8" fill="none" stroke-linejoin="miter" stroke-miterlimit="10"/>
<path d="M1256.50,2279.32L1274.10,2279.32M1265.30,2270.52L1265.30,2288.12" stroke="#fff" stroke-width="3.8" fill="none"/>
<path d="M1321.30,1919.91L1331.05,1936.81L1311.55,1936.81Z" stroke="#000" stroke-width="3.8" fill="none" stroke-linejoin="miter" stroke-miterlimit="10"/>
<path d="M1335.97,1921.94L1354.03,1940.00M1335.97,1940.00L1354.03,1921.94" stroke="#000" stroke-width="3.8" fill="none"/>
<circle cx="1333.60" cy="1993.84" r="8.90" fill="none" stroke="#fff" stroke-width="3.8"/>
<path d="M1324.80,2064.95L1342.40,2064.95M1333.60,2056.15L1333.60,2073.75" stroke="#fff" stroke-width="3.8" fill="none"/>
<path d="M1450.87,1980.69L1468.93,1998.75M1450.87,1998.75L1468.93,1980.69" stroke="#000" stroke-width="3.8" fill="none"/>
<path d="M1459.90,2043.38L1469.65,2060.28L1450.15,2060.28Z" stroke="#fff" stroke-width="3.8" fill="none" stroke-linejoin="miter" stroke-miterlimit="10"/>
<path d="M1451.10,2070.10L1468.70,2070.10M1459.90,2061.30L1459.90,2078.90" stroke="#fff" stroke-width="3.8" fill="none"/>
<circle cx="1459.90" cy="2082.47" r="8.90" fill="none" stroke="#fff" stroke-width="3.8"/>
<path d="M1519.37,2033.25L1537.43,2051.31M1519.37,2051.31L1537.43,2033.25" stroke="#000" stroke-width="3.8" fill="none"/>
<path d="M1528.40,2039.77L1538.15,2056.67L1518.65,2056.67Z" stroke="#000" stroke-width="3.8" fill="none" stroke-linejoin="miter" stroke-miterlimit="10"/>
<circle cx="1528.40" cy="2099.27" r="8.90" fill="none" stroke="#000" stroke-width="3.8"/>
<path d="M1519.60,2250.46L1537.20,2250.46M1528.40,2241.66L1528.40,2259.26" stroke="#fff" stroke-width="3.8" fill="none"/>
<path d="M1597.20,2031.21L1606.95,2048.11L1587.45,2048.11Z" stroke="#000" stroke-width="3.8" fill="none" stroke-linejoin="miter" stroke-miterlimit="10"/>
<path d="M1588.17,2043.55L1606.23,2061.61M1588.17,2061.61L1606.23,2043.55" stroke="#000" stroke-width="3.8" fill="none"/>
<circle cx="1597.20" cy="2094.12" r="8.90" fill="none" stroke="#fff" stroke-width="3.8"/>
<path d="M1588.40,2141.22L1606.00,2141.22M1597.20,2132.42L1597.20,2150.02" stroke="#fff" stroke-width="3.8" fill="none"/>
<path d="M1722.77,2114.67L1740.83,2132.73M1722.77,2132.73L1740.83,2114.67" stroke="#000" stroke-width="3.8" fill="none"/>
<circle cx="1731.80" cy="2180.38" r="8.90" fill="none" stroke="#000" stroke-width="3.8"/>
<path d="M1731.80,2232.49L1741.55,2249.39L1722.05,2249.39Z" stroke="#fff" stroke-width="3.8" fill="none" stroke-linejoin="miter" stroke-miterlimit="10"/>
<path d="M1723.00,2353.52L1740.60,2353.52M1731.80,2344.72L1731.80,2362.32" stroke="#fff" stroke-width="3.8" fill="none"/>
<path d="M1791.57,2114.67L1809.63,2132.73M1791.57,2132.73L1809.63,2114.67" stroke="#000" stroke-width="3.8" fill="none"/>
<circle cx="1800.60" cy="2228.82" r="8.90" fill="none" stroke="#fff" stroke-width="3.8"/>
<path d="M1791.80,2264.06L1809.40,2264.06M1800.60,2255.26L1800.60,2272.86" stroke="#fff" stroke-width="3.8" fill="none"/>
<path d="M1800.60,2243.93L1810.35,2260.83L1790.85,2260.83Z" stroke="#fff" stroke-width="3.8" fill="none" stroke-linejoin="miter" stroke-miterlimit="10"/>
<rect x="1657.9" y="1941.2" width="233.5" height="99.6" fill="#fff" stroke="#000" stroke-width="1.6"/>
<rect x="1669" y="1953.3" width="51.8" height="16.6" fill="#00968c"/>
<text x="1731.30" y="1969.10" font-size="28.2" text-anchor="start" fill="#000">Training</text>
<rect x="1669" y="1984.4" width="51.8" height="16.6" fill="#9696e0"/>
<text x="1731.30" y="2000.00" font-size="28.2" text-anchor="start" fill="#000">Test familiar</text>
<rect x="1669" y="2015.2" width="51.8" height="16.6" fill="#000096"/>
<text x="1731.30" y="2031.10" font-size="28.2" text-anchor="start" fill="#000">Test novel</text>
</svg></body></html>
